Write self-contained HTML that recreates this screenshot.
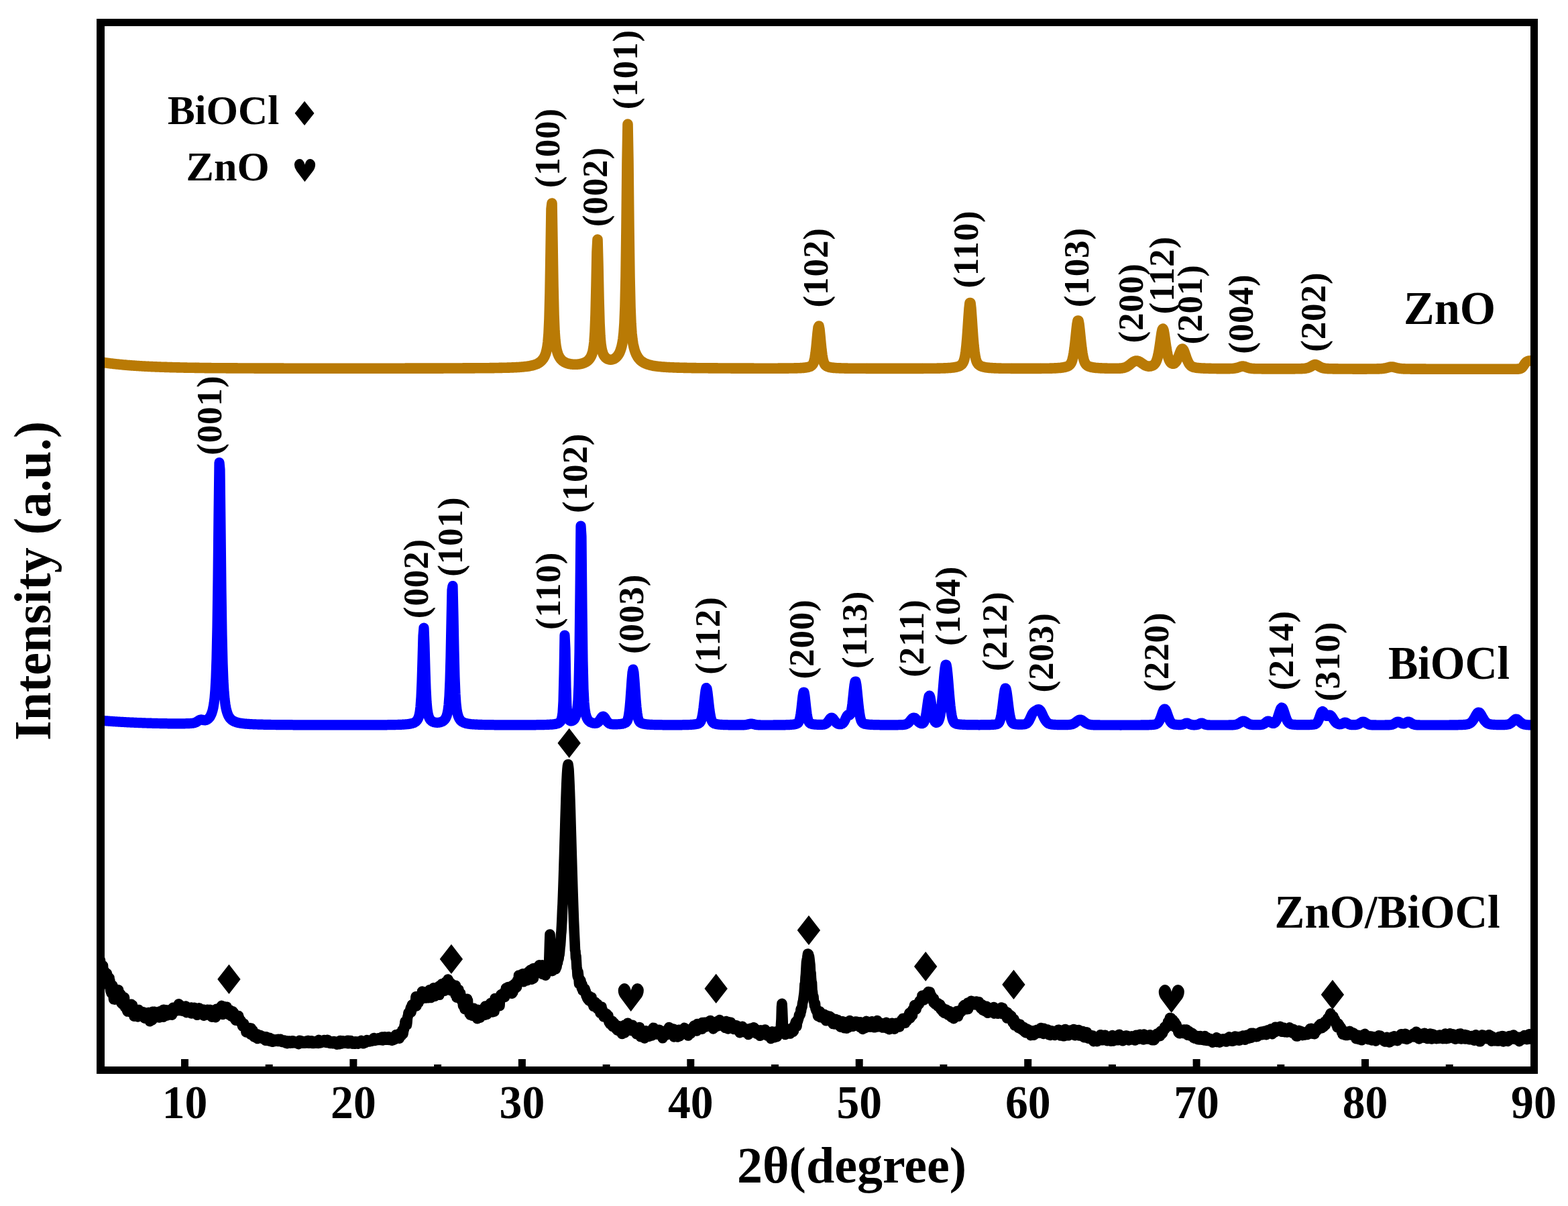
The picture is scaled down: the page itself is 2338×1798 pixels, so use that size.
<!DOCTYPE html>
<html lang="en"><head><meta charset="utf-8"><title>XRD patterns of ZnO, BiOCl and ZnO/BiOCl</title>
<style>
html,body{margin:0;padding:0;background:#fff;}
body{width:2338px;height:1798px;overflow:hidden;}
svg{display:block;}
</style></head><body>
<svg width="2338" height="1798" viewBox="0 0 2338 1798">
<rect x="0" y="0" width="2338" height="1798" fill="#fff"/>
<defs><clipPath id="plotclip"><rect x="150" y="33" width="2138" height="1562"/></clipPath></defs>
<g fill="none" stroke-linejoin="round" stroke-linecap="butt" clip-path="url(#plotclip)">
<path d="M146.0,539.1 L147.0,539.3 L148.0,539.5 L149.0,539.6 L150.0,539.8 L151.0,539.9 L152.0,540.1 L153.0,540.2 L154.0,540.4 L155.0,540.5 L156.0,540.7 L157.0,540.8 L158.0,541.0 L159.0,541.1 L160.0,541.2 L161.0,541.4 L162.0,541.5 L163.0,541.6 L164.0,541.8 L165.0,541.9 L166.0,542.0 L167.0,542.1 L168.0,542.2 L169.0,542.4 L170.0,542.5 L171.0,542.6 L172.0,542.7 L173.0,542.8 L174.0,542.9 L175.0,543.0 L176.0,543.1 L177.0,543.2 L178.0,543.3 L179.0,543.4 L180.0,543.5 L181.0,543.6 L182.0,543.7 L183.0,543.8 L184.0,543.9 L185.0,544.0 L186.0,544.1 L187.0,544.1 L188.0,544.2 L189.0,544.3 L190.0,544.4 L191.0,544.5 L192.0,544.6 L193.0,544.6 L194.0,544.7 L195.0,544.8 L196.0,544.9 L197.0,544.9 L198.0,545.0 L199.0,545.1 L200.0,545.1 L201.0,545.2 L202.0,545.3 L203.0,545.3 L204.0,545.4 L205.0,545.5 L206.0,545.5 L207.0,545.6 L208.0,545.7 L209.0,545.7 L210.0,545.8 L211.0,545.8 L212.0,545.9 L213.0,546.0 L214.0,546.0 L215.0,546.1 L216.0,546.1 L217.0,546.2 L218.0,546.2 L219.0,546.3 L220.0,546.3 L221.0,546.4 L222.0,546.4 L223.0,546.5 L224.0,546.5 L225.0,546.6 L226.0,546.6 L227.0,546.6 L228.0,546.7 L229.0,546.7 L230.0,546.8 L231.0,546.8 L232.0,546.9 L233.0,546.9 L234.0,546.9 L235.0,547.0 L236.0,547.0 L237.0,547.0 L238.0,547.1 L239.0,547.1 L240.0,547.2 L241.0,547.2 L242.0,547.2 L243.0,547.3 L244.0,547.3 L245.0,547.3 L246.0,547.4 L247.0,547.4 L248.0,547.4 L249.0,547.4 L250.0,547.5 L251.0,547.5 L252.0,547.5 L253.0,547.6 L254.0,547.6 L255.0,547.6 L256.0,547.6 L257.0,547.7 L258.0,547.7 L259.0,547.7 L260.0,547.8 L261.0,547.8 L262.0,547.8 L263.0,547.8 L264.0,547.9 L265.0,547.9 L266.0,547.9 L267.0,547.9 L268.0,547.9 L269.0,548.0 L270.0,548.0 L271.0,548.0 L272.0,548.0 L273.0,548.0 L274.0,548.1 L275.0,548.1 L276.0,548.1 L277.0,548.1 L278.0,548.1 L279.0,548.2 L280.0,548.2 L281.0,548.2 L282.0,548.2 L283.0,548.2 L284.0,548.3 L285.0,548.3 L286.0,548.3 L287.0,548.3 L288.0,548.3 L289.0,548.3 L290.0,548.3 L291.0,548.4 L292.0,548.4 L293.0,548.4 L294.0,548.4 L295.0,548.4 L296.0,548.4 L297.0,548.4 L298.0,548.5 L299.0,548.5 L300.0,548.5 L301.0,548.5 L302.0,548.5 L303.0,548.5 L304.0,548.5 L305.0,548.6 L306.0,548.6 L307.0,548.6 L308.0,548.6 L309.0,548.6 L310.0,548.6 L311.0,548.6 L312.0,548.6 L313.0,548.6 L314.0,548.6 L315.0,548.7 L316.0,548.7 L317.0,548.7 L318.0,548.7 L319.0,548.7 L320.0,548.7 L321.0,548.7 L322.0,548.7 L323.0,548.7 L324.0,548.7 L325.0,548.8 L326.0,548.8 L327.0,548.8 L328.0,548.8 L329.0,548.8 L330.0,548.8 L331.0,548.8 L332.0,548.8 L333.0,548.8 L334.0,548.8 L335.0,548.8 L336.0,548.8 L337.0,548.8 L338.0,548.9 L339.0,548.9 L340.0,548.9 L341.0,548.9 L342.0,548.9 L343.0,548.9 L344.0,548.9 L345.0,548.9 L346.0,548.9 L347.0,548.9 L348.0,548.9 L349.0,548.9 L350.0,548.9 L351.0,548.9 L352.0,548.9 L353.0,548.9 L354.0,548.9 L355.0,549.0 L356.0,549.0 L357.0,549.0 L358.0,549.0 L359.0,549.0 L360.0,549.0 L361.0,549.0 L362.0,549.0 L363.0,549.0 L364.0,549.0 L365.0,549.0 L366.0,549.0 L367.0,549.0 L368.0,549.0 L369.0,549.0 L370.0,549.0 L371.0,549.0 L372.0,549.0 L373.0,549.0 L374.0,549.0 L375.0,549.0 L376.0,549.0 L377.0,549.0 L378.0,549.0 L379.0,549.1 L380.0,549.1 L381.0,549.1 L382.0,549.1 L383.0,549.1 L384.0,549.1 L385.0,549.1 L386.0,549.1 L387.0,549.1 L388.0,549.1 L389.0,549.1 L390.0,549.1 L391.0,549.1 L392.0,549.1 L393.0,549.1 L394.0,549.1 L395.0,549.1 L396.0,549.1 L397.0,549.1 L398.0,549.1 L399.0,549.1 L400.0,549.1 L401.0,549.1 L402.0,549.1 L403.0,549.1 L404.0,549.1 L405.0,549.1 L406.0,549.1 L407.0,549.1 L408.0,549.1 L409.0,549.1 L410.0,549.1 L411.0,549.1 L412.0,549.1 L413.0,549.1 L414.0,549.1 L415.0,549.1 L416.0,549.1 L417.0,549.1 L418.0,549.1 L419.0,549.1 L420.0,549.1 L421.0,549.1 L422.0,549.1 L423.0,549.2 L424.0,549.2 L425.0,549.2 L426.0,549.2 L427.0,549.2 L428.0,549.2 L429.0,549.2 L430.0,549.2 L431.0,549.2 L432.0,549.2 L433.0,549.2 L434.0,549.2 L435.0,549.2 L436.0,549.2 L437.0,549.2 L438.0,549.2 L439.0,549.2 L440.0,549.2 L441.0,549.2 L442.0,549.2 L443.0,549.2 L444.0,549.2 L445.0,549.2 L446.0,549.2 L447.0,549.2 L448.0,549.2 L449.0,549.2 L450.0,549.2 L451.0,549.2 L452.0,549.2 L453.0,549.2 L454.0,549.2 L455.0,549.2 L456.0,549.2 L457.0,549.2 L458.0,549.2 L459.0,549.2 L460.0,549.2 L461.0,549.2 L462.0,549.2 L463.0,549.2 L464.0,549.2 L465.0,549.2 L466.0,549.2 L467.0,549.2 L468.0,549.2 L469.0,549.2 L470.0,549.2 L471.0,549.2 L472.0,549.2 L473.0,549.2 L474.0,549.2 L475.0,549.2 L476.0,549.2 L477.0,549.2 L478.0,549.2 L479.0,549.2 L480.0,549.2 L481.0,549.2 L482.0,549.2 L483.0,549.2 L484.0,549.2 L485.0,549.2 L486.0,549.2 L487.0,549.2 L488.0,549.2 L489.0,549.2 L490.0,549.2 L491.0,549.2 L492.0,549.2 L493.0,549.2 L494.0,549.2 L495.0,549.2 L496.0,549.2 L497.0,549.2 L498.0,549.2 L499.0,549.2 L500.0,549.2 L501.0,549.2 L502.0,549.2 L503.0,549.2 L504.0,549.2 L505.0,549.2 L506.0,549.2 L507.0,549.2 L508.0,549.2 L509.0,549.2 L510.0,549.2 L511.0,549.2 L512.0,549.2 L513.0,549.2 L514.0,549.2 L515.0,549.2 L516.0,549.2 L517.0,549.2 L518.0,549.2 L519.0,549.2 L520.0,549.2 L521.0,549.2 L522.0,549.2 L523.0,549.2 L524.0,549.2 L525.0,549.2 L526.0,549.2 L527.0,549.2 L528.0,549.2 L529.0,549.2 L530.0,549.2 L531.0,549.2 L532.0,549.2 L533.0,549.2 L534.0,549.2 L535.0,549.2 L536.0,549.2 L537.0,549.2 L538.0,549.2 L539.0,549.2 L540.0,549.2 L541.0,549.2 L542.0,549.2 L543.0,549.2 L544.0,549.2 L545.0,549.2 L546.0,549.2 L547.0,549.2 L548.0,549.2 L549.0,549.2 L550.0,549.2 L551.0,549.2 L552.0,549.2 L553.0,549.2 L554.0,549.2 L555.0,549.2 L556.0,549.2 L557.0,549.2 L558.0,549.2 L559.0,549.2 L560.0,549.2 L561.0,549.2 L562.0,549.2 L563.0,549.2 L564.0,549.2 L565.0,549.2 L566.0,549.2 L567.0,549.2 L568.0,549.2 L569.0,549.2 L570.0,549.2 L571.0,549.2 L572.0,549.2 L573.0,549.2 L574.0,549.2 L575.0,549.2 L576.0,549.2 L577.0,549.2 L578.0,549.2 L579.0,549.2 L580.0,549.2 L581.0,549.2 L582.0,549.2 L583.0,549.2 L584.0,549.2 L585.0,549.2 L586.0,549.2 L587.0,549.2 L588.0,549.2 L589.0,549.2 L590.0,549.2 L591.0,549.2 L592.0,549.2 L593.0,549.2 L594.0,549.2 L595.0,549.2 L596.0,549.2 L597.0,549.2 L598.0,549.2 L599.0,549.2 L600.0,549.2 L601.0,549.2 L602.0,549.2 L603.0,549.2 L604.0,549.2 L605.0,549.1 L606.0,549.1 L607.0,549.1 L608.0,549.1 L609.0,549.1 L610.0,549.1 L611.0,549.1 L612.0,549.1 L613.0,549.1 L614.0,549.1 L615.0,549.1 L616.0,549.1 L617.0,549.1 L618.0,549.1 L619.0,549.1 L620.0,549.1 L621.0,549.1 L622.0,549.1 L623.0,549.1 L624.0,549.1 L625.0,549.1 L626.0,549.1 L627.0,549.1 L628.0,549.1 L629.0,549.1 L630.0,549.1 L631.0,549.1 L632.0,549.1 L633.0,549.1 L634.0,549.1 L635.0,549.1 L636.0,549.1 L637.0,549.1 L638.0,549.1 L639.0,549.1 L640.0,549.1 L641.0,549.1 L642.0,549.1 L643.0,549.1 L644.0,549.1 L645.0,549.1 L646.0,549.1 L647.0,549.1 L648.0,549.1 L649.0,549.1 L650.0,549.1 L651.0,549.1 L652.0,549.1 L653.0,549.1 L654.0,549.1 L655.0,549.1 L656.0,549.1 L657.0,549.1 L658.0,549.1 L659.0,549.1 L660.0,549.1 L661.0,549.1 L662.0,549.0 L663.0,549.0 L664.0,549.0 L665.0,549.0 L666.0,549.0 L667.0,549.0 L668.0,549.0 L669.0,549.0 L670.0,549.0 L671.0,549.0 L672.0,549.0 L673.0,549.0 L674.0,549.0 L675.0,549.0 L676.0,549.0 L677.0,549.0 L678.0,549.0 L679.0,549.0 L680.0,549.0 L681.0,549.0 L682.0,549.0 L683.0,549.0 L684.0,549.0 L685.0,549.0 L686.0,549.0 L687.0,549.0 L688.0,549.0 L689.0,549.0 L690.0,548.9 L691.0,548.9 L692.0,548.9 L693.0,548.9 L694.0,548.9 L695.0,548.9 L696.0,548.9 L697.0,548.9 L698.0,548.9 L699.0,548.9 L700.0,548.9 L701.0,548.9 L702.0,548.9 L703.0,548.9 L704.0,548.9 L705.0,548.9 L706.0,548.9 L707.0,548.9 L708.0,548.8 L709.0,548.8 L710.0,548.8 L711.0,548.8 L712.0,548.8 L713.0,548.8 L714.0,548.8 L715.0,548.8 L716.0,548.8 L717.0,548.8 L718.0,548.8 L719.0,548.8 L720.0,548.8 L721.0,548.7 L722.0,548.7 L723.0,548.7 L724.0,548.7 L725.0,548.7 L726.0,548.7 L727.0,548.7 L728.0,548.7 L729.0,548.7 L730.0,548.7 L731.0,548.6 L732.0,548.6 L733.0,548.6 L734.0,548.6 L735.0,548.6 L736.0,548.6 L737.0,548.6 L738.0,548.5 L739.0,548.5 L740.0,548.5 L741.0,548.5 L742.0,548.5 L743.0,548.5 L744.0,548.4 L745.0,548.4 L746.0,548.4 L747.0,548.4 L748.0,548.4 L749.0,548.3 L750.0,548.3 L751.0,548.3 L752.0,548.3 L753.0,548.3 L754.0,548.2 L755.0,548.2 L756.0,548.2 L757.0,548.1 L758.0,548.1 L759.0,548.1 L760.0,548.1 L761.0,548.0 L762.0,548.0 L763.0,547.9 L764.0,547.9 L765.0,547.9 L766.0,547.8 L767.0,547.8 L768.0,547.7 L769.0,547.7 L770.0,547.6 L771.0,547.6 L772.0,547.5 L773.0,547.5 L774.0,547.4 L775.0,547.3 L776.0,547.3 L777.0,547.2 L778.0,547.1 L779.0,547.0 L780.0,546.9 L781.0,546.8 L782.0,546.7 L783.0,546.6 L784.0,546.5 L785.0,546.4 L786.0,546.3 L787.0,546.1 L788.0,546.0 L789.0,545.8 L790.0,545.6 L791.0,545.4 L792.0,545.2 L793.0,545.0 L794.0,544.8 L795.0,544.5 L796.0,544.2 L797.0,543.9 L798.0,543.6 L799.0,543.2 L800.0,542.8 L801.0,542.4 L802.0,541.9 L803.0,541.3 L804.0,540.7 L805.0,540.0 L806.0,539.2 L807.0,538.3 L808.0,537.3 L809.0,536.1 L810.0,534.8 L811.0,533.2 L812.0,531.3 L813.0,529.0 L814.0,526.1 L815.0,522.3 L816.0,517.3 L817.0,509.7 L818.0,497.4 L819.0,475.4 L820.0,436.7 L821.0,376.4 L822.0,311.4 L823.0,303.0 L824.0,362.4 L825.0,426.2 L826.0,469.1 L827.0,493.7 L828.0,507.5 L829.0,515.7 L830.0,521.1 L831.0,525.0 L832.0,528.0 L833.0,530.3 L834.0,532.2 L835.0,533.8 L836.0,535.2 L837.0,536.3 L838.0,537.3 L839.0,538.1 L840.0,538.9 L841.0,539.5 L842.0,540.1 L843.0,540.6 L844.0,541.0 L845.0,541.4 L846.0,541.7 L847.0,542.0 L848.0,542.3 L849.0,542.5 L850.0,542.7 L851.0,542.9 L852.0,543.0 L853.0,543.1 L854.0,543.2 L855.0,543.3 L856.0,543.3 L857.0,543.3 L858.0,543.3 L859.0,543.3 L860.0,543.2 L861.0,543.2 L862.0,543.1 L863.0,543.0 L864.0,542.8 L865.0,542.7 L866.0,542.5 L867.0,542.2 L868.0,542.0 L869.0,541.7 L870.0,541.3 L871.0,541.0 L872.0,540.5 L873.0,540.0 L874.0,539.5 L875.0,538.8 L876.0,538.1 L877.0,537.2 L878.0,536.2 L879.0,535.0 L880.0,533.6 L881.0,531.9 L882.0,529.8 L883.0,527.1 L884.0,523.5 L885.0,518.3 L886.0,509.9 L887.0,495.1 L888.0,468.9 L889.0,426.6 L890.0,375.6 L891.0,357.0 L892.0,395.1 L893.0,445.1 L894.0,480.6 L895.0,501.3 L896.0,512.9 L897.0,519.5 L898.0,523.8 L899.0,526.8 L900.0,529.1 L901.0,530.8 L902.0,532.1 L903.0,533.2 L904.0,534.0 L905.0,534.7 L906.0,535.2 L907.0,535.6 L908.0,535.9 L909.0,536.1 L910.0,536.2 L911.0,536.2 L912.0,536.1 L913.0,535.9 L914.0,535.6 L915.0,535.2 L916.0,534.7 L917.0,534.1 L918.0,533.4 L919.0,532.5 L920.0,531.5 L921.0,530.3 L922.0,528.9 L923.0,527.2 L924.0,525.2 L925.0,522.8 L926.0,519.8 L927.0,516.2 L928.0,511.4 L929.0,505.1 L930.0,496.1 L931.0,481.9 L932.0,457.0 L933.0,412.5 L934.0,338.4 L935.0,240.8 L936.0,185.0 L937.0,241.0 L938.0,338.7 L939.0,412.9 L940.0,457.5 L941.0,482.5 L942.0,496.9 L943.0,506.0 L944.0,512.5 L945.0,517.3 L946.0,521.1 L947.0,524.2 L948.0,526.8 L949.0,529.0 L950.0,530.8 L951.0,532.5 L952.0,533.9 L953.0,535.1 L954.0,536.2 L955.0,537.2 L956.0,538.1 L957.0,538.8 L958.0,539.5 L959.0,540.2 L960.0,540.8 L961.0,541.3 L962.0,541.8 L963.0,542.2 L964.0,542.6 L965.0,543.0 L966.0,543.3 L967.0,543.6 L968.0,543.9 L969.0,544.2 L970.0,544.4 L971.0,544.7 L972.0,544.9 L973.0,545.1 L974.0,545.3 L975.0,545.5 L976.0,545.6 L977.0,545.8 L978.0,545.9 L979.0,546.1 L980.0,546.2 L981.0,546.3 L982.0,546.4 L983.0,546.5 L984.0,546.6 L985.0,546.7 L986.0,546.8 L987.0,546.9 L988.0,547.0 L989.0,547.1 L990.0,547.1 L991.0,547.2 L992.0,547.3 L993.0,547.3 L994.0,547.4 L995.0,547.5 L996.0,547.5 L997.0,547.6 L998.0,547.6 L999.0,547.7 L1000.0,547.7 L1001.0,547.8 L1002.0,547.8 L1003.0,547.8 L1004.0,547.9 L1005.0,547.9 L1006.0,548.0 L1007.0,548.0 L1008.0,548.0 L1009.0,548.1 L1010.0,548.1 L1011.0,548.1 L1012.0,548.1 L1013.0,548.2 L1014.0,548.2 L1015.0,548.2 L1016.0,548.3 L1017.0,548.3 L1018.0,548.3 L1019.0,548.3 L1020.0,548.4 L1021.0,548.4 L1022.0,548.4 L1023.0,548.4 L1024.0,548.4 L1025.0,548.5 L1026.0,548.5 L1027.0,548.5 L1028.0,548.5 L1029.0,548.5 L1030.0,548.5 L1031.0,548.6 L1032.0,548.6 L1033.0,548.6 L1034.0,548.6 L1035.0,548.6 L1036.0,548.6 L1037.0,548.6 L1038.0,548.7 L1039.0,548.7 L1040.0,548.7 L1041.0,548.7 L1042.0,548.7 L1043.0,548.7 L1044.0,548.7 L1045.0,548.7 L1046.0,548.8 L1047.0,548.8 L1048.0,548.8 L1049.0,548.8 L1050.0,548.8 L1051.0,548.8 L1052.0,548.8 L1053.0,548.8 L1054.0,548.8 L1055.0,548.8 L1056.0,548.8 L1057.0,548.9 L1058.0,548.9 L1059.0,548.9 L1060.0,548.9 L1061.0,548.9 L1062.0,548.9 L1063.0,548.9 L1064.0,548.9 L1065.0,548.9 L1066.0,548.9 L1067.0,548.9 L1068.0,548.9 L1069.0,548.9 L1070.0,548.9 L1071.0,549.0 L1072.0,549.0 L1073.0,549.0 L1074.0,549.0 L1075.0,549.0 L1076.0,549.0 L1077.0,549.0 L1078.0,549.0 L1079.0,549.0 L1080.0,549.0 L1081.0,549.0 L1082.0,549.0 L1083.0,549.0 L1084.0,549.0 L1085.0,549.0 L1086.0,549.0 L1087.0,549.0 L1088.0,549.0 L1089.0,549.0 L1090.0,549.1 L1091.0,549.1 L1092.0,549.1 L1093.0,549.1 L1094.0,549.1 L1095.0,549.1 L1096.0,549.1 L1097.0,549.1 L1098.0,549.1 L1099.0,549.1 L1100.0,549.1 L1101.0,549.1 L1102.0,549.1 L1103.0,549.1 L1104.0,549.1 L1105.0,549.1 L1106.0,549.1 L1107.0,549.1 L1108.0,549.1 L1109.0,549.1 L1110.0,549.1 L1111.0,549.1 L1112.0,549.1 L1113.0,549.1 L1114.0,549.1 L1115.0,549.1 L1116.0,549.1 L1117.0,549.1 L1118.0,549.1 L1119.0,549.1 L1120.0,549.1 L1121.0,549.1 L1122.0,549.1 L1123.0,549.1 L1124.0,549.2 L1125.0,549.2 L1126.0,549.2 L1127.0,549.2 L1128.0,549.2 L1129.0,549.2 L1130.0,549.2 L1131.0,549.2 L1132.0,549.2 L1133.0,549.2 L1134.0,549.2 L1135.0,549.2 L1136.0,549.2 L1137.0,549.2 L1138.0,549.2 L1139.0,549.2 L1140.0,549.2 L1141.0,549.2 L1142.0,549.2 L1143.0,549.2 L1144.0,549.2 L1145.0,549.2 L1146.0,549.2 L1147.0,549.2 L1148.0,549.2 L1149.0,549.2 L1150.0,549.2 L1151.0,549.2 L1152.0,549.2 L1153.0,549.2 L1154.0,549.2 L1155.0,549.2 L1156.0,549.2 L1157.0,549.2 L1158.0,549.2 L1159.0,549.2 L1160.0,549.2 L1161.0,549.1 L1162.0,549.1 L1163.0,549.1 L1164.0,549.1 L1165.0,549.1 L1166.0,549.1 L1167.0,549.1 L1168.0,549.1 L1169.0,549.1 L1170.0,549.1 L1171.0,549.1 L1172.0,549.1 L1173.0,549.1 L1174.0,549.1 L1175.0,549.1 L1176.0,549.1 L1177.0,549.0 L1178.0,549.0 L1179.0,549.0 L1180.0,549.0 L1181.0,549.0 L1182.0,549.0 L1183.0,549.0 L1184.0,548.9 L1185.0,548.9 L1186.0,548.9 L1187.0,548.9 L1188.0,548.9 L1189.0,548.8 L1190.0,548.8 L1191.0,548.8 L1192.0,548.7 L1193.0,548.7 L1194.0,548.6 L1195.0,548.6 L1196.0,548.5 L1197.0,548.4 L1198.0,548.4 L1199.0,548.3 L1200.0,548.2 L1201.0,548.0 L1202.0,547.9 L1203.0,547.7 L1204.0,547.6 L1205.0,547.3 L1206.0,547.1 L1207.0,546.7 L1208.0,546.4 L1209.0,545.9 L1210.0,545.2 L1211.0,544.3 L1212.0,543.0 L1213.0,541.0 L1214.0,537.9 L1215.0,533.3 L1216.0,526.8 L1217.0,518.1 L1218.0,507.6 L1219.0,496.7 L1220.0,488.3 L1221.0,486.0 L1222.0,491.1 L1223.0,501.0 L1224.0,512.0 L1225.0,521.8 L1226.0,529.6 L1227.0,535.4 L1228.0,539.3 L1229.0,541.9 L1230.0,543.6 L1231.0,544.7 L1232.0,545.5 L1233.0,546.1 L1234.0,546.6 L1235.0,546.9 L1236.0,547.2 L1237.0,547.5 L1238.0,547.7 L1239.0,547.9 L1240.0,548.0 L1241.0,548.1 L1242.0,548.3 L1243.0,548.4 L1244.0,548.4 L1245.0,548.5 L1246.0,548.6 L1247.0,548.7 L1248.0,548.7 L1249.0,548.8 L1250.0,548.8 L1251.0,548.8 L1252.0,548.9 L1253.0,548.9 L1254.0,548.9 L1255.0,549.0 L1256.0,549.0 L1257.0,549.0 L1258.0,549.0 L1259.0,549.1 L1260.0,549.1 L1261.0,549.1 L1262.0,549.1 L1263.0,549.1 L1264.0,549.2 L1265.0,549.2 L1266.0,549.2 L1267.0,549.2 L1268.0,549.2 L1269.0,549.2 L1270.0,549.2 L1271.0,549.2 L1272.0,549.2 L1273.0,549.3 L1274.0,549.3 L1275.0,549.3 L1276.0,549.3 L1277.0,549.3 L1278.0,549.3 L1279.0,549.3 L1280.0,549.3 L1281.0,549.3 L1282.0,549.3 L1283.0,549.3 L1284.0,549.3 L1285.0,549.3 L1286.0,549.3 L1287.0,549.3 L1288.0,549.3 L1289.0,549.3 L1290.0,549.3 L1291.0,549.3 L1292.0,549.4 L1293.0,549.4 L1294.0,549.4 L1295.0,549.4 L1296.0,549.4 L1297.0,549.4 L1298.0,549.4 L1299.0,549.4 L1300.0,549.4 L1301.0,549.4 L1302.0,549.4 L1303.0,549.4 L1304.0,549.4 L1305.0,549.4 L1306.0,549.4 L1307.0,549.4 L1308.0,549.4 L1309.0,549.4 L1310.0,549.4 L1311.0,549.4 L1312.0,549.4 L1313.0,549.4 L1314.0,549.4 L1315.0,549.4 L1316.0,549.4 L1317.0,549.4 L1318.0,549.4 L1319.0,549.4 L1320.0,549.4 L1321.0,549.4 L1322.0,549.4 L1323.0,549.4 L1324.0,549.4 L1325.0,549.4 L1326.0,549.4 L1327.0,549.4 L1328.0,549.4 L1329.0,549.4 L1330.0,549.4 L1331.0,549.4 L1332.0,549.4 L1333.0,549.4 L1334.0,549.4 L1335.0,549.4 L1336.0,549.4 L1337.0,549.4 L1338.0,549.4 L1339.0,549.4 L1340.0,549.4 L1341.0,549.4 L1342.0,549.4 L1343.0,549.4 L1344.0,549.4 L1345.0,549.4 L1346.0,549.4 L1347.0,549.4 L1348.0,549.4 L1349.0,549.4 L1350.0,549.4 L1351.0,549.4 L1352.0,549.4 L1353.0,549.4 L1354.0,549.4 L1355.0,549.4 L1356.0,549.4 L1357.0,549.4 L1358.0,549.4 L1359.0,549.4 L1360.0,549.4 L1361.0,549.4 L1362.0,549.4 L1363.0,549.4 L1364.0,549.4 L1365.0,549.4 L1366.0,549.4 L1367.0,549.4 L1368.0,549.4 L1369.0,549.4 L1370.0,549.4 L1371.0,549.4 L1372.0,549.4 L1373.0,549.4 L1374.0,549.4 L1375.0,549.4 L1376.0,549.4 L1377.0,549.3 L1378.0,549.3 L1379.0,549.3 L1380.0,549.3 L1381.0,549.3 L1382.0,549.3 L1383.0,549.3 L1384.0,549.3 L1385.0,549.3 L1386.0,549.3 L1387.0,549.3 L1388.0,549.3 L1389.0,549.3 L1390.0,549.3 L1391.0,549.2 L1392.0,549.2 L1393.0,549.2 L1394.0,549.2 L1395.0,549.2 L1396.0,549.2 L1397.0,549.2 L1398.0,549.1 L1399.0,549.1 L1400.0,549.1 L1401.0,549.1 L1402.0,549.1 L1403.0,549.0 L1404.0,549.0 L1405.0,549.0 L1406.0,549.0 L1407.0,548.9 L1408.0,548.9 L1409.0,548.9 L1410.0,548.8 L1411.0,548.8 L1412.0,548.7 L1413.0,548.7 L1414.0,548.6 L1415.0,548.5 L1416.0,548.5 L1417.0,548.4 L1418.0,548.3 L1419.0,548.2 L1420.0,548.1 L1421.0,548.0 L1422.0,547.9 L1423.0,547.7 L1424.0,547.6 L1425.0,547.4 L1426.0,547.2 L1427.0,546.9 L1428.0,546.6 L1429.0,546.3 L1430.0,545.9 L1431.0,545.5 L1432.0,544.9 L1433.0,544.2 L1434.0,543.4 L1435.0,542.2 L1436.0,540.7 L1437.0,538.4 L1438.0,535.2 L1439.0,530.6 L1440.0,523.9 L1441.0,514.9 L1442.0,503.3 L1443.0,489.3 L1444.0,474.1 L1445.0,460.2 L1446.0,451.5 L1447.0,451.5 L1448.0,460.2 L1449.0,474.1 L1450.0,489.3 L1451.0,503.3 L1452.0,514.9 L1453.0,523.9 L1454.0,530.6 L1455.0,535.2 L1456.0,538.5 L1457.0,540.7 L1458.0,542.2 L1459.0,543.4 L1460.0,544.2 L1461.0,544.9 L1462.0,545.5 L1463.0,545.9 L1464.0,546.3 L1465.0,546.7 L1466.0,546.9 L1467.0,547.2 L1468.0,547.4 L1469.0,547.6 L1470.0,547.8 L1471.0,547.9 L1472.0,548.0 L1473.0,548.2 L1474.0,548.3 L1475.0,548.4 L1476.0,548.4 L1477.0,548.5 L1478.0,548.6 L1479.0,548.6 L1480.0,548.7 L1481.0,548.8 L1482.0,548.8 L1483.0,548.9 L1484.0,548.9 L1485.0,548.9 L1486.0,549.0 L1487.0,549.0 L1488.0,549.0 L1489.0,549.1 L1490.0,549.1 L1491.0,549.1 L1492.0,549.1 L1493.0,549.2 L1494.0,549.2 L1495.0,549.2 L1496.0,549.2 L1497.0,549.2 L1498.0,549.2 L1499.0,549.3 L1500.0,549.3 L1501.0,549.3 L1502.0,549.3 L1503.0,549.3 L1504.0,549.3 L1505.0,549.3 L1506.0,549.3 L1507.0,549.3 L1508.0,549.4 L1509.0,549.4 L1510.0,549.4 L1511.0,549.4 L1512.0,549.4 L1513.0,549.4 L1514.0,549.4 L1515.0,549.4 L1516.0,549.4 L1517.0,549.4 L1518.0,549.4 L1519.0,549.4 L1520.0,549.4 L1521.0,549.4 L1522.0,549.4 L1523.0,549.4 L1524.0,549.4 L1525.0,549.4 L1526.0,549.4 L1527.0,549.4 L1528.0,549.4 L1529.0,549.4 L1530.0,549.4 L1531.0,549.4 L1532.0,549.4 L1533.0,549.4 L1534.0,549.4 L1535.0,549.4 L1536.0,549.4 L1537.0,549.4 L1538.0,549.4 L1539.0,549.4 L1540.0,549.4 L1541.0,549.4 L1542.0,549.4 L1543.0,549.4 L1544.0,549.4 L1545.0,549.4 L1546.0,549.4 L1547.0,549.4 L1548.0,549.4 L1549.0,549.4 L1550.0,549.4 L1551.0,549.4 L1552.0,549.4 L1553.0,549.3 L1554.0,549.3 L1555.0,549.3 L1556.0,549.3 L1557.0,549.3 L1558.0,549.3 L1559.0,549.3 L1560.0,549.3 L1561.0,549.2 L1562.0,549.2 L1563.0,549.2 L1564.0,549.2 L1565.0,549.2 L1566.0,549.1 L1567.0,549.1 L1568.0,549.1 L1569.0,549.1 L1570.0,549.0 L1571.0,549.0 L1572.0,548.9 L1573.0,548.9 L1574.0,548.9 L1575.0,548.8 L1576.0,548.7 L1577.0,548.7 L1578.0,548.6 L1579.0,548.5 L1580.0,548.5 L1581.0,548.4 L1582.0,548.3 L1583.0,548.1 L1584.0,548.0 L1585.0,547.9 L1586.0,547.7 L1587.0,547.5 L1588.0,547.3 L1589.0,547.0 L1590.0,546.7 L1591.0,546.4 L1592.0,546.0 L1593.0,545.5 L1594.0,544.8 L1595.0,544.0 L1596.0,542.9 L1597.0,541.4 L1598.0,539.2 L1599.0,536.2 L1600.0,532.1 L1601.0,526.7 L1602.0,519.7 L1603.0,511.3 L1604.0,501.7 L1605.0,491.8 L1606.0,483.2 L1607.0,478.0 L1608.0,478.0 L1609.0,483.2 L1610.0,491.8 L1611.0,501.7 L1612.0,511.3 L1613.0,519.7 L1614.0,526.7 L1615.0,532.1 L1616.0,536.2 L1617.0,539.2 L1618.0,541.4 L1619.0,542.9 L1620.0,544.0 L1621.0,544.8 L1622.0,545.5 L1623.0,546.0 L1624.0,546.4 L1625.0,546.7 L1626.0,547.0 L1627.0,547.3 L1628.0,547.5 L1629.0,547.7 L1630.0,547.9 L1631.0,548.0 L1632.0,548.1 L1633.0,548.3 L1634.0,548.4 L1635.0,548.5 L1636.0,548.5 L1637.0,548.6 L1638.0,548.7 L1639.0,548.7 L1640.0,548.8 L1641.0,548.9 L1642.0,548.9 L1643.0,548.9 L1644.0,549.0 L1645.0,549.0 L1646.0,549.0 L1647.0,549.1 L1648.0,549.1 L1649.0,549.1 L1650.0,549.1 L1651.0,549.2 L1652.0,549.2 L1653.0,549.2 L1654.0,549.2 L1655.0,549.2 L1656.0,549.2 L1657.0,549.3 L1658.0,549.3 L1659.0,549.3 L1660.0,549.3 L1661.0,549.3 L1662.0,549.3 L1663.0,549.3 L1664.0,549.3 L1665.0,549.3 L1666.0,549.3 L1667.0,549.3 L1668.0,549.2 L1669.0,549.2 L1670.0,549.1 L1671.0,549.1 L1672.0,549.0 L1673.0,548.9 L1674.0,548.7 L1675.0,548.5 L1676.0,548.3 L1677.0,548.0 L1678.0,547.6 L1679.0,547.2 L1680.0,546.7 L1681.0,546.1 L1682.0,545.5 L1683.0,544.8 L1684.0,544.1 L1685.0,543.3 L1686.0,542.5 L1687.0,541.7 L1688.0,540.9 L1689.0,540.2 L1690.0,539.5 L1691.0,539.0 L1692.0,538.5 L1693.0,538.2 L1694.0,538.0 L1695.0,538.0 L1696.0,538.1 L1697.0,538.3 L1698.0,538.7 L1699.0,539.2 L1700.0,539.8 L1701.0,540.4 L1702.0,541.1 L1703.0,541.8 L1704.0,542.5 L1705.0,543.2 L1706.0,543.9 L1707.0,544.4 L1708.0,544.9 L1709.0,545.3 L1710.0,545.7 L1711.0,545.9 L1712.0,546.1 L1713.0,546.1 L1714.0,546.1 L1715.0,546.0 L1716.0,545.9 L1717.0,545.6 L1718.0,545.2 L1719.0,544.8 L1720.0,544.1 L1721.0,543.3 L1722.0,542.2 L1723.0,540.8 L1724.0,538.9 L1725.0,536.3 L1726.0,533.1 L1727.0,528.9 L1728.0,523.7 L1729.0,517.5 L1730.0,510.5 L1731.0,503.2 L1732.0,496.4 L1733.0,491.6 L1734.0,490.0 L1735.0,492.2 L1736.0,497.5 L1737.0,504.4 L1738.0,511.6 L1739.0,518.4 L1740.0,524.2 L1741.0,529.1 L1742.0,533.0 L1743.0,536.0 L1744.0,538.2 L1745.0,539.8 L1746.0,541.0 L1747.0,541.7 L1748.0,542.1 L1749.0,542.3 L1750.0,542.2 L1751.0,541.8 L1752.0,541.0 L1753.0,540.0 L1754.0,538.6 L1755.0,536.8 L1756.0,534.7 L1757.0,532.2 L1758.0,529.6 L1759.0,526.8 L1760.0,524.2 L1761.0,522.0 L1762.0,520.5 L1763.0,520.0 L1764.0,520.6 L1765.0,522.3 L1766.0,524.7 L1767.0,527.5 L1768.0,530.5 L1769.0,533.4 L1770.0,536.1 L1771.0,538.4 L1772.0,540.5 L1773.0,542.2 L1774.0,543.6 L1775.0,544.7 L1776.0,545.6 L1777.0,546.2 L1778.0,546.8 L1779.0,547.2 L1780.0,547.5 L1781.0,547.7 L1782.0,547.9 L1783.0,548.1 L1784.0,548.3 L1785.0,548.4 L1786.0,548.5 L1787.0,548.6 L1788.0,548.7 L1789.0,548.8 L1790.0,548.8 L1791.0,548.9 L1792.0,549.0 L1793.0,549.0 L1794.0,549.1 L1795.0,549.1 L1796.0,549.1 L1797.0,549.2 L1798.0,549.2 L1799.0,549.3 L1800.0,549.3 L1801.0,549.3 L1802.0,549.3 L1803.0,549.4 L1804.0,549.4 L1805.0,549.4 L1806.0,549.4 L1807.0,549.5 L1808.0,549.5 L1809.0,549.5 L1810.0,549.5 L1811.0,549.5 L1812.0,549.5 L1813.0,549.5 L1814.0,549.6 L1815.0,549.6 L1816.0,549.6 L1817.0,549.6 L1818.0,549.6 L1819.0,549.6 L1820.0,549.6 L1821.0,549.6 L1822.0,549.6 L1823.0,549.6 L1824.0,549.6 L1825.0,549.6 L1826.0,549.6 L1827.0,549.6 L1828.0,549.6 L1829.0,549.6 L1830.0,549.6 L1831.0,549.6 L1832.0,549.6 L1833.0,549.6 L1834.0,549.6 L1835.0,549.5 L1836.0,549.5 L1837.0,549.5 L1838.0,549.4 L1839.0,549.3 L1840.0,549.2 L1841.0,549.1 L1842.0,548.9 L1843.0,548.7 L1844.0,548.5 L1845.0,548.2 L1846.0,547.9 L1847.0,547.6 L1848.0,547.2 L1849.0,546.9 L1850.0,546.5 L1851.0,546.2 L1852.0,546.1 L1853.0,546.0 L1854.0,546.1 L1855.0,546.3 L1856.0,546.5 L1857.0,546.9 L1858.0,547.3 L1859.0,547.6 L1860.0,548.0 L1861.0,548.3 L1862.0,548.6 L1863.0,548.8 L1864.0,549.0 L1865.0,549.2 L1866.0,549.3 L1867.0,549.4 L1868.0,549.5 L1869.0,549.6 L1870.0,549.6 L1871.0,549.7 L1872.0,549.7 L1873.0,549.7 L1874.0,549.7 L1875.0,549.8 L1876.0,549.8 L1877.0,549.8 L1878.0,549.8 L1879.0,549.8 L1880.0,549.8 L1881.0,549.8 L1882.0,549.9 L1883.0,549.9 L1884.0,549.9 L1885.0,549.9 L1886.0,549.9 L1887.0,549.9 L1888.0,549.9 L1889.0,549.9 L1890.0,549.9 L1891.0,549.9 L1892.0,549.9 L1893.0,549.9 L1894.0,549.9 L1895.0,549.9 L1896.0,549.9 L1897.0,549.9 L1898.0,549.9 L1899.0,549.9 L1900.0,549.9 L1901.0,549.9 L1902.0,549.9 L1903.0,549.9 L1904.0,549.9 L1905.0,549.9 L1906.0,549.9 L1907.0,549.9 L1908.0,549.9 L1909.0,549.9 L1910.0,549.9 L1911.0,549.9 L1912.0,549.9 L1913.0,549.9 L1914.0,549.9 L1915.0,549.9 L1916.0,549.9 L1917.0,549.9 L1918.0,549.9 L1919.0,549.9 L1920.0,549.9 L1921.0,549.9 L1922.0,549.9 L1923.0,549.9 L1924.0,549.9 L1925.0,549.9 L1926.0,549.9 L1927.0,549.9 L1928.0,549.9 L1929.0,549.9 L1930.0,549.9 L1931.0,549.8 L1932.0,549.8 L1933.0,549.8 L1934.0,549.8 L1935.0,549.8 L1936.0,549.8 L1937.0,549.7 L1938.0,549.7 L1939.0,549.7 L1940.0,549.7 L1941.0,549.6 L1942.0,549.6 L1943.0,549.5 L1944.0,549.5 L1945.0,549.4 L1946.0,549.3 L1947.0,549.1 L1948.0,548.9 L1949.0,548.7 L1950.0,548.5 L1951.0,548.1 L1952.0,547.8 L1953.0,547.3 L1954.0,546.8 L1955.0,546.2 L1956.0,545.6 L1957.0,545.0 L1958.0,544.4 L1959.0,543.9 L1960.0,543.6 L1961.0,543.5 L1962.0,543.6 L1963.0,543.9 L1964.0,544.4 L1965.0,545.0 L1966.0,545.6 L1967.0,546.2 L1968.0,546.8 L1969.0,547.3 L1970.0,547.8 L1971.0,548.2 L1972.0,548.5 L1973.0,548.7 L1974.0,549.0 L1975.0,549.1 L1976.0,549.3 L1977.0,549.4 L1978.0,549.5 L1979.0,549.6 L1980.0,549.6 L1981.0,549.7 L1982.0,549.7 L1983.0,549.7 L1984.0,549.8 L1985.0,549.8 L1986.0,549.8 L1987.0,549.8 L1988.0,549.9 L1989.0,549.9 L1990.0,549.9 L1991.0,549.9 L1992.0,549.9 L1993.0,549.9 L1994.0,549.9 L1995.0,549.9 L1996.0,550.0 L1997.0,550.0 L1998.0,550.0 L1999.0,550.0 L2000.0,550.0 L2001.0,550.0 L2002.0,550.0 L2003.0,550.0 L2004.0,550.0 L2005.0,550.0 L2006.0,550.0 L2007.0,550.0 L2008.0,550.0 L2009.0,550.0 L2010.0,550.0 L2011.0,550.0 L2012.0,550.0 L2013.0,550.0 L2014.0,550.0 L2015.0,550.0 L2016.0,550.0 L2017.0,550.1 L2018.0,550.1 L2019.0,550.1 L2020.0,550.1 L2021.0,550.1 L2022.0,550.1 L2023.0,550.1 L2024.0,550.1 L2025.0,550.1 L2026.0,550.1 L2027.0,550.1 L2028.0,550.1 L2029.0,550.1 L2030.0,550.1 L2031.0,550.1 L2032.0,550.1 L2033.0,550.1 L2034.0,550.1 L2035.0,550.1 L2036.0,550.1 L2037.0,550.1 L2038.0,550.1 L2039.0,550.0 L2040.0,550.0 L2041.0,550.0 L2042.0,550.0 L2043.0,550.0 L2044.0,550.0 L2045.0,550.0 L2046.0,550.0 L2047.0,550.0 L2048.0,550.0 L2049.0,550.0 L2050.0,550.0 L2051.0,550.0 L2052.0,550.0 L2053.0,549.9 L2054.0,549.9 L2055.0,549.9 L2056.0,549.9 L2057.0,549.8 L2058.0,549.8 L2059.0,549.7 L2060.0,549.7 L2061.0,549.6 L2062.0,549.5 L2063.0,549.3 L2064.0,549.2 L2065.0,549.0 L2066.0,548.8 L2067.0,548.6 L2068.0,548.3 L2069.0,548.1 L2070.0,547.8 L2071.0,547.6 L2072.0,547.3 L2073.0,547.2 L2074.0,547.0 L2075.0,547.0 L2076.0,547.0 L2077.0,547.2 L2078.0,547.3 L2079.0,547.6 L2080.0,547.8 L2081.0,548.1 L2082.0,548.3 L2083.0,548.6 L2084.0,548.8 L2085.0,549.0 L2086.0,549.2 L2087.0,549.3 L2088.0,549.5 L2089.0,549.6 L2090.0,549.7 L2091.0,549.8 L2092.0,549.8 L2093.0,549.9 L2094.0,549.9 L2095.0,549.9 L2096.0,550.0 L2097.0,550.0 L2098.0,550.0 L2099.0,550.0 L2100.0,550.0 L2101.0,550.0 L2102.0,550.0 L2103.0,550.1 L2104.0,550.1 L2105.0,550.1 L2106.0,550.1 L2107.0,550.1 L2108.0,550.1 L2109.0,550.1 L2110.0,550.1 L2111.0,550.1 L2112.0,550.1 L2113.0,550.1 L2114.0,550.1 L2115.0,550.1 L2116.0,550.1 L2117.0,550.1 L2118.0,550.1 L2119.0,550.1 L2120.0,550.1 L2121.0,550.1 L2122.0,550.1 L2123.0,550.1 L2124.0,550.1 L2125.0,550.1 L2126.0,550.2 L2127.0,550.2 L2128.0,550.2 L2129.0,550.2 L2130.0,550.2 L2131.0,550.2 L2132.0,550.2 L2133.0,550.2 L2134.0,550.2 L2135.0,550.2 L2136.0,550.2 L2137.0,550.2 L2138.0,550.2 L2139.0,550.2 L2140.0,550.2 L2141.0,550.2 L2142.0,550.2 L2143.0,550.2 L2144.0,550.2 L2145.0,550.2 L2146.0,550.2 L2147.0,550.2 L2148.0,550.2 L2149.0,550.2 L2150.0,550.2 L2151.0,550.2 L2152.0,550.2 L2153.0,550.2 L2154.0,550.2 L2155.0,550.2 L2156.0,550.2 L2157.0,550.2 L2158.0,550.2 L2159.0,550.2 L2160.0,550.2 L2161.0,550.2 L2162.0,550.2 L2163.0,550.2 L2164.0,550.2 L2165.0,550.2 L2166.0,550.2 L2167.0,550.2 L2168.0,550.2 L2169.0,550.2 L2170.0,550.2 L2171.0,550.2 L2172.0,550.2 L2173.0,550.2 L2174.0,550.2 L2175.0,550.2 L2176.0,550.2 L2177.0,550.2 L2178.0,550.2 L2179.0,550.2 L2180.0,550.2 L2181.0,550.2 L2182.0,550.2 L2183.0,550.2 L2184.0,550.2 L2185.0,550.2 L2186.0,550.2 L2187.0,550.2 L2188.0,550.2 L2189.0,550.2 L2190.0,550.2 L2191.0,550.2 L2192.0,550.2 L2193.0,550.2 L2194.0,550.2 L2195.0,550.2 L2196.0,550.2 L2197.0,550.2 L2198.0,550.2 L2199.0,550.2 L2200.0,550.2 L2201.0,550.2 L2202.0,550.2 L2203.0,550.2 L2204.0,550.2 L2205.0,550.2 L2206.0,550.2 L2207.0,550.2 L2208.0,550.2 L2209.0,550.2 L2210.0,550.2 L2211.0,550.2 L2212.0,550.2 L2213.0,550.2 L2214.0,550.2 L2215.0,550.2 L2216.0,550.2 L2217.0,550.2 L2218.0,550.2 L2219.0,550.2 L2220.0,550.2 L2221.0,550.2 L2222.0,550.2 L2223.0,550.2 L2224.0,550.2 L2225.0,550.2 L2226.0,550.2 L2227.0,550.2 L2228.0,550.2 L2229.0,550.2 L2230.0,550.2 L2231.0,550.2 L2232.0,550.2 L2233.0,550.2 L2234.0,550.2 L2235.0,550.2 L2236.0,550.2 L2237.0,550.2 L2238.0,550.2 L2239.0,550.2 L2240.0,550.2 L2241.0,550.2 L2242.0,550.2 L2243.0,550.2 L2244.0,550.2 L2245.0,550.2 L2246.0,550.2 L2247.0,550.2 L2248.0,550.2 L2249.0,550.2 L2250.0,550.2 L2251.0,550.2 L2252.0,550.2 L2253.0,550.2 L2254.0,550.2 L2255.0,550.2 L2256.0,550.2 L2257.0,550.2 L2258.0,550.2 L2259.0,550.2 L2260.0,550.2 L2261.0,550.2 L2262.0,550.2 L2263.0,550.1 L2264.0,550.1 L2265.0,549.9 L2266.0,549.8 L2267.0,549.5 L2268.0,549.0 L2269.0,548.4 L2270.0,547.4 L2271.0,546.2 L2272.0,544.8 L2273.0,543.2 L2274.0,541.7 L2275.0,540.5 L2276.0,539.6 L2277.0,538.9 L2278.0,538.5 L2279.0,538.2 L2280.0,538.0 L2281.0,537.9 L2282.0,537.8 L2283.0,537.8 L2284.0,537.8 L2285.0,537.8 L2286.0,537.8 L2287.0,537.7 L2288.0,537.7" stroke="#B97A05" stroke-width="15.6"/>
<path d="M146.0,1073.8 L147.0,1073.8 L148.0,1073.9 L149.0,1074.0 L150.0,1074.1 L151.0,1074.2 L152.0,1074.3 L153.0,1074.4 L154.0,1074.4 L155.0,1074.5 L156.0,1074.6 L157.0,1074.7 L158.0,1074.8 L159.0,1074.8 L160.0,1074.9 L161.0,1075.0 L162.0,1075.1 L163.0,1075.1 L164.0,1075.2 L165.0,1075.3 L166.0,1075.4 L167.0,1075.4 L168.0,1075.5 L169.0,1075.6 L170.0,1075.6 L171.0,1075.7 L172.0,1075.8 L173.0,1075.8 L174.0,1075.9 L175.0,1076.0 L176.0,1076.0 L177.0,1076.1 L178.0,1076.1 L179.0,1076.2 L180.0,1076.3 L181.0,1076.3 L182.0,1076.4 L183.0,1076.4 L184.0,1076.5 L185.0,1076.5 L186.0,1076.6 L187.0,1076.7 L188.0,1076.7 L189.0,1076.8 L190.0,1076.8 L191.0,1076.9 L192.0,1076.9 L193.0,1077.0 L194.0,1077.0 L195.0,1077.1 L196.0,1077.1 L197.0,1077.1 L198.0,1077.2 L199.0,1077.2 L200.0,1077.3 L201.0,1077.3 L202.0,1077.4 L203.0,1077.4 L204.0,1077.5 L205.0,1077.5 L206.0,1077.5 L207.0,1077.6 L208.0,1077.6 L209.0,1077.7 L210.0,1077.7 L211.0,1077.7 L212.0,1077.8 L213.0,1077.8 L214.0,1077.8 L215.0,1077.9 L216.0,1077.9 L217.0,1078.0 L218.0,1078.0 L219.0,1078.0 L220.0,1078.1 L221.0,1078.1 L222.0,1078.1 L223.0,1078.1 L224.0,1078.2 L225.0,1078.2 L226.0,1078.2 L227.0,1078.3 L228.0,1078.3 L229.0,1078.3 L230.0,1078.3 L231.0,1078.4 L232.0,1078.4 L233.0,1078.4 L234.0,1078.4 L235.0,1078.5 L236.0,1078.5 L237.0,1078.5 L238.0,1078.5 L239.0,1078.6 L240.0,1078.6 L241.0,1078.6 L242.0,1078.6 L243.0,1078.6 L244.0,1078.7 L245.0,1078.7 L246.0,1078.7 L247.0,1078.7 L248.0,1078.7 L249.0,1078.7 L250.0,1078.8 L251.0,1078.8 L252.0,1078.8 L253.0,1078.8 L254.0,1078.8 L255.0,1078.8 L256.0,1078.8 L257.0,1078.8 L258.0,1078.8 L259.0,1078.9 L260.0,1078.9 L261.0,1078.9 L262.0,1078.9 L263.0,1078.9 L264.0,1078.9 L265.0,1078.9 L266.0,1078.9 L267.0,1078.9 L268.0,1078.9 L269.0,1078.9 L270.0,1078.8 L271.0,1078.8 L272.0,1078.8 L273.0,1078.8 L274.0,1078.8 L275.0,1078.8 L276.0,1078.8 L277.0,1078.7 L278.0,1078.7 L279.0,1078.7 L280.0,1078.6 L281.0,1078.6 L282.0,1078.6 L283.0,1078.5 L284.0,1078.5 L285.0,1078.4 L286.0,1078.3 L287.0,1078.2 L288.0,1078.1 L289.0,1077.9 L290.0,1077.6 L291.0,1077.3 L292.0,1076.9 L293.0,1076.4 L294.0,1075.8 L295.0,1075.1 L296.0,1074.5 L297.0,1073.8 L298.0,1073.3 L299.0,1073.0 L300.0,1072.9 L301.0,1073.0 L302.0,1073.3 L303.0,1073.5 L304.0,1073.7 L305.0,1073.8 L306.0,1073.8 L307.0,1073.6 L308.0,1073.3 L309.0,1072.7 L310.0,1072.1 L311.0,1071.2 L312.0,1070.1 L313.0,1068.8 L314.0,1067.1 L315.0,1065.0 L316.0,1062.4 L317.0,1059.1 L318.0,1054.7 L319.0,1048.8 L320.0,1040.6 L321.0,1028.7 L322.0,1010.6 L323.0,981.7 L324.0,935.3 L325.0,863.9 L326.0,768.7 L327.0,689.5 L328.0,700.2 L329.0,788.6 L330.0,880.5 L331.0,946.5 L332.0,988.7 L333.0,1015.0 L334.0,1031.6 L335.0,1042.6 L336.0,1050.3 L337.0,1055.9 L338.0,1060.1 L339.0,1063.3 L340.0,1065.8 L341.0,1067.8 L342.0,1069.5 L343.0,1070.8 L344.0,1071.9 L345.0,1072.9 L346.0,1073.7 L347.0,1074.3 L348.0,1074.9 L349.0,1075.4 L350.0,1075.9 L351.0,1076.3 L352.0,1076.6 L353.0,1076.9 L354.0,1077.2 L355.0,1077.5 L356.0,1077.7 L357.0,1077.9 L358.0,1078.1 L359.0,1078.2 L360.0,1078.4 L361.0,1078.5 L362.0,1078.6 L363.0,1078.8 L364.0,1078.9 L365.0,1079.0 L366.0,1079.1 L367.0,1079.2 L368.0,1079.2 L369.0,1079.3 L370.0,1079.4 L371.0,1079.4 L372.0,1079.5 L373.0,1079.6 L374.0,1079.6 L375.0,1079.7 L376.0,1079.7 L377.0,1079.8 L378.0,1079.8 L379.0,1079.9 L380.0,1079.9 L381.0,1079.9 L382.0,1080.0 L383.0,1080.0 L384.0,1080.0 L385.0,1080.1 L386.0,1080.1 L387.0,1080.1 L388.0,1080.1 L389.0,1080.2 L390.0,1080.2 L391.0,1080.2 L392.0,1080.2 L393.0,1080.3 L394.0,1080.3 L395.0,1080.3 L396.0,1080.3 L397.0,1080.3 L398.0,1080.4 L399.0,1080.4 L400.0,1080.4 L401.0,1080.4 L402.0,1080.4 L403.0,1080.4 L404.0,1080.5 L405.0,1080.5 L406.0,1080.5 L407.0,1080.5 L408.0,1080.5 L409.0,1080.5 L410.0,1080.5 L411.0,1080.5 L412.0,1080.6 L413.0,1080.6 L414.0,1080.6 L415.0,1080.6 L416.0,1080.6 L417.0,1080.6 L418.0,1080.6 L419.0,1080.6 L420.0,1080.6 L421.0,1080.6 L422.0,1080.6 L423.0,1080.7 L424.0,1080.7 L425.0,1080.7 L426.0,1080.7 L427.0,1080.7 L428.0,1080.7 L429.0,1080.7 L430.0,1080.7 L431.0,1080.7 L432.0,1080.7 L433.0,1080.7 L434.0,1080.7 L435.0,1080.7 L436.0,1080.7 L437.0,1080.8 L438.0,1080.8 L439.0,1080.8 L440.0,1080.8 L441.0,1080.8 L442.0,1080.8 L443.0,1080.8 L444.0,1080.8 L445.0,1080.8 L446.0,1080.8 L447.0,1080.8 L448.0,1080.8 L449.0,1080.8 L450.0,1080.8 L451.0,1080.8 L452.0,1080.8 L453.0,1080.8 L454.0,1080.8 L455.0,1080.8 L456.0,1080.8 L457.0,1080.8 L458.0,1080.8 L459.0,1080.9 L460.0,1080.9 L461.0,1080.9 L462.0,1080.9 L463.0,1080.9 L464.0,1080.9 L465.0,1080.9 L466.0,1080.9 L467.0,1080.9 L468.0,1080.9 L469.0,1080.9 L470.0,1080.9 L471.0,1080.9 L472.0,1080.9 L473.0,1080.9 L474.0,1080.9 L475.0,1080.9 L476.0,1080.9 L477.0,1080.9 L478.0,1080.9 L479.0,1080.9 L480.0,1080.9 L481.0,1080.9 L482.0,1080.9 L483.0,1080.9 L484.0,1080.9 L485.0,1080.9 L486.0,1080.9 L487.0,1080.9 L488.0,1080.9 L489.0,1080.9 L490.0,1080.9 L491.0,1080.9 L492.0,1080.9 L493.0,1080.9 L494.0,1080.9 L495.0,1080.9 L496.0,1080.9 L497.0,1080.9 L498.0,1080.9 L499.0,1080.9 L500.0,1080.9 L501.0,1080.9 L502.0,1080.9 L503.0,1080.9 L504.0,1080.9 L505.0,1080.9 L506.0,1080.9 L507.0,1080.9 L508.0,1080.9 L509.0,1080.9 L510.0,1080.9 L511.0,1080.9 L512.0,1080.9 L513.0,1080.9 L514.0,1080.9 L515.0,1080.9 L516.0,1080.9 L517.0,1080.9 L518.0,1080.9 L519.0,1080.9 L520.0,1080.9 L521.0,1080.9 L522.0,1080.9 L523.0,1080.9 L524.0,1080.9 L525.0,1080.9 L526.0,1080.9 L527.0,1080.9 L528.0,1080.9 L529.0,1080.9 L530.0,1080.9 L531.0,1080.9 L532.0,1080.9 L533.0,1080.9 L534.0,1080.9 L535.0,1080.9 L536.0,1080.9 L537.0,1080.9 L538.0,1080.9 L539.0,1080.9 L540.0,1080.9 L541.0,1080.9 L542.0,1080.9 L543.0,1080.9 L544.0,1080.9 L545.0,1080.9 L546.0,1080.9 L547.0,1080.9 L548.0,1080.9 L549.0,1080.9 L550.0,1080.9 L551.0,1080.9 L552.0,1080.9 L553.0,1080.9 L554.0,1080.9 L555.0,1080.9 L556.0,1080.9 L557.0,1080.9 L558.0,1080.9 L559.0,1080.9 L560.0,1080.9 L561.0,1080.9 L562.0,1080.9 L563.0,1080.9 L564.0,1080.9 L565.0,1080.8 L566.0,1080.8 L567.0,1080.8 L568.0,1080.8 L569.0,1080.8 L570.0,1080.8 L571.0,1080.8 L572.0,1080.8 L573.0,1080.8 L574.0,1080.8 L575.0,1080.8 L576.0,1080.8 L577.0,1080.8 L578.0,1080.7 L579.0,1080.7 L580.0,1080.7 L581.0,1080.7 L582.0,1080.7 L583.0,1080.7 L584.0,1080.7 L585.0,1080.6 L586.0,1080.6 L587.0,1080.6 L588.0,1080.6 L589.0,1080.6 L590.0,1080.5 L591.0,1080.5 L592.0,1080.5 L593.0,1080.5 L594.0,1080.4 L595.0,1080.4 L596.0,1080.4 L597.0,1080.3 L598.0,1080.3 L599.0,1080.3 L600.0,1080.2 L601.0,1080.2 L602.0,1080.1 L603.0,1080.0 L604.0,1080.0 L605.0,1079.9 L606.0,1079.8 L607.0,1079.7 L608.0,1079.6 L609.0,1079.5 L610.0,1079.4 L611.0,1079.2 L612.0,1079.0 L613.0,1078.8 L614.0,1078.6 L615.0,1078.3 L616.0,1078.0 L617.0,1077.6 L618.0,1077.1 L619.0,1076.5 L620.0,1075.8 L621.0,1074.8 L622.0,1073.6 L623.0,1072.0 L624.0,1069.8 L625.0,1066.7 L626.0,1061.8 L627.0,1053.6 L628.0,1039.6 L629.0,1016.8 L630.0,983.7 L631.0,948.0 L632.0,936.0 L633.0,961.2 L634.0,997.9 L635.0,1027.0 L636.0,1045.9 L637.0,1057.1 L638.0,1063.7 L639.0,1067.7 L640.0,1070.3 L641.0,1072.2 L642.0,1073.5 L643.0,1074.5 L644.0,1075.3 L645.0,1075.9 L646.0,1076.3 L647.0,1076.7 L648.0,1076.9 L649.0,1077.1 L650.0,1077.2 L651.0,1077.3 L652.0,1077.3 L653.0,1077.3 L654.0,1077.2 L655.0,1077.1 L656.0,1076.9 L657.0,1076.6 L658.0,1076.3 L659.0,1075.9 L660.0,1075.4 L661.0,1074.7 L662.0,1073.9 L663.0,1072.8 L664.0,1071.5 L665.0,1069.7 L666.0,1067.3 L667.0,1063.9 L668.0,1058.9 L669.0,1051.1 L670.0,1037.9 L671.0,1015.3 L672.0,979.1 L673.0,928.3 L674.0,879.4 L675.0,873.5 L676.0,917.4 L677.0,970.0 L678.0,1009.4 L679.0,1034.4 L680.0,1049.2 L681.0,1057.9 L682.0,1063.3 L683.0,1067.0 L684.0,1069.6 L685.0,1071.6 L686.0,1073.1 L687.0,1074.3 L688.0,1075.2 L689.0,1075.9 L690.0,1076.5 L691.0,1077.1 L692.0,1077.5 L693.0,1077.8 L694.0,1078.2 L695.0,1078.4 L696.0,1078.7 L697.0,1078.9 L698.0,1079.0 L699.0,1079.2 L700.0,1079.3 L701.0,1079.5 L702.0,1079.6 L703.0,1079.7 L704.0,1079.8 L705.0,1079.8 L706.0,1079.9 L707.0,1080.0 L708.0,1080.0 L709.0,1080.1 L710.0,1080.2 L711.0,1080.2 L712.0,1080.2 L713.0,1080.3 L714.0,1080.3 L715.0,1080.4 L716.0,1080.4 L717.0,1080.4 L718.0,1080.4 L719.0,1080.5 L720.0,1080.5 L721.0,1080.5 L722.0,1080.5 L723.0,1080.6 L724.0,1080.6 L725.0,1080.6 L726.0,1080.6 L727.0,1080.6 L728.0,1080.6 L729.0,1080.7 L730.0,1080.7 L731.0,1080.7 L732.0,1080.7 L733.0,1080.7 L734.0,1080.7 L735.0,1080.7 L736.0,1080.7 L737.0,1080.8 L738.0,1080.8 L739.0,1080.8 L740.0,1080.8 L741.0,1080.8 L742.0,1080.8 L743.0,1080.8 L744.0,1080.8 L745.0,1080.8 L746.0,1080.8 L747.0,1080.8 L748.0,1080.8 L749.0,1080.8 L750.0,1080.8 L751.0,1080.8 L752.0,1080.8 L753.0,1080.8 L754.0,1080.8 L755.0,1080.8 L756.0,1080.9 L757.0,1080.9 L758.0,1080.9 L759.0,1080.9 L760.0,1080.9 L761.0,1080.9 L762.0,1080.9 L763.0,1080.9 L764.0,1080.9 L765.0,1080.9 L766.0,1080.9 L767.0,1080.9 L768.0,1080.9 L769.0,1080.9 L770.0,1080.9 L771.0,1080.9 L772.0,1080.9 L773.0,1080.9 L774.0,1080.9 L775.0,1080.9 L776.0,1080.9 L777.0,1080.9 L778.0,1080.9 L779.0,1080.9 L780.0,1080.9 L781.0,1080.9 L782.0,1080.9 L783.0,1080.8 L784.0,1080.8 L785.0,1080.8 L786.0,1080.8 L787.0,1080.8 L788.0,1080.8 L789.0,1080.8 L790.0,1080.8 L791.0,1080.8 L792.0,1080.8 L793.0,1080.8 L794.0,1080.8 L795.0,1080.8 L796.0,1080.8 L797.0,1080.8 L798.0,1080.8 L799.0,1080.8 L800.0,1080.7 L801.0,1080.7 L802.0,1080.7 L803.0,1080.7 L804.0,1080.7 L805.0,1080.7 L806.0,1080.7 L807.0,1080.7 L808.0,1080.6 L809.0,1080.6 L810.0,1080.6 L811.0,1080.6 L812.0,1080.5 L813.0,1080.5 L814.0,1080.5 L815.0,1080.5 L816.0,1080.4 L817.0,1080.4 L818.0,1080.3 L819.0,1080.3 L820.0,1080.2 L821.0,1080.2 L822.0,1080.1 L823.0,1080.1 L824.0,1080.0 L825.0,1079.9 L826.0,1079.8 L827.0,1079.6 L828.0,1079.5 L829.0,1079.3 L830.0,1079.0 L831.0,1078.7 L832.0,1078.4 L833.0,1077.9 L834.0,1077.2 L835.0,1076.3 L836.0,1075.0 L837.0,1072.9 L838.0,1069.4 L839.0,1062.5 L840.0,1045.7 L841.0,1005.1 L842.0,947.0 L843.0,967.7 L844.0,1024.7 L845.0,1053.7 L846.0,1065.0 L847.0,1069.9 L848.0,1072.4 L849.0,1073.8 L850.0,1074.5 L851.0,1074.9 L852.0,1074.9 L853.0,1074.8 L854.0,1074.3 L855.0,1073.7 L856.0,1072.7 L857.0,1071.2 L858.0,1069.2 L859.0,1066.4 L860.0,1062.1 L861.0,1055.4 L862.0,1043.9 L863.0,1020.9 L864.0,973.0 L865.0,885.0 L866.0,784.0 L867.0,799.7 L868.0,906.0 L869.0,985.6 L870.0,1027.1 L871.0,1047.0 L872.0,1057.4 L873.0,1063.5 L874.0,1067.5 L875.0,1070.3 L876.0,1072.2 L877.0,1073.7 L878.0,1074.8 L879.0,1075.7 L880.0,1076.4 L881.0,1076.9 L882.0,1077.3 L883.0,1077.7 L884.0,1077.9 L885.0,1078.2 L886.0,1078.3 L887.0,1078.4 L888.0,1078.3 L889.0,1078.2 L890.0,1077.9 L891.0,1077.3 L892.0,1076.6 L893.0,1075.5 L894.0,1074.2 L895.0,1072.7 L896.0,1071.1 L897.0,1069.7 L898.0,1068.5 L899.0,1068.0 L900.0,1068.2 L901.0,1069.1 L902.0,1070.4 L903.0,1072.0 L904.0,1073.7 L905.0,1075.2 L906.0,1076.5 L907.0,1077.5 L908.0,1078.3 L909.0,1078.9 L910.0,1079.3 L911.0,1079.5 L912.0,1079.7 L913.0,1079.8 L914.0,1079.8 L915.0,1079.9 L916.0,1079.9 L917.0,1079.9 L918.0,1079.9 L919.0,1079.9 L920.0,1079.8 L921.0,1079.8 L922.0,1079.7 L923.0,1079.7 L924.0,1079.6 L925.0,1079.5 L926.0,1079.4 L927.0,1079.2 L928.0,1079.1 L929.0,1078.8 L930.0,1078.6 L931.0,1078.3 L932.0,1077.8 L933.0,1077.3 L934.0,1076.4 L935.0,1075.0 L936.0,1072.8 L937.0,1069.0 L938.0,1063.1 L939.0,1054.4 L940.0,1042.8 L941.0,1028.8 L942.0,1014.2 L943.0,1002.6 L944.0,998.0 L945.0,1002.6 L946.0,1014.3 L947.0,1028.8 L948.0,1042.8 L949.0,1054.5 L950.0,1063.2 L951.0,1069.1 L952.0,1072.9 L953.0,1075.1 L954.0,1076.5 L955.0,1077.4 L956.0,1078.0 L957.0,1078.4 L958.0,1078.8 L959.0,1079.0 L960.0,1079.3 L961.0,1079.4 L962.0,1079.6 L963.0,1079.7 L964.0,1079.9 L965.0,1080.0 L966.0,1080.1 L967.0,1080.1 L968.0,1080.2 L969.0,1080.3 L970.0,1080.3 L971.0,1080.4 L972.0,1080.4 L973.0,1080.5 L974.0,1080.5 L975.0,1080.5 L976.0,1080.6 L977.0,1080.6 L978.0,1080.6 L979.0,1080.6 L980.0,1080.6 L981.0,1080.7 L982.0,1080.7 L983.0,1080.7 L984.0,1080.7 L985.0,1080.7 L986.0,1080.7 L987.0,1080.7 L988.0,1080.8 L989.0,1080.8 L990.0,1080.8 L991.0,1080.8 L992.0,1080.8 L993.0,1080.8 L994.0,1080.8 L995.0,1080.8 L996.0,1080.8 L997.0,1080.8 L998.0,1080.8 L999.0,1080.8 L1000.0,1080.8 L1001.0,1080.8 L1002.0,1080.8 L1003.0,1080.8 L1004.0,1080.8 L1005.0,1080.8 L1006.0,1080.8 L1007.0,1080.8 L1008.0,1080.8 L1009.0,1080.8 L1010.0,1080.8 L1011.0,1080.8 L1012.0,1080.8 L1013.0,1080.8 L1014.0,1080.8 L1015.0,1080.8 L1016.0,1080.8 L1017.0,1080.8 L1018.0,1080.7 L1019.0,1080.7 L1020.0,1080.7 L1021.0,1080.7 L1022.0,1080.7 L1023.0,1080.7 L1024.0,1080.6 L1025.0,1080.6 L1026.0,1080.6 L1027.0,1080.5 L1028.0,1080.5 L1029.0,1080.5 L1030.0,1080.4 L1031.0,1080.4 L1032.0,1080.3 L1033.0,1080.2 L1034.0,1080.1 L1035.0,1080.0 L1036.0,1079.9 L1037.0,1079.8 L1038.0,1079.6 L1039.0,1079.4 L1040.0,1079.2 L1041.0,1078.9 L1042.0,1078.4 L1043.0,1077.8 L1044.0,1076.8 L1045.0,1075.2 L1046.0,1072.6 L1047.0,1068.7 L1048.0,1063.0 L1049.0,1055.7 L1050.0,1046.9 L1051.0,1037.7 L1052.0,1029.7 L1053.0,1025.5 L1054.0,1026.6 L1055.0,1032.6 L1056.0,1041.3 L1057.0,1050.5 L1058.0,1058.8 L1059.0,1065.5 L1060.0,1070.4 L1061.0,1073.8 L1062.0,1075.9 L1063.0,1077.3 L1064.0,1078.1 L1065.0,1078.7 L1066.0,1079.0 L1067.0,1079.3 L1068.0,1079.5 L1069.0,1079.7 L1070.0,1079.9 L1071.0,1080.0 L1072.0,1080.1 L1073.0,1080.2 L1074.0,1080.3 L1075.0,1080.4 L1076.0,1080.4 L1077.0,1080.5 L1078.0,1080.5 L1079.0,1080.6 L1080.0,1080.6 L1081.0,1080.6 L1082.0,1080.7 L1083.0,1080.7 L1084.0,1080.7 L1085.0,1080.7 L1086.0,1080.8 L1087.0,1080.8 L1088.0,1080.8 L1089.0,1080.8 L1090.0,1080.8 L1091.0,1080.8 L1092.0,1080.8 L1093.0,1080.9 L1094.0,1080.9 L1095.0,1080.9 L1096.0,1080.9 L1097.0,1080.9 L1098.0,1080.9 L1099.0,1080.9 L1100.0,1080.9 L1101.0,1080.9 L1102.0,1080.9 L1103.0,1080.9 L1104.0,1080.9 L1105.0,1080.9 L1106.0,1080.9 L1107.0,1080.9 L1108.0,1080.9 L1109.0,1080.9 L1110.0,1080.8 L1111.0,1080.7 L1112.0,1080.6 L1113.0,1080.4 L1114.0,1080.2 L1115.0,1080.0 L1116.0,1079.7 L1117.0,1079.5 L1118.0,1079.2 L1119.0,1079.1 L1120.0,1079.0 L1121.0,1079.1 L1122.0,1079.2 L1123.0,1079.5 L1124.0,1079.7 L1125.0,1080.0 L1126.0,1080.3 L1127.0,1080.5 L1128.0,1080.6 L1129.0,1080.7 L1130.0,1080.8 L1131.0,1080.9 L1132.0,1080.9 L1133.0,1080.9 L1134.0,1081.0 L1135.0,1081.0 L1136.0,1081.0 L1137.0,1081.0 L1138.0,1081.0 L1139.0,1081.0 L1140.0,1081.0 L1141.0,1081.0 L1142.0,1081.0 L1143.0,1081.0 L1144.0,1081.0 L1145.0,1081.0 L1146.0,1081.0 L1147.0,1081.0 L1148.0,1081.0 L1149.0,1081.0 L1150.0,1081.0 L1151.0,1081.0 L1152.0,1081.0 L1153.0,1081.0 L1154.0,1080.9 L1155.0,1080.9 L1156.0,1080.9 L1157.0,1080.9 L1158.0,1080.9 L1159.0,1080.9 L1160.0,1080.9 L1161.0,1080.9 L1162.0,1080.9 L1163.0,1080.9 L1164.0,1080.9 L1165.0,1080.9 L1166.0,1080.8 L1167.0,1080.8 L1168.0,1080.8 L1169.0,1080.8 L1170.0,1080.8 L1171.0,1080.8 L1172.0,1080.7 L1173.0,1080.7 L1174.0,1080.7 L1175.0,1080.6 L1176.0,1080.6 L1177.0,1080.6 L1178.0,1080.5 L1179.0,1080.4 L1180.0,1080.4 L1181.0,1080.3 L1182.0,1080.2 L1183.0,1080.1 L1184.0,1080.0 L1185.0,1079.8 L1186.0,1079.6 L1187.0,1079.3 L1188.0,1079.0 L1189.0,1078.5 L1190.0,1077.7 L1191.0,1076.2 L1192.0,1073.8 L1193.0,1069.9 L1194.0,1064.0 L1195.0,1056.1 L1196.0,1046.8 L1197.0,1037.9 L1198.0,1032.0 L1199.0,1032.0 L1200.0,1037.8 L1201.0,1046.8 L1202.0,1056.1 L1203.0,1064.0 L1204.0,1069.9 L1205.0,1073.8 L1206.0,1076.2 L1207.0,1077.6 L1208.0,1078.4 L1209.0,1078.9 L1210.0,1079.3 L1211.0,1079.5 L1212.0,1079.7 L1213.0,1079.9 L1214.0,1080.0 L1215.0,1080.1 L1216.0,1080.2 L1217.0,1080.2 L1218.0,1080.3 L1219.0,1080.3 L1220.0,1080.4 L1221.0,1080.4 L1222.0,1080.4 L1223.0,1080.4 L1224.0,1080.4 L1225.0,1080.4 L1226.0,1080.4 L1227.0,1080.3 L1228.0,1080.2 L1229.0,1080.0 L1230.0,1079.7 L1231.0,1079.3 L1232.0,1078.6 L1233.0,1077.8 L1234.0,1076.7 L1235.0,1075.4 L1236.0,1073.9 L1237.0,1072.5 L1238.0,1071.2 L1239.0,1070.3 L1240.0,1070.0 L1241.0,1070.3 L1242.0,1071.2 L1243.0,1072.4 L1244.0,1073.8 L1245.0,1075.2 L1246.0,1076.5 L1247.0,1077.6 L1248.0,1078.4 L1249.0,1079.0 L1250.0,1079.4 L1251.0,1079.6 L1252.0,1079.7 L1253.0,1079.7 L1254.0,1079.6 L1255.0,1079.3 L1256.0,1078.9 L1257.0,1078.1 L1258.0,1077.0 L1259.0,1075.4 L1260.0,1073.4 L1261.0,1071.1 L1262.0,1068.9 L1263.0,1067.1 L1264.0,1066.0 L1265.0,1065.8 L1266.0,1066.0 L1267.0,1066.0 L1268.0,1064.8 L1269.0,1061.8 L1270.0,1056.5 L1271.0,1048.9 L1272.0,1039.6 L1273.0,1029.7 L1274.0,1021.1 L1275.0,1016.0 L1276.0,1016.1 L1277.0,1021.4 L1278.0,1030.3 L1279.0,1040.6 L1280.0,1050.6 L1281.0,1059.2 L1282.0,1066.0 L1283.0,1070.9 L1284.0,1074.2 L1285.0,1076.3 L1286.0,1077.5 L1287.0,1078.3 L1288.0,1078.8 L1289.0,1079.2 L1290.0,1079.4 L1291.0,1079.6 L1292.0,1079.8 L1293.0,1079.9 L1294.0,1080.0 L1295.0,1080.1 L1296.0,1080.2 L1297.0,1080.3 L1298.0,1080.3 L1299.0,1080.4 L1300.0,1080.4 L1301.0,1080.5 L1302.0,1080.5 L1303.0,1080.6 L1304.0,1080.6 L1305.0,1080.6 L1306.0,1080.6 L1307.0,1080.7 L1308.0,1080.7 L1309.0,1080.7 L1310.0,1080.7 L1311.0,1080.7 L1312.0,1080.8 L1313.0,1080.8 L1314.0,1080.8 L1315.0,1080.8 L1316.0,1080.8 L1317.0,1080.8 L1318.0,1080.8 L1319.0,1080.8 L1320.0,1080.8 L1321.0,1080.8 L1322.0,1080.8 L1323.0,1080.8 L1324.0,1080.8 L1325.0,1080.8 L1326.0,1080.8 L1327.0,1080.8 L1328.0,1080.8 L1329.0,1080.8 L1330.0,1080.8 L1331.0,1080.8 L1332.0,1080.8 L1333.0,1080.8 L1334.0,1080.8 L1335.0,1080.8 L1336.0,1080.8 L1337.0,1080.8 L1338.0,1080.8 L1339.0,1080.8 L1340.0,1080.7 L1341.0,1080.7 L1342.0,1080.7 L1343.0,1080.7 L1344.0,1080.7 L1345.0,1080.6 L1346.0,1080.6 L1347.0,1080.5 L1348.0,1080.4 L1349.0,1080.2 L1350.0,1080.0 L1351.0,1079.7 L1352.0,1079.3 L1353.0,1078.7 L1354.0,1078.0 L1355.0,1077.1 L1356.0,1076.0 L1357.0,1074.8 L1358.0,1073.6 L1359.0,1072.4 L1360.0,1071.3 L1361.0,1070.5 L1362.0,1070.0 L1363.0,1070.0 L1364.0,1070.4 L1365.0,1071.1 L1366.0,1072.2 L1367.0,1073.3 L1368.0,1074.5 L1369.0,1075.6 L1370.0,1076.6 L1371.0,1077.4 L1372.0,1078.0 L1373.0,1078.4 L1374.0,1078.7 L1375.0,1078.7 L1376.0,1078.3 L1377.0,1077.5 L1378.0,1076.0 L1379.0,1073.5 L1380.0,1069.5 L1381.0,1064.1 L1382.0,1057.3 L1383.0,1049.9 L1384.0,1043.0 L1385.0,1038.2 L1386.0,1037.0 L1387.0,1039.7 L1388.0,1045.4 L1389.0,1052.5 L1390.0,1059.7 L1391.0,1065.9 L1392.0,1070.7 L1393.0,1073.9 L1394.0,1075.9 L1395.0,1077.0 L1396.0,1077.4 L1397.0,1077.3 L1398.0,1076.7 L1399.0,1075.6 L1400.0,1073.7 L1401.0,1070.6 L1402.0,1066.1 L1403.0,1059.8 L1404.0,1051.5 L1405.0,1041.2 L1406.0,1029.4 L1407.0,1017.1 L1408.0,1005.4 L1409.0,996.2 L1410.0,991.0 L1411.0,991.0 L1412.0,996.2 L1413.0,1005.5 L1414.0,1017.2 L1415.0,1029.6 L1416.0,1041.4 L1417.0,1051.8 L1418.0,1060.1 L1419.0,1066.5 L1420.0,1071.1 L1421.0,1074.2 L1422.0,1076.2 L1423.0,1077.5 L1424.0,1078.3 L1425.0,1078.8 L1426.0,1079.2 L1427.0,1079.4 L1428.0,1079.6 L1429.0,1079.8 L1430.0,1079.9 L1431.0,1080.0 L1432.0,1080.1 L1433.0,1080.1 L1434.0,1080.2 L1435.0,1080.3 L1436.0,1080.3 L1437.0,1080.4 L1438.0,1080.4 L1439.0,1080.5 L1440.0,1080.5 L1441.0,1080.5 L1442.0,1080.6 L1443.0,1080.6 L1444.0,1080.6 L1445.0,1080.6 L1446.0,1080.6 L1447.0,1080.7 L1448.0,1080.7 L1449.0,1080.7 L1450.0,1080.7 L1451.0,1080.7 L1452.0,1080.7 L1453.0,1080.7 L1454.0,1080.7 L1455.0,1080.7 L1456.0,1080.7 L1457.0,1080.7 L1458.0,1080.7 L1459.0,1080.8 L1460.0,1080.8 L1461.0,1080.8 L1462.0,1080.7 L1463.0,1080.7 L1464.0,1080.7 L1465.0,1080.7 L1466.0,1080.7 L1467.0,1080.7 L1468.0,1080.7 L1469.0,1080.7 L1470.0,1080.7 L1471.0,1080.7 L1472.0,1080.7 L1473.0,1080.6 L1474.0,1080.6 L1475.0,1080.6 L1476.0,1080.6 L1477.0,1080.5 L1478.0,1080.5 L1479.0,1080.4 L1480.0,1080.4 L1481.0,1080.3 L1482.0,1080.3 L1483.0,1080.2 L1484.0,1080.1 L1485.0,1079.9 L1486.0,1079.7 L1487.0,1079.4 L1488.0,1078.9 L1489.0,1078.0 L1490.0,1076.6 L1491.0,1074.3 L1492.0,1070.8 L1493.0,1065.9 L1494.0,1059.5 L1495.0,1051.8 L1496.0,1043.4 L1497.0,1035.4 L1498.0,1029.1 L1499.0,1026.0 L1500.0,1026.8 L1501.0,1031.3 L1502.0,1038.5 L1503.0,1046.7 L1504.0,1054.9 L1505.0,1062.2 L1506.0,1068.0 L1507.0,1072.3 L1508.0,1075.2 L1509.0,1077.1 L1510.0,1078.3 L1511.0,1079.0 L1512.0,1079.4 L1513.0,1079.6 L1514.0,1079.8 L1515.0,1079.9 L1516.0,1080.0 L1517.0,1080.0 L1518.0,1080.1 L1519.0,1080.1 L1520.0,1080.1 L1521.0,1080.1 L1522.0,1080.1 L1523.0,1080.1 L1524.0,1080.1 L1525.0,1080.0 L1526.0,1080.0 L1527.0,1079.9 L1528.0,1079.7 L1529.0,1079.4 L1530.0,1079.0 L1531.0,1078.5 L1532.0,1077.6 L1533.0,1076.5 L1534.0,1075.0 L1535.0,1073.2 L1536.0,1071.2 L1537.0,1069.0 L1538.0,1066.7 L1539.0,1064.7 L1540.0,1063.0 L1541.0,1061.8 L1542.0,1060.9 L1543.0,1060.2 L1544.0,1059.6 L1545.0,1059.1 L1546.0,1058.5 L1547.0,1057.9 L1548.0,1057.5 L1549.0,1057.5 L1550.0,1058.0 L1551.0,1059.0 L1552.0,1060.5 L1553.0,1062.4 L1554.0,1064.4 L1555.0,1066.6 L1556.0,1068.8 L1557.0,1070.8 L1558.0,1072.6 L1559.0,1074.2 L1560.0,1075.6 L1561.0,1076.7 L1562.0,1077.7 L1563.0,1078.4 L1564.0,1078.9 L1565.0,1079.3 L1566.0,1079.6 L1567.0,1079.8 L1568.0,1080.0 L1569.0,1080.1 L1570.0,1080.2 L1571.0,1080.3 L1572.0,1080.4 L1573.0,1080.4 L1574.0,1080.5 L1575.0,1080.5 L1576.0,1080.5 L1577.0,1080.6 L1578.0,1080.6 L1579.0,1080.6 L1580.0,1080.6 L1581.0,1080.6 L1582.0,1080.7 L1583.0,1080.7 L1584.0,1080.7 L1585.0,1080.7 L1586.0,1080.7 L1587.0,1080.7 L1588.0,1080.7 L1589.0,1080.7 L1590.0,1080.6 L1591.0,1080.6 L1592.0,1080.6 L1593.0,1080.5 L1594.0,1080.5 L1595.0,1080.4 L1596.0,1080.3 L1597.0,1080.1 L1598.0,1079.9 L1599.0,1079.6 L1600.0,1079.2 L1601.0,1078.7 L1602.0,1078.2 L1603.0,1077.5 L1604.0,1076.8 L1605.0,1076.1 L1606.0,1075.3 L1607.0,1074.6 L1608.0,1073.9 L1609.0,1073.4 L1610.0,1073.1 L1611.0,1073.0 L1612.0,1073.2 L1613.0,1073.6 L1614.0,1074.2 L1615.0,1074.9 L1616.0,1075.7 L1617.0,1076.4 L1618.0,1077.2 L1619.0,1077.9 L1620.0,1078.5 L1621.0,1079.0 L1622.0,1079.4 L1623.0,1079.8 L1624.0,1080.1 L1625.0,1080.3 L1626.0,1080.4 L1627.0,1080.6 L1628.0,1080.6 L1629.0,1080.7 L1630.0,1080.8 L1631.0,1080.8 L1632.0,1080.8 L1633.0,1080.9 L1634.0,1080.9 L1635.0,1080.9 L1636.0,1080.9 L1637.0,1080.9 L1638.0,1080.9 L1639.0,1080.9 L1640.0,1081.0 L1641.0,1081.0 L1642.0,1081.0 L1643.0,1081.0 L1644.0,1081.0 L1645.0,1081.0 L1646.0,1081.0 L1647.0,1081.0 L1648.0,1081.0 L1649.0,1081.0 L1650.0,1081.0 L1651.0,1081.0 L1652.0,1081.0 L1653.0,1081.0 L1654.0,1081.0 L1655.0,1081.0 L1656.0,1081.0 L1657.0,1081.0 L1658.0,1081.0 L1659.0,1081.0 L1660.0,1081.0 L1661.0,1081.0 L1662.0,1081.0 L1663.0,1081.0 L1664.0,1081.0 L1665.0,1081.0 L1666.0,1081.0 L1667.0,1081.0 L1668.0,1081.0 L1669.0,1081.0 L1670.0,1081.0 L1671.0,1081.1 L1672.0,1081.0 L1673.0,1081.0 L1674.0,1081.0 L1675.0,1081.0 L1676.0,1081.0 L1677.0,1081.0 L1678.0,1081.0 L1679.0,1081.0 L1680.0,1081.0 L1681.0,1081.0 L1682.0,1081.0 L1683.0,1081.0 L1684.0,1081.0 L1685.0,1081.0 L1686.0,1081.0 L1687.0,1081.0 L1688.0,1081.0 L1689.0,1081.0 L1690.0,1081.0 L1691.0,1081.0 L1692.0,1081.0 L1693.0,1081.0 L1694.0,1081.0 L1695.0,1081.0 L1696.0,1081.0 L1697.0,1081.0 L1698.0,1081.0 L1699.0,1081.0 L1700.0,1081.0 L1701.0,1081.0 L1702.0,1080.9 L1703.0,1080.9 L1704.0,1080.9 L1705.0,1080.9 L1706.0,1080.9 L1707.0,1080.9 L1708.0,1080.9 L1709.0,1080.9 L1710.0,1080.8 L1711.0,1080.8 L1712.0,1080.8 L1713.0,1080.8 L1714.0,1080.7 L1715.0,1080.7 L1716.0,1080.6 L1717.0,1080.6 L1718.0,1080.5 L1719.0,1080.5 L1720.0,1080.4 L1721.0,1080.3 L1722.0,1080.1 L1723.0,1079.9 L1724.0,1079.5 L1725.0,1079.0 L1726.0,1078.3 L1727.0,1077.3 L1728.0,1075.9 L1729.0,1074.1 L1730.0,1071.9 L1731.0,1069.3 L1732.0,1066.4 L1733.0,1063.4 L1734.0,1060.7 L1735.0,1058.4 L1736.0,1057.1 L1737.0,1057.0 L1738.0,1058.1 L1739.0,1060.2 L1740.0,1062.9 L1741.0,1065.8 L1742.0,1068.7 L1743.0,1071.4 L1744.0,1073.7 L1745.0,1075.6 L1746.0,1077.0 L1747.0,1078.1 L1748.0,1078.9 L1749.0,1079.4 L1750.0,1079.8 L1751.0,1080.0 L1752.0,1080.2 L1753.0,1080.3 L1754.0,1080.4 L1755.0,1080.5 L1756.0,1080.5 L1757.0,1080.6 L1758.0,1080.6 L1759.0,1080.6 L1760.0,1080.6 L1761.0,1080.5 L1762.0,1080.4 L1763.0,1080.3 L1764.0,1080.0 L1765.0,1079.7 L1766.0,1079.2 L1767.0,1078.7 L1768.0,1078.3 L1769.0,1078.0 L1770.0,1078.0 L1771.0,1078.2 L1772.0,1078.7 L1773.0,1079.2 L1774.0,1079.7 L1775.0,1080.0 L1776.0,1080.3 L1777.0,1080.5 L1778.0,1080.7 L1779.0,1080.8 L1780.0,1080.8 L1781.0,1080.8 L1782.0,1080.8 L1783.0,1080.7 L1784.0,1080.6 L1785.0,1080.4 L1786.0,1080.2 L1787.0,1079.8 L1788.0,1079.3 L1789.0,1078.8 L1790.0,1078.4 L1791.0,1078.1 L1792.0,1078.0 L1793.0,1078.2 L1794.0,1078.7 L1795.0,1079.2 L1796.0,1079.7 L1797.0,1080.1 L1798.0,1080.4 L1799.0,1080.6 L1800.0,1080.8 L1801.0,1080.9 L1802.0,1080.9 L1803.0,1080.9 L1804.0,1081.0 L1805.0,1081.0 L1806.0,1081.0 L1807.0,1081.0 L1808.0,1081.0 L1809.0,1081.0 L1810.0,1081.0 L1811.0,1081.0 L1812.0,1081.0 L1813.0,1081.0 L1814.0,1081.0 L1815.0,1081.0 L1816.0,1081.0 L1817.0,1081.0 L1818.0,1081.0 L1819.0,1081.0 L1820.0,1081.0 L1821.0,1081.0 L1822.0,1081.0 L1823.0,1081.0 L1824.0,1081.0 L1825.0,1081.0 L1826.0,1081.0 L1827.0,1081.0 L1828.0,1081.0 L1829.0,1081.0 L1830.0,1081.0 L1831.0,1081.0 L1832.0,1081.0 L1833.0,1080.9 L1834.0,1080.9 L1835.0,1080.9 L1836.0,1080.9 L1837.0,1080.9 L1838.0,1080.8 L1839.0,1080.8 L1840.0,1080.7 L1841.0,1080.6 L1842.0,1080.4 L1843.0,1080.2 L1844.0,1080.0 L1845.0,1079.6 L1846.0,1079.2 L1847.0,1078.6 L1848.0,1078.0 L1849.0,1077.4 L1850.0,1076.7 L1851.0,1076.0 L1852.0,1075.5 L1853.0,1075.1 L1854.0,1075.0 L1855.0,1075.1 L1856.0,1075.5 L1857.0,1076.0 L1858.0,1076.7 L1859.0,1077.3 L1860.0,1078.0 L1861.0,1078.6 L1862.0,1079.1 L1863.0,1079.5 L1864.0,1079.9 L1865.0,1080.2 L1866.0,1080.3 L1867.0,1080.5 L1868.0,1080.6 L1869.0,1080.6 L1870.0,1080.7 L1871.0,1080.7 L1872.0,1080.7 L1873.0,1080.7 L1874.0,1080.7 L1875.0,1080.7 L1876.0,1080.7 L1877.0,1080.7 L1878.0,1080.6 L1879.0,1080.6 L1880.0,1080.5 L1881.0,1080.4 L1882.0,1080.2 L1883.0,1079.9 L1884.0,1079.5 L1885.0,1078.9 L1886.0,1078.2 L1887.0,1077.4 L1888.0,1076.6 L1889.0,1075.8 L1890.0,1075.2 L1891.0,1075.0 L1892.0,1075.2 L1893.0,1075.7 L1894.0,1076.4 L1895.0,1077.2 L1896.0,1077.8 L1897.0,1078.2 L1898.0,1078.5 L1899.0,1078.4 L1900.0,1078.1 L1901.0,1077.4 L1902.0,1076.3 L1903.0,1074.7 L1904.0,1072.7 L1905.0,1070.2 L1906.0,1067.3 L1907.0,1064.2 L1908.0,1061.0 L1909.0,1058.2 L1910.0,1056.0 L1911.0,1055.0 L1912.0,1055.3 L1913.0,1056.8 L1914.0,1059.3 L1915.0,1062.3 L1916.0,1065.5 L1917.0,1068.6 L1918.0,1071.4 L1919.0,1073.7 L1920.0,1075.6 L1921.0,1077.0 L1922.0,1078.1 L1923.0,1078.8 L1924.0,1079.3 L1925.0,1079.7 L1926.0,1079.9 L1927.0,1080.1 L1928.0,1080.2 L1929.0,1080.3 L1930.0,1080.4 L1931.0,1080.4 L1932.0,1080.5 L1933.0,1080.5 L1934.0,1080.6 L1935.0,1080.6 L1936.0,1080.6 L1937.0,1080.6 L1938.0,1080.6 L1939.0,1080.7 L1940.0,1080.7 L1941.0,1080.7 L1942.0,1080.7 L1943.0,1080.7 L1944.0,1080.7 L1945.0,1080.7 L1946.0,1080.7 L1947.0,1080.7 L1948.0,1080.7 L1949.0,1080.6 L1950.0,1080.6 L1951.0,1080.6 L1952.0,1080.6 L1953.0,1080.5 L1954.0,1080.5 L1955.0,1080.4 L1956.0,1080.4 L1957.0,1080.3 L1958.0,1080.2 L1959.0,1080.1 L1960.0,1079.9 L1961.0,1079.6 L1962.0,1079.1 L1963.0,1078.4 L1964.0,1077.3 L1965.0,1075.7 L1966.0,1073.6 L1967.0,1071.1 L1968.0,1068.2 L1969.0,1065.3 L1970.0,1062.7 L1971.0,1061.0 L1972.0,1060.5 L1973.0,1061.3 L1974.0,1062.8 L1975.0,1064.5 L1976.0,1066.0 L1977.0,1067.1 L1978.0,1067.5 L1979.0,1067.4 L1980.0,1067.0 L1981.0,1066.4 L1982.0,1066.0 L1983.0,1066.0 L1984.0,1066.5 L1985.0,1067.5 L1986.0,1068.8 L1987.0,1070.4 L1988.0,1072.0 L1989.0,1073.6 L1990.0,1075.1 L1991.0,1076.3 L1992.0,1077.4 L1993.0,1078.2 L1994.0,1078.8 L1995.0,1079.3 L1996.0,1079.6 L1997.0,1079.8 L1998.0,1079.8 L1999.0,1079.7 L2000.0,1079.5 L2001.0,1079.1 L2002.0,1078.6 L2003.0,1078.0 L2004.0,1077.5 L2005.0,1077.1 L2006.0,1077.0 L2007.0,1077.3 L2008.0,1077.8 L2009.0,1078.4 L2010.0,1079.0 L2011.0,1079.6 L2012.0,1080.0 L2013.0,1080.3 L2014.0,1080.5 L2015.0,1080.6 L2016.0,1080.6 L2017.0,1080.7 L2018.0,1080.7 L2019.0,1080.7 L2020.0,1080.6 L2021.0,1080.6 L2022.0,1080.5 L2023.0,1080.3 L2024.0,1080.1 L2025.0,1079.8 L2026.0,1079.4 L2027.0,1078.8 L2028.0,1078.2 L2029.0,1077.5 L2030.0,1076.9 L2031.0,1076.3 L2032.0,1076.0 L2033.0,1076.0 L2034.0,1076.3 L2035.0,1076.8 L2036.0,1077.4 L2037.0,1078.1 L2038.0,1078.8 L2039.0,1079.3 L2040.0,1079.8 L2041.0,1080.1 L2042.0,1080.4 L2043.0,1080.6 L2044.0,1080.7 L2045.0,1080.8 L2046.0,1080.8 L2047.0,1080.9 L2048.0,1080.9 L2049.0,1080.9 L2050.0,1080.9 L2051.0,1080.9 L2052.0,1081.0 L2053.0,1081.0 L2054.0,1081.0 L2055.0,1081.0 L2056.0,1081.0 L2057.0,1081.0 L2058.0,1081.0 L2059.0,1081.0 L2060.0,1081.0 L2061.0,1081.0 L2062.0,1081.0 L2063.0,1081.0 L2064.0,1081.0 L2065.0,1081.0 L2066.0,1080.9 L2067.0,1080.9 L2068.0,1080.9 L2069.0,1080.9 L2070.0,1080.9 L2071.0,1080.8 L2072.0,1080.8 L2073.0,1080.7 L2074.0,1080.6 L2075.0,1080.4 L2076.0,1080.2 L2077.0,1079.8 L2078.0,1079.4 L2079.0,1078.8 L2080.0,1078.2 L2081.0,1077.5 L2082.0,1076.8 L2083.0,1076.3 L2084.0,1076.0 L2085.0,1076.0 L2086.0,1076.3 L2087.0,1076.7 L2088.0,1077.3 L2089.0,1077.9 L2090.0,1078.4 L2091.0,1078.7 L2092.0,1078.9 L2093.0,1078.9 L2094.0,1078.6 L2095.0,1078.2 L2096.0,1077.6 L2097.0,1077.1 L2098.0,1076.5 L2099.0,1076.1 L2100.0,1076.0 L2101.0,1076.2 L2102.0,1076.6 L2103.0,1077.2 L2104.0,1077.9 L2105.0,1078.5 L2106.0,1079.1 L2107.0,1079.6 L2108.0,1080.0 L2109.0,1080.3 L2110.0,1080.5 L2111.0,1080.7 L2112.0,1080.8 L2113.0,1080.8 L2114.0,1080.9 L2115.0,1080.9 L2116.0,1080.9 L2117.0,1081.0 L2118.0,1081.0 L2119.0,1081.0 L2120.0,1081.0 L2121.0,1081.0 L2122.0,1081.0 L2123.0,1081.0 L2124.0,1081.0 L2125.0,1081.0 L2126.0,1081.0 L2127.0,1081.0 L2128.0,1081.0 L2129.0,1081.0 L2130.0,1081.0 L2131.0,1081.0 L2132.0,1081.0 L2133.0,1081.0 L2134.0,1081.0 L2135.0,1081.0 L2136.0,1081.0 L2137.0,1081.0 L2138.0,1081.0 L2139.0,1081.0 L2140.0,1081.0 L2141.0,1081.0 L2142.0,1081.0 L2143.0,1081.0 L2144.0,1081.0 L2145.0,1081.0 L2146.0,1081.0 L2147.0,1081.0 L2148.0,1081.0 L2149.0,1081.0 L2150.0,1081.0 L2151.0,1081.0 L2152.0,1081.0 L2153.0,1081.0 L2154.0,1081.0 L2155.0,1081.0 L2156.0,1081.0 L2157.0,1081.0 L2158.0,1081.0 L2159.0,1081.0 L2160.0,1081.0 L2161.0,1081.0 L2162.0,1080.9 L2163.0,1080.9 L2164.0,1080.9 L2165.0,1080.9 L2166.0,1080.9 L2167.0,1080.9 L2168.0,1080.9 L2169.0,1080.9 L2170.0,1080.9 L2171.0,1080.8 L2172.0,1080.8 L2173.0,1080.8 L2174.0,1080.8 L2175.0,1080.7 L2176.0,1080.7 L2177.0,1080.7 L2178.0,1080.7 L2179.0,1080.6 L2180.0,1080.6 L2181.0,1080.5 L2182.0,1080.5 L2183.0,1080.4 L2184.0,1080.3 L2185.0,1080.3 L2186.0,1080.1 L2187.0,1080.0 L2188.0,1079.8 L2189.0,1079.6 L2190.0,1079.2 L2191.0,1078.8 L2192.0,1078.3 L2193.0,1077.5 L2194.0,1076.7 L2195.0,1075.6 L2196.0,1074.3 L2197.0,1072.9 L2198.0,1071.2 L2199.0,1069.5 L2200.0,1067.6 L2201.0,1065.9 L2202.0,1064.3 L2203.0,1063.0 L2204.0,1062.2 L2205.0,1062.0 L2206.0,1062.4 L2207.0,1063.4 L2208.0,1064.9 L2209.0,1066.5 L2210.0,1068.4 L2211.0,1070.2 L2212.0,1071.9 L2213.0,1073.5 L2214.0,1074.8 L2215.0,1076.0 L2216.0,1077.0 L2217.0,1077.8 L2218.0,1078.5 L2219.0,1078.9 L2220.0,1079.3 L2221.0,1079.6 L2222.0,1079.8 L2223.0,1080.0 L2224.0,1080.1 L2225.0,1080.2 L2226.0,1080.3 L2227.0,1080.4 L2228.0,1080.4 L2229.0,1080.5 L2230.0,1080.5 L2231.0,1080.5 L2232.0,1080.6 L2233.0,1080.6 L2234.0,1080.6 L2235.0,1080.6 L2236.0,1080.6 L2237.0,1080.6 L2238.0,1080.6 L2239.0,1080.6 L2240.0,1080.6 L2241.0,1080.6 L2242.0,1080.6 L2243.0,1080.6 L2244.0,1080.5 L2245.0,1080.5 L2246.0,1080.4 L2247.0,1080.3 L2248.0,1080.1 L2249.0,1079.9 L2250.0,1079.6 L2251.0,1079.2 L2252.0,1078.6 L2253.0,1078.0 L2254.0,1077.2 L2255.0,1076.3 L2256.0,1075.3 L2257.0,1074.3 L2258.0,1073.4 L2259.0,1072.6 L2260.0,1072.1 L2261.0,1072.0 L2262.0,1072.3 L2263.0,1072.9 L2264.0,1073.8 L2265.0,1074.8 L2266.0,1075.8 L2267.0,1076.7 L2268.0,1077.6 L2269.0,1078.3 L2270.0,1078.9 L2271.0,1079.4 L2272.0,1079.8 L2273.0,1080.1 L2274.0,1080.3 L2275.0,1080.4 L2276.0,1080.6 L2277.0,1080.6 L2278.0,1080.7 L2279.0,1080.8 L2280.0,1080.8 L2281.0,1080.8 L2282.0,1080.9 L2283.0,1080.9 L2284.0,1080.9 L2285.0,1080.9 L2286.0,1080.9 L2287.0,1081.0 L2288.0,1081.0" stroke="#0000FF" stroke-width="15.2"/>
<path d="M146.0,1440.4 L146.5,1431.8 L147.0,1435.5 L147.5,1437.5 L148.0,1433.9 L148.5,1438.6 L149.0,1438.4 L149.5,1431.5 L150.0,1447.0 L150.5,1443.2 L151.0,1438.2 L151.5,1441.3 L152.0,1446.0 L152.5,1442.9 L153.0,1444.2 L153.5,1439.6 L154.0,1450.9 L154.5,1449.8 L155.0,1453.4 L155.5,1447.3 L156.0,1462.2 L156.5,1456.4 L157.0,1454.3 L157.5,1466.9 L158.0,1459.0 L158.5,1452.7 L159.0,1459.2 L159.5,1451.3 L160.0,1467.8 L160.5,1462.2 L161.0,1459.5 L161.5,1468.1 L162.0,1458.4 L162.5,1469.0 L163.0,1457.8 L163.5,1464.3 L164.0,1462.3 L164.5,1474.9 L165.0,1478.1 L165.5,1472.5 L166.0,1480.6 L166.5,1474.3 L167.0,1479.3 L167.5,1474.4 L168.0,1469.6 L168.5,1471.1 L169.0,1481.2 L169.5,1489.8 L170.0,1480.9 L170.5,1477.7 L171.0,1490.3 L171.5,1483.2 L172.0,1482.3 L172.5,1484.2 L173.0,1482.6 L173.5,1482.5 L174.0,1477.2 L174.5,1486.1 L175.0,1483.0 L175.5,1488.5 L176.0,1481.5 L176.5,1475.8 L177.0,1483.8 L177.5,1490.3 L178.0,1482.9 L178.5,1482.3 L179.0,1481.2 L179.5,1483.2 L180.0,1486.8 L180.5,1483.1 L181.0,1495.5 L181.5,1487.7 L182.0,1491.1 L182.5,1497.0 L183.0,1496.2 L183.5,1491.3 L184.0,1493.0 L184.5,1495.8 L185.0,1493.2 L185.5,1487.1 L186.0,1498.6 L186.5,1501.7 L187.0,1500.0 L187.5,1496.3 L188.0,1499.4 L188.5,1498.5 L189.0,1499.5 L189.5,1506.4 L190.0,1507.9 L190.5,1505.0 L191.0,1504.5 L191.5,1505.0 L192.0,1502.7 L192.5,1501.7 L193.0,1499.8 L193.5,1501.4 L194.0,1508.6 L194.5,1504.1 L195.0,1498.7 L195.5,1498.0 L196.0,1497.3 L196.5,1501.9 L197.0,1503.7 L197.5,1498.4 L198.0,1507.1 L198.5,1504.8 L199.0,1512.3 L199.5,1509.7 L200.0,1515.3 L200.5,1507.6 L201.0,1508.8 L201.5,1510.9 L202.0,1513.1 L202.5,1511.2 L203.0,1505.6 L203.5,1510.3 L204.0,1508.7 L204.5,1509.1 L205.0,1508.5 L205.5,1516.0 L206.0,1508.1 L206.5,1505.5 L207.0,1510.8 L207.5,1509.9 L208.0,1508.4 L208.5,1511.6 L209.0,1510.6 L209.5,1510.8 L210.0,1512.8 L210.5,1511.8 L211.0,1510.2 L211.5,1511.6 L212.0,1511.0 L212.5,1514.7 L213.0,1510.3 L213.5,1508.9 L214.0,1514.5 L214.5,1510.8 L215.0,1510.3 L215.5,1518.0 L216.0,1514.7 L216.5,1518.2 L217.0,1515.6 L217.5,1514.4 L218.0,1514.0 L218.5,1515.3 L219.0,1515.0 L219.5,1512.7 L220.0,1514.3 L220.5,1510.4 L221.0,1514.8 L221.5,1509.5 L222.0,1515.2 L222.5,1517.4 L223.0,1520.8 L223.5,1522.7 L224.0,1513.4 L224.5,1519.9 L225.0,1520.6 L225.5,1519.5 L226.0,1513.8 L226.5,1516.8 L227.0,1520.8 L227.5,1508.4 L228.0,1513.0 L228.5,1514.6 L229.0,1509.5 L229.5,1512.9 L230.0,1508.2 L230.5,1508.8 L231.0,1508.7 L231.5,1511.5 L232.0,1511.9 L232.5,1516.2 L233.0,1510.6 L233.5,1513.6 L234.0,1516.5 L234.5,1515.8 L235.0,1510.5 L235.5,1515.6 L236.0,1511.5 L236.5,1514.0 L237.0,1513.4 L237.5,1517.0 L238.0,1514.0 L238.5,1507.8 L239.0,1508.7 L239.5,1514.1 L240.0,1511.4 L240.5,1515.2 L241.0,1511.9 L241.5,1509.5 L242.0,1514.0 L242.5,1508.5 L243.0,1505.8 L243.5,1516.2 L244.0,1505.2 L244.5,1512.5 L245.0,1513.7 L245.5,1512.2 L246.0,1506.8 L246.5,1514.8 L247.0,1506.7 L247.5,1505.9 L248.0,1510.3 L248.5,1514.1 L249.0,1512.3 L249.5,1513.8 L250.0,1510.3 L250.5,1509.9 L251.0,1506.0 L251.5,1509.2 L252.0,1512.0 L252.5,1509.5 L253.0,1511.0 L253.5,1508.7 L254.0,1507.5 L254.5,1507.9 L255.0,1507.3 L255.5,1510.2 L256.0,1509.5 L256.5,1513.2 L257.0,1506.4 L257.5,1504.6 L258.0,1502.2 L258.5,1504.6 L259.0,1507.2 L259.5,1503.8 L260.0,1504.1 L260.5,1504.7 L261.0,1502.8 L261.5,1502.2 L262.0,1507.1 L262.5,1503.3 L263.0,1504.7 L263.5,1506.9 L264.0,1505.5 L264.5,1501.4 L265.0,1501.8 L265.5,1503.8 L266.0,1501.5 L266.5,1496.7 L267.0,1506.4 L267.5,1503.2 L268.0,1504.8 L268.5,1500.0 L269.0,1506.6 L269.5,1501.1 L270.0,1502.7 L270.5,1499.7 L271.0,1503.3 L271.5,1503.1 L272.0,1503.3 L272.5,1504.9 L273.0,1503.5 L273.5,1507.5 L274.0,1503.2 L274.5,1501.5 L275.0,1504.6 L275.5,1506.4 L276.0,1508.3 L276.5,1506.2 L277.0,1500.0 L277.5,1506.2 L278.0,1509.6 L278.5,1505.5 L279.0,1503.8 L279.5,1505.9 L280.0,1504.3 L280.5,1507.8 L281.0,1506.4 L281.5,1509.3 L282.0,1508.0 L282.5,1504.1 L283.0,1508.7 L283.5,1510.0 L284.0,1505.9 L284.5,1506.3 L285.0,1502.0 L285.5,1511.0 L286.0,1507.7 L286.5,1502.6 L287.0,1503.7 L287.5,1508.0 L288.0,1510.8 L288.5,1507.2 L289.0,1508.1 L289.5,1503.8 L290.0,1502.3 L290.5,1508.7 L291.0,1508.6 L291.5,1506.9 L292.0,1510.1 L292.5,1504.3 L293.0,1507.6 L293.5,1512.0 L294.0,1513.3 L294.5,1508.0 L295.0,1513.0 L295.5,1506.2 L296.0,1508.0 L296.5,1507.0 L297.0,1502.9 L297.5,1508.3 L298.0,1510.6 L298.5,1508.8 L299.0,1509.3 L299.5,1512.2 L300.0,1504.6 L300.5,1505.6 L301.0,1507.3 L301.5,1506.3 L302.0,1512.4 L302.5,1508.6 L303.0,1505.3 L303.5,1506.0 L304.0,1514.1 L304.5,1506.5 L305.0,1505.6 L305.5,1509.7 L306.0,1509.6 L306.5,1509.4 L307.0,1507.1 L307.5,1506.7 L308.0,1511.0 L308.5,1509.7 L309.0,1505.3 L309.5,1513.0 L310.0,1511.3 L310.5,1508.7 L311.0,1507.9 L311.5,1508.8 L312.0,1506.2 L312.5,1505.5 L313.0,1509.6 L313.5,1505.6 L314.0,1510.9 L314.5,1506.6 L315.0,1510.2 L315.5,1510.5 L316.0,1516.2 L316.5,1508.2 L317.0,1507.0 L317.5,1509.6 L318.0,1507.9 L318.5,1509.5 L319.0,1511.5 L319.5,1512.9 L320.0,1514.9 L320.5,1508.6 L321.0,1516.4 L321.5,1516.7 L322.0,1509.8 L322.5,1504.4 L323.0,1510.6 L323.5,1511.5 L324.0,1504.9 L324.5,1511.2 L325.0,1509.9 L325.5,1507.5 L326.0,1510.5 L326.5,1511.2 L327.0,1506.7 L327.5,1507.0 L328.0,1503.2 L328.5,1503.2 L329.0,1504.7 L329.5,1506.0 L330.0,1503.5 L330.5,1499.4 L331.0,1506.8 L331.5,1501.2 L332.0,1506.3 L332.5,1512.5 L333.0,1506.3 L333.5,1502.2 L334.0,1500.6 L334.5,1507.7 L335.0,1504.9 L335.5,1506.4 L336.0,1507.3 L336.5,1504.6 L337.0,1503.3 L337.5,1503.9 L338.0,1501.2 L338.5,1504.3 L339.0,1508.9 L339.5,1508.3 L340.0,1510.6 L340.5,1509.3 L341.0,1510.7 L341.5,1512.8 L342.0,1507.7 L342.5,1510.3 L343.0,1506.1 L343.5,1512.8 L344.0,1510.5 L344.5,1512.2 L345.0,1515.3 L345.5,1514.3 L346.0,1511.3 L346.5,1513.7 L347.0,1507.8 L347.5,1513.3 L348.0,1513.3 L348.5,1510.0 L349.0,1517.8 L349.5,1513.2 L350.0,1517.2 L350.5,1514.2 L351.0,1519.4 L351.5,1521.3 L352.0,1515.9 L352.5,1514.3 L353.0,1517.2 L353.5,1520.8 L354.0,1517.1 L354.5,1517.0 L355.0,1521.7 L355.5,1514.6 L356.0,1518.1 L356.5,1517.2 L357.0,1522.5 L357.5,1521.1 L358.0,1521.5 L358.5,1523.9 L359.0,1521.7 L359.5,1525.3 L360.0,1523.6 L360.5,1525.7 L361.0,1524.4 L361.5,1529.9 L362.0,1527.5 L362.5,1529.2 L363.0,1530.6 L363.5,1526.3 L364.0,1530.7 L364.5,1531.0 L365.0,1531.8 L365.5,1531.0 L366.0,1531.0 L366.5,1535.2 L367.0,1538.9 L367.5,1531.5 L368.0,1536.9 L368.5,1534.9 L369.0,1538.7 L369.5,1538.4 L370.0,1539.5 L370.5,1532.2 L371.0,1535.7 L371.5,1535.3 L372.0,1536.6 L372.5,1535.4 L373.0,1535.4 L373.5,1539.5 L374.0,1542.4 L374.5,1533.0 L375.0,1537.3 L375.5,1539.2 L376.0,1538.8 L376.5,1538.5 L377.0,1536.3 L377.5,1538.9 L378.0,1543.4 L378.5,1545.5 L379.0,1543.5 L379.5,1541.2 L380.0,1544.4 L380.5,1544.5 L381.0,1546.6 L381.5,1546.5 L382.0,1544.6 L382.5,1545.0 L383.0,1541.7 L383.5,1547.0 L384.0,1548.5 L384.5,1543.9 L385.0,1546.9 L385.5,1543.9 L386.0,1546.9 L386.5,1546.4 L387.0,1545.1 L387.5,1547.2 L388.0,1543.8 L388.5,1543.6 L389.0,1544.0 L389.5,1544.7 L390.0,1544.5 L390.5,1546.0 L391.0,1545.1 L391.5,1547.0 L392.0,1548.8 L392.5,1546.9 L393.0,1545.4 L393.5,1548.0 L394.0,1549.4 L394.5,1547.5 L395.0,1546.1 L395.5,1548.7 L396.0,1551.3 L396.5,1545.8 L397.0,1549.0 L397.5,1547.9 L398.0,1547.2 L398.5,1549.3 L399.0,1547.1 L399.5,1550.0 L400.0,1551.5 L400.5,1549.4 L401.0,1548.3 L401.5,1547.2 L402.0,1547.6 L402.5,1547.6 L403.0,1552.4 L403.5,1550.5 L404.0,1548.9 L404.5,1548.7 L405.0,1549.7 L405.5,1550.2 L406.0,1549.1 L406.5,1553.3 L407.0,1550.2 L407.5,1550.2 L408.0,1550.8 L408.5,1552.6 L409.0,1552.5 L409.5,1550.5 L410.0,1551.6 L410.5,1551.6 L411.0,1552.2 L411.5,1551.8 L412.0,1549.9 L412.5,1549.9 L413.0,1551.5 L413.5,1549.5 L414.0,1552.4 L414.5,1550.7 L415.0,1549.4 L415.5,1550.4 L416.0,1550.2 L416.5,1550.9 L417.0,1552.5 L417.5,1549.4 L418.0,1549.3 L418.5,1552.2 L419.0,1551.8 L419.5,1552.5 L420.0,1553.2 L420.5,1552.4 L421.0,1553.5 L421.5,1551.2 L422.0,1552.7 L422.5,1551.4 L423.0,1551.3 L423.5,1553.8 L424.0,1554.0 L424.5,1551.1 L425.0,1551.9 L425.5,1553.9 L426.0,1555.0 L426.5,1553.0 L427.0,1553.6 L427.5,1551.8 L428.0,1555.7 L428.5,1553.7 L429.0,1553.8 L429.5,1553.0 L430.0,1553.6 L430.5,1553.3 L431.0,1552.0 L431.5,1553.7 L432.0,1553.2 L432.5,1555.1 L433.0,1552.3 L433.5,1552.6 L434.0,1554.3 L434.5,1554.5 L435.0,1553.0 L435.5,1552.0 L436.0,1552.5 L436.5,1551.7 L437.0,1554.9 L437.5,1553.6 L438.0,1554.2 L438.5,1553.4 L439.0,1552.5 L439.5,1554.4 L440.0,1554.9 L440.5,1553.9 L441.0,1553.7 L441.5,1554.9 L442.0,1553.2 L442.5,1554.6 L443.0,1552.8 L443.5,1552.8 L444.0,1555.2 L444.5,1554.6 L445.0,1556.6 L445.5,1553.4 L446.0,1553.6 L446.5,1552.5 L447.0,1551.4 L447.5,1551.5 L448.0,1554.1 L448.5,1552.1 L449.0,1554.7 L449.5,1554.7 L450.0,1552.2 L450.5,1555.2 L451.0,1553.4 L451.5,1554.9 L452.0,1553.0 L452.5,1554.9 L453.0,1552.7 L453.5,1555.2 L454.0,1553.8 L454.5,1554.3 L455.0,1555.2 L455.5,1554.2 L456.0,1553.7 L456.5,1554.9 L457.0,1555.0 L457.5,1551.7 L458.0,1553.8 L458.5,1553.7 L459.0,1551.6 L459.5,1553.4 L460.0,1551.5 L460.5,1555.2 L461.0,1552.8 L461.5,1552.9 L462.0,1554.4 L462.5,1553.2 L463.0,1554.4 L463.5,1552.3 L464.0,1552.7 L464.5,1551.7 L465.0,1553.0 L465.5,1555.5 L466.0,1554.6 L466.5,1555.4 L467.0,1552.7 L467.5,1553.2 L468.0,1553.9 L468.5,1555.4 L469.0,1555.1 L469.5,1554.3 L470.0,1554.2 L470.5,1553.1 L471.0,1553.4 L471.5,1555.1 L472.0,1552.6 L472.5,1553.0 L473.0,1554.3 L473.5,1552.4 L474.0,1553.4 L474.5,1552.0 L475.0,1555.4 L475.5,1550.4 L476.0,1551.5 L476.5,1551.5 L477.0,1555.0 L477.5,1554.2 L478.0,1553.4 L478.5,1552.1 L479.0,1554.5 L479.5,1553.8 L480.0,1552.6 L480.5,1551.4 L481.0,1551.7 L481.5,1553.7 L482.0,1553.4 L482.5,1552.9 L483.0,1552.8 L483.5,1550.6 L484.0,1553.2 L484.5,1552.1 L485.0,1553.7 L485.5,1554.2 L486.0,1552.4 L486.5,1552.0 L487.0,1554.4 L487.5,1553.6 L488.0,1552.2 L488.5,1550.4 L489.0,1552.8 L489.5,1553.8 L490.0,1554.4 L490.5,1552.6 L491.0,1552.8 L491.5,1553.6 L492.0,1555.4 L492.5,1552.8 L493.0,1554.1 L493.5,1553.5 L494.0,1555.0 L494.5,1552.9 L495.0,1555.4 L495.5,1554.0 L496.0,1554.2 L496.5,1555.0 L497.0,1555.8 L497.5,1552.5 L498.0,1555.7 L498.5,1555.2 L499.0,1553.9 L499.5,1555.8 L500.0,1554.4 L500.5,1556.0 L501.0,1553.6 L501.5,1553.3 L502.0,1555.7 L502.5,1557.1 L503.0,1555.1 L503.5,1555.5 L504.0,1554.0 L504.5,1553.2 L505.0,1554.6 L505.5,1556.8 L506.0,1552.2 L506.5,1553.9 L507.0,1551.5 L507.5,1554.6 L508.0,1555.8 L508.5,1553.2 L509.0,1553.9 L509.5,1556.0 L510.0,1553.9 L510.5,1552.6 L511.0,1552.3 L511.5,1551.7 L512.0,1554.4 L512.5,1552.5 L513.0,1554.6 L513.5,1554.5 L514.0,1552.7 L514.5,1553.1 L515.0,1555.2 L515.5,1554.1 L516.0,1554.3 L516.5,1552.3 L517.0,1555.4 L517.5,1552.9 L518.0,1551.3 L518.5,1553.2 L519.0,1554.2 L519.5,1555.8 L520.0,1552.9 L520.5,1551.6 L521.0,1555.5 L521.5,1553.4 L522.0,1552.6 L522.5,1551.6 L523.0,1551.5 L523.5,1554.7 L524.0,1553.1 L524.5,1553.0 L525.0,1552.7 L525.5,1556.1 L526.0,1553.1 L526.5,1554.6 L527.0,1553.8 L527.5,1554.3 L528.0,1553.1 L528.5,1554.8 L529.0,1556.3 L529.5,1554.4 L530.0,1552.9 L530.5,1553.0 L531.0,1555.3 L531.5,1554.8 L532.0,1555.0 L532.5,1555.2 L533.0,1553.3 L533.5,1556.2 L534.0,1555.5 L534.5,1554.7 L535.0,1554.5 L535.5,1555.2 L536.0,1553.9 L536.5,1552.7 L537.0,1555.3 L537.5,1552.9 L538.0,1552.4 L538.5,1551.4 L539.0,1554.0 L539.5,1552.4 L540.0,1553.4 L540.5,1555.1 L541.0,1554.7 L541.5,1555.8 L542.0,1554.7 L542.5,1553.6 L543.0,1553.9 L543.5,1553.5 L544.0,1554.9 L544.5,1553.1 L545.0,1552.1 L545.5,1553.9 L546.0,1552.6 L546.5,1551.9 L547.0,1550.6 L547.5,1552.7 L548.0,1552.6 L548.5,1552.3 L549.0,1552.4 L549.5,1551.6 L550.0,1552.0 L550.5,1552.9 L551.0,1552.8 L551.5,1552.4 L552.0,1551.6 L552.5,1552.1 L553.0,1552.2 L553.5,1550.6 L554.0,1552.3 L554.5,1551.9 L555.0,1551.7 L555.5,1550.3 L556.0,1550.1 L556.5,1548.8 L557.0,1551.1 L557.5,1547.5 L558.0,1549.4 L558.5,1549.6 L559.0,1551.5 L559.5,1550.8 L560.0,1549.0 L560.5,1548.6 L561.0,1549.7 L561.5,1550.7 L562.0,1550.2 L562.5,1549.6 L563.0,1548.8 L563.5,1549.2 L564.0,1550.3 L564.5,1547.7 L565.0,1548.8 L565.5,1550.4 L566.0,1548.8 L566.5,1548.1 L567.0,1549.5 L567.5,1547.6 L568.0,1548.2 L568.5,1550.5 L569.0,1550.8 L569.5,1546.1 L570.0,1549.2 L570.5,1550.9 L571.0,1547.5 L571.5,1549.0 L572.0,1550.4 L572.5,1548.2 L573.0,1549.3 L573.5,1548.9 L574.0,1545.9 L574.5,1549.3 L575.0,1548.1 L575.5,1549.3 L576.0,1550.3 L576.5,1548.9 L577.0,1547.0 L577.5,1548.2 L578.0,1547.9 L578.5,1549.3 L579.0,1545.8 L579.5,1547.2 L580.0,1546.8 L580.5,1550.5 L581.0,1549.6 L581.5,1548.7 L582.0,1548.9 L582.5,1549.4 L583.0,1548.8 L583.5,1549.7 L584.0,1548.9 L584.5,1551.1 L585.0,1549.6 L585.5,1547.6 L586.0,1548.0 L586.5,1550.5 L587.0,1549.2 L587.5,1548.2 L588.0,1548.6 L588.5,1549.7 L589.0,1544.4 L589.5,1544.9 L590.0,1542.9 L590.5,1547.3 L591.0,1545.1 L591.5,1544.3 L592.0,1543.6 L592.5,1546.9 L593.0,1544.8 L593.5,1544.3 L594.0,1548.0 L594.5,1542.4 L595.0,1541.2 L595.5,1548.2 L596.0,1542.2 L596.5,1541.7 L597.0,1540.8 L597.5,1542.6 L598.0,1544.4 L598.5,1544.1 L599.0,1542.2 L599.5,1539.8 L600.0,1535.7 L600.5,1539.0 L601.0,1541.2 L601.5,1538.2 L602.0,1533.2 L602.5,1534.4 L603.0,1529.2 L603.5,1528.8 L604.0,1523.0 L604.5,1526.1 L605.0,1526.1 L605.5,1523.7 L606.0,1525.4 L606.5,1528.1 L607.0,1524.2 L607.5,1517.7 L608.0,1515.3 L608.5,1514.5 L609.0,1509.9 L609.5,1511.0 L610.0,1511.1 L610.5,1508.8 L611.0,1507.8 L611.5,1506.5 L612.0,1504.6 L612.5,1502.2 L613.0,1509.0 L613.5,1506.9 L614.0,1499.5 L614.5,1497.7 L615.0,1498.2 L615.5,1498.5 L616.0,1501.6 L616.5,1500.1 L617.0,1499.5 L617.5,1500.3 L618.0,1499.1 L618.5,1497.1 L619.0,1495.9 L619.5,1493.1 L620.0,1485.9 L620.5,1492.6 L621.0,1499.9 L621.5,1488.3 L622.0,1487.0 L622.5,1493.3 L623.0,1489.5 L623.5,1486.6 L624.0,1495.1 L624.5,1491.3 L625.0,1491.3 L625.5,1484.8 L626.0,1489.7 L626.5,1488.8 L627.0,1489.8 L627.5,1490.3 L628.0,1489.4 L628.5,1483.9 L629.0,1485.7 L629.5,1478.1 L630.0,1485.5 L630.5,1485.6 L631.0,1481.7 L631.5,1480.2 L632.0,1482.3 L632.5,1478.9 L633.0,1486.4 L633.5,1486.3 L634.0,1481.4 L634.5,1483.9 L635.0,1488.0 L635.5,1486.5 L636.0,1484.7 L636.5,1481.5 L637.0,1480.8 L637.5,1479.1 L638.0,1482.6 L638.5,1487.7 L639.0,1487.0 L639.5,1487.6 L640.0,1486.9 L640.5,1475.7 L641.0,1481.1 L641.5,1480.1 L642.0,1486.5 L642.5,1487.5 L643.0,1478.4 L643.5,1479.8 L644.0,1480.3 L644.5,1476.0 L645.0,1475.2 L645.5,1474.3 L646.0,1479.7 L646.5,1472.8 L647.0,1482.6 L647.5,1478.3 L648.0,1481.5 L648.5,1485.2 L649.0,1476.0 L649.5,1474.9 L650.0,1479.5 L650.5,1473.8 L651.0,1476.1 L651.5,1477.7 L652.0,1478.4 L652.5,1472.2 L653.0,1476.3 L653.5,1479.9 L654.0,1483.2 L654.5,1470.3 L655.0,1483.3 L655.5,1480.5 L656.0,1470.5 L656.5,1468.9 L657.0,1476.0 L657.5,1471.2 L658.0,1472.6 L658.5,1473.1 L659.0,1466.8 L659.5,1468.3 L660.0,1469.3 L660.5,1471.4 L661.0,1474.1 L661.5,1473.7 L662.0,1467.6 L662.5,1465.9 L663.0,1477.3 L663.5,1472.8 L664.0,1470.5 L664.5,1464.0 L665.0,1471.7 L665.5,1465.4 L666.0,1467.0 L666.5,1463.1 L667.0,1465.1 L667.5,1466.4 L668.0,1460.0 L668.5,1464.3 L669.0,1468.4 L669.5,1464.2 L670.0,1465.5 L670.5,1466.6 L671.0,1464.8 L671.5,1474.0 L672.0,1470.2 L672.5,1476.8 L673.0,1476.5 L673.5,1466.8 L674.0,1472.5 L674.5,1470.1 L675.0,1469.2 L675.5,1472.7 L676.0,1474.5 L676.5,1476.4 L677.0,1478.5 L677.5,1471.7 L678.0,1475.6 L678.5,1478.6 L679.0,1483.2 L679.5,1469.3 L680.0,1482.9 L680.5,1477.6 L681.0,1487.3 L681.5,1480.2 L682.0,1477.8 L682.5,1481.2 L683.0,1486.3 L683.5,1481.2 L684.0,1475.5 L684.5,1488.2 L685.0,1479.4 L685.5,1481.0 L686.0,1481.4 L686.5,1480.7 L687.0,1485.3 L687.5,1487.6 L688.0,1489.5 L688.5,1492.2 L689.0,1492.2 L689.5,1487.3 L690.0,1493.9 L690.5,1499.4 L691.0,1500.2 L691.5,1497.5 L692.0,1500.1 L692.5,1501.9 L693.0,1504.4 L693.5,1504.3 L694.0,1496.6 L694.5,1497.5 L695.0,1503.5 L695.5,1503.4 L696.0,1502.9 L696.5,1489.2 L697.0,1496.4 L697.5,1491.6 L698.0,1504.8 L698.5,1502.7 L699.0,1503.5 L699.5,1505.2 L700.0,1511.5 L700.5,1506.5 L701.0,1513.0 L701.5,1511.2 L702.0,1510.1 L702.5,1510.7 L703.0,1510.5 L703.5,1505.7 L704.0,1514.1 L704.5,1512.8 L705.0,1507.8 L705.5,1510.7 L706.0,1512.2 L706.5,1503.3 L707.0,1508.1 L707.5,1506.8 L708.0,1504.6 L708.5,1508.4 L709.0,1506.2 L709.5,1509.4 L710.0,1511.5 L710.5,1511.0 L711.0,1511.5 L711.5,1518.7 L712.0,1507.6 L712.5,1511.4 L713.0,1505.4 L713.5,1511.9 L714.0,1514.6 L714.5,1515.6 L715.0,1509.3 L715.5,1510.6 L716.0,1517.1 L716.5,1512.8 L717.0,1515.4 L717.5,1506.3 L718.0,1514.6 L718.5,1513.0 L719.0,1511.0 L719.5,1504.6 L720.0,1506.2 L720.5,1506.0 L721.0,1506.3 L721.5,1505.2 L722.0,1506.0 L722.5,1508.9 L723.0,1513.2 L723.5,1500.1 L724.0,1502.5 L724.5,1503.4 L725.0,1508.1 L725.5,1503.0 L726.0,1512.2 L726.5,1511.1 L727.0,1508.2 L727.5,1505.5 L728.0,1507.4 L728.5,1507.6 L729.0,1506.9 L729.5,1503.2 L730.0,1508.8 L730.5,1500.1 L731.0,1508.9 L731.5,1495.5 L732.0,1501.1 L732.5,1498.4 L733.0,1506.4 L733.5,1497.6 L734.0,1509.0 L734.5,1495.8 L735.0,1508.6 L735.5,1503.4 L736.0,1501.0 L736.5,1502.0 L737.0,1508.2 L737.5,1502.5 L738.0,1488.5 L738.5,1501.9 L739.0,1496.0 L739.5,1489.3 L740.0,1496.3 L740.5,1489.5 L741.0,1495.6 L741.5,1495.5 L742.0,1492.3 L742.5,1497.7 L743.0,1489.9 L743.5,1495.8 L744.0,1490.8 L744.5,1492.6 L745.0,1499.7 L745.5,1491.0 L746.0,1484.9 L746.5,1485.8 L747.0,1482.7 L747.5,1485.5 L748.0,1485.5 L748.5,1485.8 L749.0,1484.9 L749.5,1481.7 L750.0,1484.6 L750.5,1486.4 L751.0,1480.2 L751.5,1482.7 L752.0,1482.6 L752.5,1486.4 L753.0,1484.3 L753.5,1476.7 L754.0,1480.0 L754.5,1473.1 L755.0,1475.4 L755.5,1479.9 L756.0,1480.8 L756.5,1481.4 L757.0,1474.8 L757.5,1471.5 L758.0,1478.6 L758.5,1476.3 L759.0,1478.7 L759.5,1476.3 L760.0,1477.5 L760.5,1478.2 L761.0,1479.7 L761.5,1475.2 L762.0,1479.6 L762.5,1473.1 L763.0,1475.1 L763.5,1481.3 L764.0,1476.1 L764.5,1469.0 L765.0,1478.6 L765.5,1475.6 L766.0,1475.4 L766.5,1471.2 L767.0,1472.0 L767.5,1468.1 L768.0,1466.2 L768.5,1473.6 L769.0,1466.0 L769.5,1465.4 L770.0,1464.5 L770.5,1471.8 L771.0,1467.5 L771.5,1461.5 L772.0,1461.9 L772.5,1463.8 L773.0,1465.4 L773.5,1454.1 L774.0,1463.5 L774.5,1458.6 L775.0,1456.7 L775.5,1455.2 L776.0,1458.9 L776.5,1463.6 L777.0,1457.6 L777.5,1458.6 L778.0,1452.5 L778.5,1458.3 L779.0,1459.8 L779.5,1451.8 L780.0,1458.7 L780.5,1463.8 L781.0,1453.3 L781.5,1457.4 L782.0,1461.6 L782.5,1452.2 L783.0,1457.1 L783.5,1458.2 L784.0,1461.7 L784.5,1451.3 L785.0,1461.0 L785.5,1457.0 L786.0,1461.7 L786.5,1460.8 L787.0,1459.0 L787.5,1459.1 L788.0,1448.8 L788.5,1448.2 L789.0,1449.8 L789.5,1452.0 L790.0,1458.9 L790.5,1446.4 L791.0,1452.5 L791.5,1447.3 L792.0,1445.7 L792.5,1460.2 L793.0,1455.1 L793.5,1459.7 L794.0,1458.5 L794.5,1448.4 L795.0,1443.8 L795.5,1458.6 L796.0,1448.2 L796.5,1444.7 L797.0,1451.0 L797.5,1448.2 L798.0,1445.3 L798.5,1444.4 L799.0,1445.7 L799.5,1446.1 L800.0,1449.3 L800.5,1443.2 L801.0,1442.3 L801.5,1445.7 L802.0,1445.7 L802.5,1449.8 L803.0,1443.4 L803.5,1442.7 L804.0,1438.8 L804.5,1449.3 L805.0,1439.3 L805.5,1447.8 L806.0,1442.4 L806.5,1447.2 L807.0,1448.4 L807.5,1440.2 L808.0,1446.0 L808.5,1438.7 L809.0,1452.5 L809.5,1445.3 L810.0,1440.1 L810.5,1444.8 L811.0,1451.8 L811.5,1453.0 L812.0,1452.7 L812.5,1445.9 L813.0,1448.9 L813.5,1454.2 L814.0,1445.0 L814.5,1445.7 L815.0,1443.5 L815.5,1442.3 L816.0,1449.7 L816.5,1445.6 L817.0,1444.7 L817.5,1445.6 L818.0,1444.8 L818.5,1439.1 L819.0,1423.5 L819.5,1406.6 L820.0,1393.0 L820.5,1400.5 L821.0,1411.2 L821.5,1421.7 L822.0,1433.6 L822.5,1440.1 L823.0,1446.0 L823.5,1447.6 L824.0,1442.3 L824.5,1441.9 L825.0,1442.9 L825.5,1440.2 L826.0,1443.2 L826.5,1444.5 L827.0,1442.8 L827.5,1437.7 L828.0,1437.9 L828.5,1444.9 L829.0,1437.2 L829.5,1442.4 L830.0,1441.1 L830.5,1437.3 L831.0,1434.8 L831.5,1435.6 L832.0,1430.5 L832.5,1430.3 L833.0,1429.6 L833.5,1424.4 L834.0,1423.5 L834.5,1419.2 L835.0,1412.8 L835.5,1409.1 L836.0,1402.4 L836.5,1393.5 L837.0,1388.9 L837.5,1380.3 L838.0,1370.0 L838.5,1357.1 L839.0,1348.1 L839.5,1334.8 L840.0,1320.9 L840.5,1305.8 L841.0,1289.2 L841.5,1273.3 L842.0,1255.9 L842.5,1240.2 L843.0,1222.3 L843.5,1206.4 L844.0,1190.0 L844.5,1175.9 L845.0,1163.6 L845.5,1154.0 L846.0,1146.6 L846.5,1141.9 L847.0,1139.7 L847.5,1142.9 L848.0,1147.2 L848.5,1156.5 L849.0,1167.4 L849.5,1180.0 L850.0,1194.8 L850.5,1209.8 L851.0,1228.2 L851.5,1245.0 L852.0,1262.8 L852.5,1279.6 L853.0,1297.0 L853.5,1313.0 L854.0,1329.2 L854.5,1344.1 L855.0,1358.2 L855.5,1372.5 L856.0,1383.2 L856.5,1394.7 L857.0,1404.1 L857.5,1416.4 L858.0,1418.1 L858.5,1428.4 L859.0,1426.0 L859.5,1434.5 L860.0,1443.5 L860.5,1444.9 L861.0,1453.9 L861.5,1456.3 L862.0,1449.1 L862.5,1453.4 L863.0,1458.8 L863.5,1466.5 L864.0,1466.6 L864.5,1464.5 L865.0,1460.8 L865.5,1463.9 L866.0,1462.3 L866.5,1465.6 L867.0,1471.3 L867.5,1473.6 L868.0,1467.5 L868.5,1471.9 L869.0,1477.1 L869.5,1474.7 L870.0,1474.1 L870.5,1477.4 L871.0,1477.6 L871.5,1475.9 L872.0,1474.2 L872.5,1476.0 L873.0,1478.4 L873.5,1478.5 L874.0,1484.7 L874.5,1483.8 L875.0,1485.2 L875.5,1487.9 L876.0,1489.1 L876.5,1488.8 L877.0,1486.8 L877.5,1484.9 L878.0,1491.6 L878.5,1485.1 L879.0,1486.1 L879.5,1486.1 L880.0,1491.2 L880.5,1490.8 L881.0,1493.2 L881.5,1490.1 L882.0,1487.0 L882.5,1492.9 L883.0,1495.8 L883.5,1494.6 L884.0,1494.5 L884.5,1496.0 L885.0,1500.4 L885.5,1497.7 L886.0,1494.1 L886.5,1497.5 L887.0,1498.8 L887.5,1493.9 L888.0,1500.2 L888.5,1496.5 L889.0,1500.6 L889.5,1499.5 L890.0,1497.9 L890.5,1503.8 L891.0,1497.4 L891.5,1499.9 L892.0,1503.1 L892.5,1505.2 L893.0,1502.1 L893.5,1500.0 L894.0,1505.9 L894.5,1505.8 L895.0,1510.3 L895.5,1505.2 L896.0,1505.5 L896.5,1502.4 L897.0,1501.1 L897.5,1507.7 L898.0,1510.5 L898.5,1505.9 L899.0,1509.2 L899.5,1508.9 L900.0,1515.8 L900.5,1511.1 L901.0,1516.1 L901.5,1512.5 L902.0,1515.6 L902.5,1514.0 L903.0,1510.9 L903.5,1516.8 L904.0,1517.3 L904.5,1511.6 L905.0,1517.5 L905.5,1516.8 L906.0,1514.6 L906.5,1517.3 L907.0,1514.5 L907.5,1521.0 L908.0,1524.1 L908.5,1519.1 L909.0,1522.3 L909.5,1526.6 L910.0,1524.5 L910.5,1523.5 L911.0,1522.9 L911.5,1525.7 L912.0,1525.9 L912.5,1527.6 L913.0,1522.3 L913.5,1530.3 L914.0,1527.1 L914.5,1529.6 L915.0,1526.2 L915.5,1525.0 L916.0,1527.5 L916.5,1526.4 L917.0,1529.7 L917.5,1532.6 L918.0,1533.4 L918.5,1530.8 L919.0,1529.3 L919.5,1531.4 L920.0,1534.8 L920.5,1535.9 L921.0,1531.1 L921.5,1532.0 L922.0,1530.5 L922.5,1535.0 L923.0,1536.9 L923.5,1529.9 L924.0,1535.6 L924.5,1533.5 L925.0,1530.3 L925.5,1537.6 L926.0,1535.9 L926.5,1537.8 L927.0,1530.8 L927.5,1541.5 L928.0,1535.9 L928.5,1534.2 L929.0,1539.3 L929.5,1536.7 L930.0,1536.7 L930.5,1537.8 L931.0,1528.3 L931.5,1540.0 L932.0,1533.0 L932.5,1534.3 L933.0,1536.2 L933.5,1531.1 L934.0,1533.3 L934.5,1535.2 L935.0,1531.9 L935.5,1532.2 L936.0,1525.2 L936.5,1526.7 L937.0,1526.9 L937.5,1531.4 L938.0,1535.5 L938.5,1531.9 L939.0,1530.0 L939.5,1530.9 L940.0,1534.2 L940.5,1534.4 L941.0,1530.1 L941.5,1536.5 L942.0,1534.0 L942.5,1536.7 L943.0,1528.2 L943.5,1529.7 L944.0,1536.5 L944.5,1531.2 L945.0,1537.0 L945.5,1536.0 L946.0,1535.0 L946.5,1535.7 L947.0,1536.3 L947.5,1537.7 L948.0,1535.5 L948.5,1536.7 L949.0,1541.8 L949.5,1538.9 L950.0,1538.2 L950.5,1537.9 L951.0,1534.0 L951.5,1536.2 L952.0,1535.5 L952.5,1539.0 L953.0,1533.9 L953.5,1531.6 L954.0,1537.6 L954.5,1541.0 L955.0,1545.7 L955.5,1544.2 L956.0,1538.8 L956.5,1540.7 L957.0,1538.2 L957.5,1540.6 L958.0,1539.4 L958.5,1536.9 L959.0,1543.3 L959.5,1542.7 L960.0,1541.7 L960.5,1543.2 L961.0,1547.9 L961.5,1542.7 L962.0,1541.4 L962.5,1544.6 L963.0,1536.7 L963.5,1542.4 L964.0,1537.7 L964.5,1537.4 L965.0,1541.2 L965.5,1545.4 L966.0,1539.4 L966.5,1543.9 L967.0,1542.9 L967.5,1537.8 L968.0,1545.1 L968.5,1540.8 L969.0,1539.0 L969.5,1540.8 L970.0,1541.1 L970.5,1542.9 L971.0,1538.5 L971.5,1544.0 L972.0,1540.6 L972.5,1536.8 L973.0,1535.6 L973.5,1538.6 L974.0,1532.4 L974.5,1532.5 L975.0,1537.0 L975.5,1541.4 L976.0,1540.7 L976.5,1541.1 L977.0,1540.6 L977.5,1535.9 L978.0,1540.1 L978.5,1534.9 L979.0,1542.0 L979.5,1539.9 L980.0,1540.0 L980.5,1541.2 L981.0,1540.9 L981.5,1540.5 L982.0,1540.5 L982.5,1537.9 L983.0,1535.3 L983.5,1540.2 L984.0,1542.7 L984.5,1541.5 L985.0,1538.2 L985.5,1540.9 L986.0,1537.9 L986.5,1540.9 L987.0,1538.8 L987.5,1541.8 L988.0,1547.8 L988.5,1543.8 L989.0,1545.7 L989.5,1539.3 L990.0,1538.6 L990.5,1540.7 L991.0,1542.0 L991.5,1539.5 L992.0,1543.1 L992.5,1537.6 L993.0,1543.3 L993.5,1542.0 L994.0,1535.9 L994.5,1541.0 L995.0,1537.9 L995.5,1540.6 L996.0,1535.8 L996.5,1537.9 L997.0,1539.0 L997.5,1531.6 L998.0,1532.9 L998.5,1538.1 L999.0,1538.3 L999.5,1542.2 L1000.0,1540.0 L1000.5,1535.7 L1001.0,1540.1 L1001.5,1536.6 L1002.0,1538.2 L1002.5,1536.8 L1003.0,1540.4 L1003.5,1534.0 L1004.0,1536.0 L1004.5,1534.3 L1005.0,1545.9 L1005.5,1538.3 L1006.0,1538.8 L1006.5,1539.0 L1007.0,1539.6 L1007.5,1540.4 L1008.0,1543.7 L1008.5,1542.3 L1009.0,1542.4 L1009.5,1540.7 L1010.0,1542.0 L1010.5,1546.0 L1011.0,1541.3 L1011.5,1542.2 L1012.0,1535.2 L1012.5,1543.3 L1013.0,1542.3 L1013.5,1544.7 L1014.0,1535.5 L1014.5,1540.8 L1015.0,1540.4 L1015.5,1541.1 L1016.0,1539.4 L1016.5,1541.8 L1017.0,1541.1 L1017.5,1538.7 L1018.0,1538.2 L1018.5,1537.5 L1019.0,1536.9 L1019.5,1538.1 L1020.0,1535.9 L1020.5,1532.4 L1021.0,1541.6 L1021.5,1533.0 L1022.0,1538.3 L1022.5,1535.5 L1023.0,1538.8 L1023.5,1537.5 L1024.0,1539.3 L1024.5,1537.2 L1025.0,1536.2 L1025.5,1541.3 L1026.0,1544.0 L1026.5,1540.9 L1027.0,1539.6 L1027.5,1536.0 L1028.0,1538.6 L1028.5,1539.6 L1029.0,1536.9 L1029.5,1541.1 L1030.0,1537.9 L1030.5,1538.4 L1031.0,1535.3 L1031.5,1534.9 L1032.0,1536.1 L1032.5,1536.3 L1033.0,1536.2 L1033.5,1530.9 L1034.0,1531.8 L1034.5,1533.8 L1035.0,1529.0 L1035.5,1536.4 L1036.0,1533.8 L1036.5,1532.7 L1037.0,1530.6 L1037.5,1535.1 L1038.0,1532.1 L1038.5,1537.0 L1039.0,1532.8 L1039.5,1526.6 L1040.0,1533.1 L1040.5,1530.3 L1041.0,1530.1 L1041.5,1530.5 L1042.0,1530.1 L1042.5,1531.1 L1043.0,1532.4 L1043.5,1531.5 L1044.0,1528.9 L1044.5,1527.3 L1045.0,1527.3 L1045.5,1530.9 L1046.0,1532.3 L1046.5,1534.3 L1047.0,1524.6 L1047.5,1528.3 L1048.0,1527.2 L1048.5,1525.5 L1049.0,1526.7 L1049.5,1526.1 L1050.0,1525.8 L1050.5,1524.3 L1051.0,1527.3 L1051.5,1529.5 L1052.0,1531.1 L1052.5,1525.4 L1053.0,1524.7 L1053.5,1526.9 L1054.0,1524.9 L1054.5,1529.7 L1055.0,1523.7 L1055.5,1526.6 L1056.0,1523.4 L1056.5,1526.2 L1057.0,1527.2 L1057.5,1530.3 L1058.0,1523.8 L1058.5,1527.7 L1059.0,1521.5 L1059.5,1524.6 L1060.0,1526.0 L1060.5,1525.9 L1061.0,1527.8 L1061.5,1528.8 L1062.0,1523.5 L1062.5,1530.1 L1063.0,1526.0 L1063.5,1533.9 L1064.0,1530.0 L1064.5,1529.6 L1065.0,1528.8 L1065.5,1529.2 L1066.0,1529.3 L1066.5,1527.5 L1067.0,1530.2 L1067.5,1527.8 L1068.0,1528.9 L1068.5,1526.0 L1069.0,1527.0 L1069.5,1522.6 L1070.0,1530.0 L1070.5,1522.8 L1071.0,1523.5 L1071.5,1527.2 L1072.0,1527.9 L1072.5,1522.7 L1073.0,1520.5 L1073.5,1521.2 L1074.0,1523.0 L1074.5,1523.3 L1075.0,1526.0 L1075.5,1528.4 L1076.0,1527.7 L1076.5,1524.3 L1077.0,1528.2 L1077.5,1529.4 L1078.0,1530.2 L1078.5,1526.5 L1079.0,1524.5 L1079.5,1527.7 L1080.0,1530.3 L1080.5,1526.3 L1081.0,1532.4 L1081.5,1531.5 L1082.0,1525.8 L1082.5,1522.5 L1083.0,1525.0 L1083.5,1526.7 L1084.0,1529.5 L1084.5,1525.1 L1085.0,1533.6 L1085.5,1534.0 L1086.0,1526.5 L1086.5,1523.7 L1087.0,1528.3 L1087.5,1529.6 L1088.0,1531.4 L1088.5,1530.0 L1089.0,1528.1 L1089.5,1524.2 L1090.0,1529.9 L1090.5,1532.0 L1091.0,1529.6 L1091.5,1531.9 L1092.0,1531.6 L1092.5,1530.9 L1093.0,1529.2 L1093.5,1531.9 L1094.0,1527.9 L1094.5,1534.5 L1095.0,1528.5 L1095.5,1532.7 L1096.0,1528.8 L1096.5,1531.9 L1097.0,1531.3 L1097.5,1533.3 L1098.0,1530.6 L1098.5,1528.9 L1099.0,1532.7 L1099.5,1533.2 L1100.0,1530.3 L1100.5,1532.5 L1101.0,1530.6 L1101.5,1534.7 L1102.0,1533.8 L1102.5,1534.6 L1103.0,1539.7 L1103.5,1535.2 L1104.0,1535.2 L1104.5,1535.9 L1105.0,1534.5 L1105.5,1533.6 L1106.0,1536.9 L1106.5,1537.0 L1107.0,1530.3 L1107.5,1534.8 L1108.0,1534.8 L1108.5,1534.4 L1109.0,1538.7 L1109.5,1534.6 L1110.0,1538.2 L1110.5,1535.0 L1111.0,1535.3 L1111.5,1537.9 L1112.0,1534.8 L1112.5,1536.8 L1113.0,1534.1 L1113.5,1535.1 L1114.0,1538.5 L1114.5,1538.2 L1115.0,1534.5 L1115.5,1535.2 L1116.0,1542.5 L1116.5,1536.2 L1117.0,1534.0 L1117.5,1537.8 L1118.0,1533.5 L1118.5,1534.3 L1119.0,1536.5 L1119.5,1535.9 L1120.0,1533.1 L1120.5,1536.7 L1121.0,1533.2 L1121.5,1532.9 L1122.0,1533.5 L1122.5,1532.8 L1123.0,1534.8 L1123.5,1534.2 L1124.0,1531.8 L1124.5,1534.1 L1125.0,1532.8 L1125.5,1533.5 L1126.0,1534.7 L1126.5,1538.2 L1127.0,1536.6 L1127.5,1540.2 L1128.0,1541.2 L1128.5,1538.6 L1129.0,1537.7 L1129.5,1537.4 L1130.0,1539.8 L1130.5,1541.4 L1131.0,1542.6 L1131.5,1536.1 L1132.0,1540.7 L1132.5,1540.9 L1133.0,1544.2 L1133.5,1539.0 L1134.0,1539.2 L1134.5,1535.9 L1135.0,1538.3 L1135.5,1538.1 L1136.0,1538.5 L1136.5,1539.2 L1137.0,1538.3 L1137.5,1541.3 L1138.0,1542.4 L1138.5,1542.3 L1139.0,1539.6 L1139.5,1542.4 L1140.0,1541.6 L1140.5,1535.0 L1141.0,1538.0 L1141.5,1535.9 L1142.0,1536.6 L1142.5,1539.4 L1143.0,1538.8 L1143.5,1542.6 L1144.0,1544.1 L1144.5,1540.3 L1145.0,1539.0 L1145.5,1539.5 L1146.0,1541.4 L1146.5,1542.6 L1147.0,1541.0 L1147.5,1545.0 L1148.0,1543.7 L1148.5,1546.4 L1149.0,1547.6 L1149.5,1548.5 L1150.0,1544.0 L1150.5,1539.5 L1151.0,1538.1 L1151.5,1540.6 L1152.0,1538.1 L1152.5,1538.2 L1153.0,1541.2 L1153.5,1539.5 L1154.0,1543.6 L1154.5,1546.8 L1155.0,1541.6 L1155.5,1543.7 L1156.0,1539.6 L1156.5,1542.8 L1157.0,1540.9 L1157.5,1539.6 L1158.0,1537.8 L1158.5,1545.7 L1159.0,1537.7 L1159.5,1539.2 L1160.0,1541.1 L1160.5,1541.6 L1161.0,1542.0 L1161.5,1540.8 L1162.0,1538.3 L1162.5,1541.5 L1163.0,1538.7 L1163.5,1533.8 L1164.0,1537.3 L1164.5,1527.3 L1165.0,1519.6 L1165.5,1501.4 L1166.0,1496.3 L1166.5,1505.0 L1167.0,1517.0 L1167.5,1531.5 L1168.0,1530.7 L1168.5,1537.3 L1169.0,1535.7 L1169.5,1539.9 L1170.0,1539.4 L1170.5,1536.6 L1171.0,1542.5 L1171.5,1537.7 L1172.0,1540.5 L1172.5,1535.5 L1173.0,1539.0 L1173.5,1540.0 L1174.0,1539.8 L1174.5,1538.5 L1175.0,1537.3 L1175.5,1534.3 L1176.0,1536.8 L1176.5,1535.8 L1177.0,1536.5 L1177.5,1538.4 L1178.0,1541.0 L1178.5,1537.6 L1179.0,1538.3 L1179.5,1537.6 L1180.0,1537.2 L1180.5,1536.5 L1181.0,1534.7 L1181.5,1534.2 L1182.0,1535.3 L1182.5,1538.2 L1183.0,1535.2 L1183.5,1536.8 L1184.0,1529.4 L1184.5,1532.5 L1185.0,1532.2 L1185.5,1530.7 L1186.0,1525.2 L1186.5,1523.6 L1187.0,1523.0 L1187.5,1525.8 L1188.0,1529.9 L1188.5,1525.2 L1189.0,1520.5 L1189.5,1522.7 L1190.0,1520.3 L1190.5,1519.5 L1191.0,1517.1 L1191.5,1513.3 L1192.0,1512.6 L1192.5,1514.0 L1193.0,1511.5 L1193.5,1511.9 L1194.0,1504.7 L1194.5,1507.6 L1195.0,1504.0 L1195.5,1501.8 L1196.0,1501.3 L1196.5,1496.3 L1197.0,1493.9 L1197.5,1492.4 L1198.0,1488.4 L1198.5,1484.9 L1199.0,1481.5 L1199.5,1475.1 L1200.0,1466.8 L1200.5,1467.6 L1201.0,1457.6 L1201.5,1452.4 L1202.0,1443.3 L1202.5,1434.5 L1203.0,1431.5 L1203.5,1429.1 L1204.0,1426.1 L1204.5,1422.0 L1205.0,1422.2 L1205.5,1422.9 L1206.0,1425.1 L1206.5,1426.0 L1207.0,1429.8 L1207.5,1434.5 L1208.0,1438.6 L1208.5,1449.4 L1209.0,1450.1 L1209.5,1458.4 L1210.0,1464.1 L1210.5,1464.5 L1211.0,1476.1 L1211.5,1478.7 L1212.0,1484.3 L1212.5,1486.2 L1213.0,1486.1 L1213.5,1493.1 L1214.0,1494.6 L1214.5,1499.0 L1215.0,1499.7 L1215.5,1496.0 L1216.0,1504.0 L1216.5,1503.9 L1217.0,1506.4 L1217.5,1507.3 L1218.0,1505.3 L1218.5,1509.5 L1219.0,1508.8 L1219.5,1514.7 L1220.0,1510.4 L1220.5,1509.0 L1221.0,1511.7 L1221.5,1515.7 L1222.0,1511.3 L1222.5,1507.9 L1223.0,1516.6 L1223.5,1514.2 L1224.0,1512.3 L1224.5,1515.4 L1225.0,1512.2 L1225.5,1512.0 L1226.0,1517.0 L1226.5,1513.8 L1227.0,1517.0 L1227.5,1516.5 L1228.0,1518.1 L1228.5,1516.6 L1229.0,1512.2 L1229.5,1518.1 L1230.0,1516.0 L1230.5,1519.8 L1231.0,1519.3 L1231.5,1521.8 L1232.0,1517.8 L1232.5,1514.1 L1233.0,1518.2 L1233.5,1520.0 L1234.0,1517.9 L1234.5,1517.6 L1235.0,1521.4 L1235.5,1516.8 L1236.0,1520.2 L1236.5,1518.7 L1237.0,1515.2 L1237.5,1516.7 L1238.0,1518.3 L1238.5,1520.3 L1239.0,1517.4 L1239.5,1516.9 L1240.0,1518.6 L1240.5,1520.3 L1241.0,1519.3 L1241.5,1520.6 L1242.0,1526.5 L1242.5,1523.1 L1243.0,1520.6 L1243.5,1523.0 L1244.0,1526.9 L1244.5,1524.6 L1245.0,1522.2 L1245.5,1520.3 L1246.0,1519.6 L1246.5,1523.0 L1247.0,1523.8 L1247.5,1520.8 L1248.0,1521.5 L1248.5,1525.0 L1249.0,1520.6 L1249.5,1521.4 L1250.0,1525.6 L1250.5,1527.2 L1251.0,1526.6 L1251.5,1528.4 L1252.0,1529.9 L1252.5,1529.0 L1253.0,1525.9 L1253.5,1531.3 L1254.0,1530.7 L1254.5,1528.8 L1255.0,1524.9 L1255.5,1527.8 L1256.0,1522.8 L1256.5,1526.8 L1257.0,1522.9 L1257.5,1526.7 L1258.0,1530.8 L1258.5,1529.1 L1259.0,1532.7 L1259.5,1529.0 L1260.0,1529.2 L1260.5,1528.4 L1261.0,1531.0 L1261.5,1529.2 L1262.0,1532.7 L1262.5,1533.2 L1263.0,1530.0 L1263.5,1526.9 L1264.0,1530.5 L1264.5,1532.0 L1265.0,1529.5 L1265.5,1527.9 L1266.0,1529.6 L1266.5,1529.9 L1267.0,1521.5 L1267.5,1530.6 L1268.0,1529.1 L1268.5,1528.7 L1269.0,1527.8 L1269.5,1529.4 L1270.0,1530.2 L1270.5,1524.6 L1271.0,1529.4 L1271.5,1528.3 L1272.0,1530.2 L1272.5,1527.4 L1273.0,1525.2 L1273.5,1525.1 L1274.0,1526.7 L1274.5,1525.3 L1275.0,1527.3 L1275.5,1524.0 L1276.0,1523.0 L1276.5,1525.3 L1277.0,1523.7 L1277.5,1525.7 L1278.0,1528.5 L1278.5,1523.4 L1279.0,1525.0 L1279.5,1529.6 L1280.0,1527.9 L1280.5,1528.3 L1281.0,1525.0 L1281.5,1525.5 L1282.0,1527.0 L1282.5,1531.8 L1283.0,1528.9 L1283.5,1523.9 L1284.0,1528.2 L1284.5,1529.2 L1285.0,1529.4 L1285.5,1525.6 L1286.0,1529.3 L1286.5,1534.4 L1287.0,1527.3 L1287.5,1530.7 L1288.0,1528.2 L1288.5,1527.0 L1289.0,1529.0 L1289.5,1532.4 L1290.0,1532.7 L1290.5,1528.0 L1291.0,1528.3 L1291.5,1527.3 L1292.0,1522.4 L1292.5,1528.2 L1293.0,1529.6 L1293.5,1529.4 L1294.0,1524.5 L1294.5,1528.6 L1295.0,1528.6 L1295.5,1524.9 L1296.0,1525.5 L1296.5,1525.8 L1297.0,1527.0 L1297.5,1531.1 L1298.0,1524.3 L1298.5,1523.5 L1299.0,1528.6 L1299.5,1526.6 L1300.0,1522.7 L1300.5,1525.0 L1301.0,1524.9 L1301.5,1525.6 L1302.0,1529.1 L1302.5,1531.6 L1303.0,1528.7 L1303.5,1529.6 L1304.0,1527.3 L1304.5,1531.0 L1305.0,1531.7 L1305.5,1528.0 L1306.0,1525.9 L1306.5,1531.2 L1307.0,1527.9 L1307.5,1523.8 L1308.0,1521.5 L1308.5,1524.9 L1309.0,1528.2 L1309.5,1524.3 L1310.0,1525.2 L1310.5,1525.3 L1311.0,1528.0 L1311.5,1530.8 L1312.0,1525.1 L1312.5,1527.4 L1313.0,1527.9 L1313.5,1527.5 L1314.0,1526.2 L1314.5,1530.9 L1315.0,1528.5 L1315.5,1530.4 L1316.0,1531.9 L1316.5,1528.0 L1317.0,1529.9 L1317.5,1526.7 L1318.0,1527.4 L1318.5,1528.4 L1319.0,1527.7 L1319.5,1525.4 L1320.0,1532.3 L1320.5,1529.1 L1321.0,1525.6 L1321.5,1524.4 L1322.0,1530.1 L1322.5,1531.5 L1323.0,1533.3 L1323.5,1533.5 L1324.0,1530.6 L1324.5,1532.9 L1325.0,1528.0 L1325.5,1532.3 L1326.0,1534.6 L1326.5,1531.7 L1327.0,1532.3 L1327.5,1531.4 L1328.0,1531.1 L1328.5,1533.2 L1329.0,1525.9 L1329.5,1531.4 L1330.0,1525.3 L1330.5,1526.5 L1331.0,1526.2 L1331.5,1527.6 L1332.0,1526.5 L1332.5,1528.7 L1333.0,1528.5 L1333.5,1534.2 L1334.0,1530.8 L1334.5,1529.2 L1335.0,1529.3 L1335.5,1529.7 L1336.0,1526.7 L1336.5,1525.3 L1337.0,1526.8 L1337.5,1529.5 L1338.0,1530.5 L1338.5,1529.9 L1339.0,1528.1 L1339.5,1530.2 L1340.0,1527.4 L1340.5,1528.9 L1341.0,1531.0 L1341.5,1529.1 L1342.0,1528.3 L1342.5,1524.6 L1343.0,1525.3 L1343.5,1522.3 L1344.0,1526.1 L1344.5,1522.3 L1345.0,1519.9 L1345.5,1522.2 L1346.0,1523.7 L1346.5,1518.4 L1347.0,1518.3 L1347.5,1524.0 L1348.0,1522.0 L1348.5,1522.2 L1349.0,1518.5 L1349.5,1525.2 L1350.0,1523.3 L1350.5,1522.4 L1351.0,1517.6 L1351.5,1521.7 L1352.0,1522.4 L1352.5,1518.6 L1353.0,1517.0 L1353.5,1516.8 L1354.0,1518.6 L1354.5,1515.9 L1355.0,1514.9 L1355.5,1511.8 L1356.0,1510.2 L1356.5,1516.5 L1357.0,1518.0 L1357.5,1515.9 L1358.0,1516.5 L1358.5,1511.3 L1359.0,1511.7 L1359.5,1512.1 L1360.0,1510.2 L1360.5,1513.7 L1361.0,1504.8 L1361.5,1504.8 L1362.0,1504.6 L1362.5,1503.0 L1363.0,1505.3 L1363.5,1498.6 L1364.0,1505.0 L1364.5,1503.8 L1365.0,1502.6 L1365.5,1504.6 L1366.0,1505.0 L1366.5,1500.2 L1367.0,1500.5 L1367.5,1499.9 L1368.0,1499.7 L1368.5,1496.6 L1369.0,1495.7 L1369.5,1497.5 L1370.0,1494.2 L1370.5,1496.7 L1371.0,1494.9 L1371.5,1491.7 L1372.0,1493.3 L1372.5,1491.3 L1373.0,1490.3 L1373.5,1492.2 L1374.0,1489.4 L1374.5,1489.2 L1375.0,1484.3 L1375.5,1490.5 L1376.0,1485.3 L1376.5,1486.4 L1377.0,1490.9 L1377.5,1491.0 L1378.0,1486.1 L1378.5,1483.8 L1379.0,1487.7 L1379.5,1485.1 L1380.0,1486.2 L1380.5,1482.4 L1381.0,1487.9 L1381.5,1489.0 L1382.0,1481.3 L1382.5,1482.1 L1383.0,1481.5 L1383.5,1484.7 L1384.0,1478.6 L1384.5,1483.5 L1385.0,1482.5 L1385.5,1481.2 L1386.0,1484.1 L1386.5,1478.9 L1387.0,1480.8 L1387.5,1483.1 L1388.0,1487.0 L1388.5,1485.0 L1389.0,1484.6 L1389.5,1488.0 L1390.0,1486.7 L1390.5,1487.3 L1391.0,1489.0 L1391.5,1490.9 L1392.0,1494.9 L1392.5,1488.9 L1393.0,1492.4 L1393.5,1491.7 L1394.0,1492.4 L1394.5,1497.2 L1395.0,1496.5 L1395.5,1496.9 L1396.0,1495.5 L1396.5,1495.0 L1397.0,1497.8 L1397.5,1497.8 L1398.0,1497.7 L1398.5,1500.3 L1399.0,1495.9 L1399.5,1497.5 L1400.0,1501.4 L1400.5,1498.9 L1401.0,1501.1 L1401.5,1497.8 L1402.0,1501.6 L1402.5,1499.3 L1403.0,1505.0 L1403.5,1504.0 L1404.0,1503.7 L1404.5,1506.7 L1405.0,1504.5 L1405.5,1502.8 L1406.0,1508.8 L1406.5,1506.5 L1407.0,1509.0 L1407.5,1506.8 L1408.0,1510.4 L1408.5,1505.3 L1409.0,1504.7 L1409.5,1505.8 L1410.0,1510.9 L1410.5,1505.1 L1411.0,1506.0 L1411.5,1506.7 L1412.0,1511.1 L1412.5,1511.8 L1413.0,1509.5 L1413.5,1512.9 L1414.0,1510.4 L1414.5,1512.4 L1415.0,1511.4 L1415.5,1507.6 L1416.0,1510.4 L1416.5,1510.1 L1417.0,1512.1 L1417.5,1512.2 L1418.0,1513.3 L1418.5,1516.5 L1419.0,1515.3 L1419.5,1517.0 L1420.0,1515.6 L1420.5,1515.2 L1421.0,1517.8 L1421.5,1517.9 L1422.0,1518.6 L1422.5,1515.8 L1423.0,1513.6 L1423.5,1513.5 L1424.0,1513.9 L1424.5,1509.3 L1425.0,1510.4 L1425.5,1516.0 L1426.0,1512.4 L1426.5,1507.6 L1427.0,1512.5 L1427.5,1512.0 L1428.0,1509.3 L1428.5,1515.3 L1429.0,1513.5 L1429.5,1512.3 L1430.0,1509.5 L1430.5,1510.5 L1431.0,1510.7 L1431.5,1509.5 L1432.0,1507.2 L1432.5,1508.2 L1433.0,1508.1 L1433.5,1508.0 L1434.0,1504.3 L1434.5,1506.9 L1435.0,1505.3 L1435.5,1505.1 L1436.0,1503.9 L1436.5,1499.6 L1437.0,1504.6 L1437.5,1504.1 L1438.0,1498.2 L1438.5,1501.1 L1439.0,1498.4 L1439.5,1499.3 L1440.0,1502.3 L1440.5,1502.0 L1441.0,1504.8 L1441.5,1501.0 L1442.0,1497.9 L1442.5,1500.7 L1443.0,1495.0 L1443.5,1504.5 L1444.0,1500.4 L1444.5,1500.5 L1445.0,1498.9 L1445.5,1496.0 L1446.0,1496.5 L1446.5,1494.9 L1447.0,1495.4 L1447.5,1496.8 L1448.0,1492.4 L1448.5,1498.5 L1449.0,1492.6 L1449.5,1496.6 L1450.0,1494.6 L1450.5,1493.4 L1451.0,1496.2 L1451.5,1495.1 L1452.0,1494.2 L1452.5,1494.9 L1453.0,1494.0 L1453.5,1496.5 L1454.0,1495.1 L1454.5,1495.3 L1455.0,1498.0 L1455.5,1493.0 L1456.0,1495.2 L1456.5,1495.0 L1457.0,1494.3 L1457.5,1493.5 L1458.0,1496.3 L1458.5,1497.4 L1459.0,1496.5 L1459.5,1493.7 L1460.0,1498.9 L1460.5,1499.2 L1461.0,1498.2 L1461.5,1496.6 L1462.0,1497.4 L1462.5,1503.4 L1463.0,1503.1 L1463.5,1500.7 L1464.0,1497.8 L1464.5,1503.4 L1465.0,1501.9 L1465.5,1506.0 L1466.0,1502.0 L1466.5,1504.5 L1467.0,1503.6 L1467.5,1507.1 L1468.0,1504.1 L1468.5,1507.6 L1469.0,1504.6 L1469.5,1502.8 L1470.0,1506.5 L1470.5,1505.1 L1471.0,1500.3 L1471.5,1505.4 L1472.0,1505.6 L1472.5,1505.8 L1473.0,1510.3 L1473.5,1504.4 L1474.0,1506.9 L1474.5,1502.2 L1475.0,1502.7 L1475.5,1504.3 L1476.0,1505.0 L1476.5,1504.6 L1477.0,1506.5 L1477.5,1507.3 L1478.0,1508.1 L1478.5,1505.1 L1479.0,1507.3 L1479.5,1504.5 L1480.0,1506.9 L1480.5,1507.7 L1481.0,1505.2 L1481.5,1501.6 L1482.0,1505.0 L1482.5,1511.1 L1483.0,1506.1 L1483.5,1505.0 L1484.0,1506.6 L1484.5,1509.5 L1485.0,1507.6 L1485.5,1506.5 L1486.0,1504.1 L1486.5,1506.1 L1487.0,1503.8 L1487.5,1507.6 L1488.0,1511.3 L1488.5,1510.4 L1489.0,1506.5 L1489.5,1505.0 L1490.0,1503.6 L1490.5,1508.6 L1491.0,1508.5 L1491.5,1509.2 L1492.0,1508.2 L1492.5,1503.7 L1493.0,1502.0 L1493.5,1508.9 L1494.0,1504.7 L1494.5,1511.6 L1495.0,1502.9 L1495.5,1504.6 L1496.0,1505.0 L1496.5,1507.9 L1497.0,1509.5 L1497.5,1508.3 L1498.0,1511.6 L1498.5,1507.4 L1499.0,1509.6 L1499.5,1508.4 L1500.0,1510.4 L1500.5,1511.2 L1501.0,1514.4 L1501.5,1518.0 L1502.0,1509.6 L1502.5,1512.5 L1503.0,1515.5 L1503.5,1515.3 L1504.0,1517.8 L1504.5,1513.2 L1505.0,1517.5 L1505.5,1513.1 L1506.0,1517.7 L1506.5,1517.5 L1507.0,1518.9 L1507.5,1517.3 L1508.0,1514.9 L1508.5,1517.2 L1509.0,1522.0 L1509.5,1520.5 L1510.0,1524.6 L1510.5,1520.1 L1511.0,1524.5 L1511.5,1524.6 L1512.0,1519.4 L1512.5,1524.8 L1513.0,1528.8 L1513.5,1522.6 L1514.0,1527.5 L1514.5,1525.5 L1515.0,1528.6 L1515.5,1526.3 L1516.0,1526.5 L1516.5,1526.4 L1517.0,1526.7 L1517.5,1527.5 L1518.0,1527.9 L1518.5,1532.4 L1519.0,1528.1 L1519.5,1526.9 L1520.0,1527.9 L1520.5,1532.1 L1521.0,1527.3 L1521.5,1533.3 L1522.0,1533.4 L1522.5,1534.5 L1523.0,1530.9 L1523.5,1530.6 L1524.0,1534.3 L1524.5,1534.4 L1525.0,1536.0 L1525.5,1533.9 L1526.0,1533.3 L1526.5,1531.6 L1527.0,1534.5 L1527.5,1535.7 L1528.0,1538.6 L1528.5,1535.8 L1529.0,1538.9 L1529.5,1539.7 L1530.0,1534.5 L1530.5,1533.7 L1531.0,1535.1 L1531.5,1536.2 L1532.0,1534.3 L1532.5,1537.5 L1533.0,1537.7 L1533.5,1539.6 L1534.0,1538.2 L1534.5,1537.5 L1535.0,1540.2 L1535.5,1538.2 L1536.0,1541.1 L1536.5,1539.2 L1537.0,1543.6 L1537.5,1536.5 L1538.0,1543.0 L1538.5,1542.5 L1539.0,1539.9 L1539.5,1540.4 L1540.0,1539.1 L1540.5,1542.2 L1541.0,1543.3 L1541.5,1538.9 L1542.0,1542.8 L1542.5,1537.1 L1543.0,1539.5 L1543.5,1539.6 L1544.0,1536.1 L1544.5,1539.9 L1545.0,1536.9 L1545.5,1539.9 L1546.0,1537.7 L1546.5,1535.3 L1547.0,1536.3 L1547.5,1538.9 L1548.0,1539.5 L1548.5,1539.0 L1549.0,1536.5 L1549.5,1540.0 L1550.0,1536.6 L1550.5,1536.4 L1551.0,1538.8 L1551.5,1536.3 L1552.0,1532.5 L1552.5,1538.2 L1553.0,1536.5 L1553.5,1535.2 L1554.0,1538.7 L1554.5,1534.3 L1555.0,1537.7 L1555.5,1537.0 L1556.0,1541.4 L1556.5,1533.3 L1557.0,1537.6 L1557.5,1538.2 L1558.0,1539.7 L1558.5,1536.4 L1559.0,1536.5 L1559.5,1540.5 L1560.0,1536.4 L1560.5,1537.9 L1561.0,1537.1 L1561.5,1538.7 L1562.0,1535.0 L1562.5,1537.5 L1563.0,1539.3 L1563.5,1540.0 L1564.0,1542.7 L1564.5,1540.9 L1565.0,1541.4 L1565.5,1539.8 L1566.0,1543.4 L1566.5,1539.2 L1567.0,1540.1 L1567.5,1536.7 L1568.0,1537.9 L1568.5,1541.8 L1569.0,1540.2 L1569.5,1537.1 L1570.0,1541.4 L1570.5,1540.4 L1571.0,1539.0 L1571.5,1542.4 L1572.0,1541.1 L1572.5,1541.0 L1573.0,1543.4 L1573.5,1540.2 L1574.0,1542.8 L1574.5,1539.0 L1575.0,1539.1 L1575.5,1541.4 L1576.0,1539.2 L1576.5,1537.6 L1577.0,1539.0 L1577.5,1539.7 L1578.0,1535.2 L1578.5,1539.9 L1579.0,1539.1 L1579.5,1535.4 L1580.0,1536.1 L1580.5,1540.8 L1581.0,1536.7 L1581.5,1544.0 L1582.0,1537.5 L1582.5,1541.0 L1583.0,1536.5 L1583.5,1540.3 L1584.0,1540.2 L1584.5,1542.8 L1585.0,1541.8 L1585.5,1540.3 L1586.0,1544.8 L1586.5,1541.4 L1587.0,1537.2 L1587.5,1539.3 L1588.0,1534.6 L1588.5,1537.1 L1589.0,1541.4 L1589.5,1536.8 L1590.0,1538.4 L1590.5,1535.9 L1591.0,1540.3 L1591.5,1539.6 L1592.0,1539.6 L1592.5,1541.6 L1593.0,1543.8 L1593.5,1541.4 L1594.0,1536.2 L1594.5,1540.4 L1595.0,1539.6 L1595.5,1536.5 L1596.0,1536.1 L1596.5,1538.1 L1597.0,1538.0 L1597.5,1537.7 L1598.0,1536.0 L1598.5,1537.8 L1599.0,1538.9 L1599.5,1537.8 L1600.0,1539.5 L1600.5,1536.4 L1601.0,1534.5 L1601.5,1538.3 L1602.0,1540.8 L1602.5,1543.7 L1603.0,1535.2 L1603.5,1538.2 L1604.0,1537.4 L1604.5,1539.4 L1605.0,1536.6 L1605.5,1539.3 L1606.0,1541.7 L1606.5,1538.3 L1607.0,1539.6 L1607.5,1543.3 L1608.0,1541.7 L1608.5,1535.5 L1609.0,1543.9 L1609.5,1538.3 L1610.0,1540.4 L1610.5,1538.6 L1611.0,1538.5 L1611.5,1538.4 L1612.0,1541.4 L1612.5,1538.8 L1613.0,1538.6 L1613.5,1541.1 L1614.0,1542.1 L1614.5,1537.6 L1615.0,1544.7 L1615.5,1541.6 L1616.0,1545.4 L1616.5,1546.8 L1617.0,1544.2 L1617.5,1544.7 L1618.0,1542.1 L1618.5,1542.3 L1619.0,1540.0 L1619.5,1544.1 L1620.0,1542.4 L1620.5,1538.9 L1621.0,1543.9 L1621.5,1546.5 L1622.0,1545.2 L1622.5,1548.1 L1623.0,1545.1 L1623.5,1543.9 L1624.0,1546.3 L1624.5,1546.1 L1625.0,1543.5 L1625.5,1548.1 L1626.0,1546.9 L1626.5,1543.5 L1627.0,1545.5 L1627.5,1544.9 L1628.0,1546.7 L1628.5,1548.9 L1629.0,1544.2 L1629.5,1544.0 L1630.0,1551.4 L1630.5,1552.6 L1631.0,1547.4 L1631.5,1546.9 L1632.0,1546.1 L1632.5,1548.8 L1633.0,1549.5 L1633.5,1549.2 L1634.0,1551.8 L1634.5,1547.7 L1635.0,1547.8 L1635.5,1546.7 L1636.0,1552.6 L1636.5,1551.6 L1637.0,1551.7 L1637.5,1545.8 L1638.0,1549.4 L1638.5,1546.6 L1639.0,1547.6 L1639.5,1547.8 L1640.0,1545.3 L1640.5,1545.6 L1641.0,1542.7 L1641.5,1545.6 L1642.0,1546.7 L1642.5,1545.4 L1643.0,1548.6 L1643.5,1550.8 L1644.0,1546.2 L1644.5,1545.3 L1645.0,1545.3 L1645.5,1547.3 L1646.0,1550.0 L1646.5,1546.5 L1647.0,1546.2 L1647.5,1543.3 L1648.0,1547.4 L1648.5,1548.7 L1649.0,1546.4 L1649.5,1547.8 L1650.0,1546.5 L1650.5,1549.7 L1651.0,1551.7 L1651.5,1549.6 L1652.0,1549.7 L1652.5,1548.0 L1653.0,1546.4 L1653.5,1547.4 L1654.0,1548.4 L1654.5,1549.0 L1655.0,1548.8 L1655.5,1551.1 L1656.0,1549.9 L1656.5,1552.2 L1657.0,1550.3 L1657.5,1547.5 L1658.0,1548.0 L1658.5,1543.5 L1659.0,1550.7 L1659.5,1546.4 L1660.0,1546.9 L1660.5,1551.9 L1661.0,1545.9 L1661.5,1546.7 L1662.0,1548.4 L1662.5,1547.2 L1663.0,1548.7 L1663.5,1549.4 L1664.0,1550.4 L1664.5,1548.9 L1665.0,1550.7 L1665.5,1547.5 L1666.0,1549.7 L1666.5,1550.8 L1667.0,1543.8 L1667.5,1547.3 L1668.0,1547.9 L1668.5,1542.4 L1669.0,1542.2 L1669.5,1546.9 L1670.0,1545.8 L1670.5,1550.5 L1671.0,1549.0 L1671.5,1549.3 L1672.0,1548.4 L1672.5,1549.2 L1673.0,1547.5 L1673.5,1548.5 L1674.0,1551.8 L1674.5,1548.2 L1675.0,1549.2 L1675.5,1547.5 L1676.0,1546.9 L1676.5,1545.7 L1677.0,1549.8 L1677.5,1546.1 L1678.0,1548.6 L1678.5,1544.1 L1679.0,1549.3 L1679.5,1548.9 L1680.0,1547.4 L1680.5,1544.3 L1681.0,1547.1 L1681.5,1548.2 L1682.0,1547.6 L1682.5,1546.8 L1683.0,1550.9 L1683.5,1547.7 L1684.0,1546.9 L1684.5,1549.1 L1685.0,1548.6 L1685.5,1547.3 L1686.0,1550.0 L1686.5,1545.7 L1687.0,1548.6 L1687.5,1544.9 L1688.0,1547.3 L1688.5,1549.8 L1689.0,1547.7 L1689.5,1547.5 L1690.0,1547.6 L1690.5,1548.6 L1691.0,1547.5 L1691.5,1548.8 L1692.0,1547.0 L1692.5,1551.0 L1693.0,1544.6 L1693.5,1548.4 L1694.0,1543.3 L1694.5,1546.6 L1695.0,1548.9 L1695.5,1543.6 L1696.0,1549.3 L1696.5,1543.3 L1697.0,1544.0 L1697.5,1546.6 L1698.0,1543.9 L1698.5,1548.9 L1699.0,1547.5 L1699.5,1542.2 L1700.0,1543.6 L1700.5,1545.6 L1701.0,1548.3 L1701.5,1544.9 L1702.0,1545.2 L1702.5,1548.8 L1703.0,1545.9 L1703.5,1548.5 L1704.0,1544.4 L1704.5,1549.5 L1705.0,1550.0 L1705.5,1544.1 L1706.0,1542.0 L1706.5,1542.8 L1707.0,1548.1 L1707.5,1544.8 L1708.0,1548.6 L1708.5,1543.5 L1709.0,1544.8 L1709.5,1546.8 L1710.0,1549.0 L1710.5,1546.4 L1711.0,1545.5 L1711.5,1547.7 L1712.0,1547.9 L1712.5,1548.8 L1713.0,1546.3 L1713.5,1544.8 L1714.0,1546.8 L1714.5,1542.7 L1715.0,1547.9 L1715.5,1549.7 L1716.0,1548.2 L1716.5,1544.5 L1717.0,1543.7 L1717.5,1550.6 L1718.0,1546.0 L1718.5,1546.1 L1719.0,1547.4 L1719.5,1545.7 L1720.0,1547.4 L1720.5,1550.8 L1721.0,1546.0 L1721.5,1549.8 L1722.0,1545.6 L1722.5,1546.4 L1723.0,1547.1 L1723.5,1546.6 L1724.0,1545.7 L1724.5,1543.9 L1725.0,1541.2 L1725.5,1545.8 L1726.0,1542.0 L1726.5,1540.9 L1727.0,1543.6 L1727.5,1542.9 L1728.0,1541.6 L1728.5,1541.1 L1729.0,1541.8 L1729.5,1544.6 L1730.0,1540.1 L1730.5,1537.4 L1731.0,1538.5 L1731.5,1541.1 L1732.0,1539.5 L1732.5,1537.6 L1733.0,1541.2 L1733.5,1540.4 L1734.0,1537.8 L1734.5,1537.8 L1735.0,1535.6 L1735.5,1534.4 L1736.0,1534.3 L1736.5,1531.1 L1737.0,1534.2 L1737.5,1533.1 L1738.0,1531.9 L1738.5,1532.2 L1739.0,1531.6 L1739.5,1528.7 L1740.0,1528.6 L1740.5,1527.4 L1741.0,1530.6 L1741.5,1523.5 L1742.0,1525.3 L1742.5,1525.9 L1743.0,1521.5 L1743.5,1520.4 L1744.0,1519.4 L1744.5,1517.5 L1745.0,1522.9 L1745.5,1519.7 L1746.0,1517.8 L1746.5,1519.2 L1747.0,1521.9 L1747.5,1520.3 L1748.0,1519.8 L1748.5,1523.9 L1749.0,1520.7 L1749.5,1522.5 L1750.0,1524.9 L1750.5,1523.5 L1751.0,1525.7 L1751.5,1523.8 L1752.0,1531.4 L1752.5,1526.7 L1753.0,1529.4 L1753.5,1527.6 L1754.0,1527.4 L1754.5,1530.0 L1755.0,1530.6 L1755.5,1531.8 L1756.0,1534.2 L1756.5,1536.2 L1757.0,1539.4 L1757.5,1539.3 L1758.0,1535.9 L1758.5,1540.5 L1759.0,1540.8 L1759.5,1535.2 L1760.0,1535.1 L1760.5,1535.7 L1761.0,1540.3 L1761.5,1535.8 L1762.0,1536.4 L1762.5,1539.2 L1763.0,1536.8 L1763.5,1536.5 L1764.0,1539.0 L1764.5,1538.3 L1765.0,1535.0 L1765.5,1536.6 L1766.0,1540.8 L1766.5,1535.4 L1767.0,1541.1 L1767.5,1538.0 L1768.0,1538.8 L1768.5,1539.0 L1769.0,1535.1 L1769.5,1537.3 L1770.0,1536.8 L1770.5,1539.4 L1771.0,1543.2 L1771.5,1539.9 L1772.0,1541.1 L1772.5,1537.5 L1773.0,1540.6 L1773.5,1540.7 L1774.0,1540.9 L1774.5,1542.5 L1775.0,1544.2 L1775.5,1541.9 L1776.0,1543.0 L1776.5,1539.8 L1777.0,1544.9 L1777.5,1544.1 L1778.0,1540.8 L1778.5,1545.3 L1779.0,1543.8 L1779.5,1547.1 L1780.0,1546.2 L1780.5,1545.4 L1781.0,1548.0 L1781.5,1544.4 L1782.0,1544.4 L1782.5,1545.7 L1783.0,1546.2 L1783.5,1544.4 L1784.0,1547.2 L1784.5,1547.1 L1785.0,1545.5 L1785.5,1544.5 L1786.0,1549.7 L1786.5,1549.6 L1787.0,1548.4 L1787.5,1548.3 L1788.0,1549.9 L1788.5,1547.3 L1789.0,1549.9 L1789.5,1547.0 L1790.0,1544.6 L1790.5,1546.2 L1791.0,1545.9 L1791.5,1547.8 L1792.0,1550.2 L1792.5,1547.8 L1793.0,1548.6 L1793.5,1550.3 L1794.0,1549.9 L1794.5,1547.4 L1795.0,1546.1 L1795.5,1551.0 L1796.0,1545.9 L1796.5,1544.6 L1797.0,1544.9 L1797.5,1550.7 L1798.0,1546.5 L1798.5,1549.1 L1799.0,1549.0 L1799.5,1551.4 L1800.0,1546.9 L1800.5,1549.2 L1801.0,1549.9 L1801.5,1551.2 L1802.0,1549.2 L1802.5,1549.9 L1803.0,1548.7 L1803.5,1551.6 L1804.0,1552.1 L1804.5,1549.9 L1805.0,1551.5 L1805.5,1548.8 L1806.0,1551.9 L1806.5,1549.8 L1807.0,1550.5 L1807.5,1552.7 L1808.0,1554.1 L1808.5,1550.7 L1809.0,1550.4 L1809.5,1550.0 L1810.0,1551.4 L1810.5,1549.7 L1811.0,1551.6 L1811.5,1552.3 L1812.0,1550.7 L1812.5,1549.1 L1813.0,1551.2 L1813.5,1549.1 L1814.0,1546.9 L1814.5,1552.0 L1815.0,1553.5 L1815.5,1552.9 L1816.0,1550.7 L1816.5,1548.4 L1817.0,1550.8 L1817.5,1552.2 L1818.0,1551.0 L1818.5,1554.1 L1819.0,1550.8 L1819.5,1552.7 L1820.0,1552.3 L1820.5,1552.4 L1821.0,1549.8 L1821.5,1551.0 L1822.0,1552.3 L1822.5,1550.7 L1823.0,1549.0 L1823.5,1550.1 L1824.0,1549.1 L1824.5,1550.8 L1825.0,1552.2 L1825.5,1551.8 L1826.0,1552.4 L1826.5,1551.0 L1827.0,1552.0 L1827.5,1548.7 L1828.0,1551.8 L1828.5,1553.0 L1829.0,1550.1 L1829.5,1551.6 L1830.0,1547.6 L1830.5,1549.2 L1831.0,1549.3 L1831.5,1549.8 L1832.0,1549.0 L1832.5,1551.8 L1833.0,1545.9 L1833.5,1547.4 L1834.0,1548.2 L1834.5,1549.8 L1835.0,1549.0 L1835.5,1548.3 L1836.0,1546.7 L1836.5,1547.2 L1837.0,1548.4 L1837.5,1552.2 L1838.0,1547.6 L1838.5,1552.1 L1839.0,1550.4 L1839.5,1548.2 L1840.0,1550.0 L1840.5,1550.2 L1841.0,1546.9 L1841.5,1545.1 L1842.0,1550.3 L1842.5,1547.2 L1843.0,1550.3 L1843.5,1549.6 L1844.0,1545.6 L1844.5,1549.8 L1845.0,1549.8 L1845.5,1550.8 L1846.0,1549.0 L1846.5,1549.4 L1847.0,1549.0 L1847.5,1547.9 L1848.0,1551.1 L1848.5,1550.2 L1849.0,1550.5 L1849.5,1548.2 L1850.0,1549.0 L1850.5,1545.0 L1851.0,1545.4 L1851.5,1548.2 L1852.0,1546.3 L1852.5,1545.6 L1853.0,1546.2 L1853.5,1544.1 L1854.0,1547.1 L1854.5,1548.0 L1855.0,1546.9 L1855.5,1545.6 L1856.0,1550.3 L1856.5,1547.9 L1857.0,1545.5 L1857.5,1546.3 L1858.0,1544.3 L1858.5,1543.7 L1859.0,1543.4 L1859.5,1545.3 L1860.0,1547.6 L1860.5,1548.0 L1861.0,1546.3 L1861.5,1548.3 L1862.0,1546.9 L1862.5,1543.6 L1863.0,1544.3 L1863.5,1545.8 L1864.0,1545.8 L1864.5,1545.9 L1865.0,1541.4 L1865.5,1540.2 L1866.0,1547.1 L1866.5,1542.8 L1867.0,1545.0 L1867.5,1543.3 L1868.0,1540.2 L1868.5,1545.7 L1869.0,1543.7 L1869.5,1545.3 L1870.0,1543.7 L1870.5,1541.1 L1871.0,1543.4 L1871.5,1545.1 L1872.0,1541.2 L1872.5,1543.9 L1873.0,1545.7 L1873.5,1541.3 L1874.0,1542.9 L1874.5,1543.9 L1875.0,1545.3 L1875.5,1541.6 L1876.0,1540.6 L1876.5,1542.7 L1877.0,1540.0 L1877.5,1541.7 L1878.0,1541.2 L1878.5,1539.8 L1879.0,1540.8 L1879.5,1542.0 L1880.0,1538.3 L1880.5,1541.6 L1881.0,1539.9 L1881.5,1539.6 L1882.0,1541.2 L1882.5,1542.7 L1883.0,1540.3 L1883.5,1540.1 L1884.0,1537.7 L1884.5,1539.4 L1885.0,1539.0 L1885.5,1537.3 L1886.0,1538.5 L1886.5,1538.7 L1887.0,1540.6 L1887.5,1537.7 L1888.0,1542.7 L1888.5,1539.8 L1889.0,1539.7 L1889.5,1539.2 L1890.0,1537.6 L1890.5,1535.8 L1891.0,1536.6 L1891.5,1536.6 L1892.0,1536.7 L1892.5,1539.3 L1893.0,1540.7 L1893.5,1537.7 L1894.0,1539.0 L1894.5,1536.4 L1895.0,1534.0 L1895.5,1537.9 L1896.0,1539.1 L1896.5,1540.9 L1897.0,1541.7 L1897.5,1538.2 L1898.0,1539.8 L1898.5,1539.1 L1899.0,1537.1 L1899.5,1537.6 L1900.0,1537.1 L1900.5,1539.0 L1901.0,1533.5 L1901.5,1531.2 L1902.0,1535.7 L1902.5,1537.3 L1903.0,1537.8 L1903.5,1534.2 L1904.0,1536.5 L1904.5,1533.8 L1905.0,1536.3 L1905.5,1533.9 L1906.0,1532.7 L1906.5,1536.4 L1907.0,1531.8 L1907.5,1530.8 L1908.0,1535.2 L1908.5,1534.4 L1909.0,1530.4 L1909.5,1536.7 L1910.0,1530.9 L1910.5,1533.2 L1911.0,1534.3 L1911.5,1538.3 L1912.0,1534.7 L1912.5,1537.0 L1913.0,1534.7 L1913.5,1535.6 L1914.0,1532.2 L1914.5,1535.6 L1915.0,1534.6 L1915.5,1533.8 L1916.0,1537.2 L1916.5,1538.8 L1917.0,1537.5 L1917.5,1535.9 L1918.0,1538.6 L1918.5,1534.7 L1919.0,1537.9 L1919.5,1539.0 L1920.0,1537.6 L1920.5,1536.7 L1921.0,1537.3 L1921.5,1536.0 L1922.0,1536.7 L1922.5,1537.7 L1923.0,1531.9 L1923.5,1538.6 L1924.0,1536.7 L1924.5,1536.3 L1925.0,1534.4 L1925.5,1535.3 L1926.0,1535.0 L1926.5,1537.7 L1927.0,1538.3 L1927.5,1540.3 L1928.0,1537.9 L1928.5,1534.4 L1929.0,1537.1 L1929.5,1538.0 L1930.0,1540.1 L1930.5,1536.8 L1931.0,1539.8 L1931.5,1541.0 L1932.0,1539.7 L1932.5,1540.6 L1933.0,1545.0 L1933.5,1541.0 L1934.0,1545.0 L1934.5,1541.7 L1935.0,1539.8 L1935.5,1542.4 L1936.0,1540.1 L1936.5,1540.5 L1937.0,1536.4 L1937.5,1540.7 L1938.0,1538.6 L1938.5,1542.9 L1939.0,1540.3 L1939.5,1539.7 L1940.0,1537.6 L1940.5,1539.8 L1941.0,1539.0 L1941.5,1538.2 L1942.0,1543.6 L1942.5,1539.9 L1943.0,1541.4 L1943.5,1543.1 L1944.0,1541.0 L1944.5,1541.7 L1945.0,1541.7 L1945.5,1543.0 L1946.0,1542.4 L1946.5,1542.4 L1947.0,1541.4 L1947.5,1540.0 L1948.0,1539.8 L1948.5,1539.2 L1949.0,1540.6 L1949.5,1542.5 L1950.0,1537.5 L1950.5,1537.9 L1951.0,1536.7 L1951.5,1538.5 L1952.0,1540.4 L1952.5,1537.7 L1953.0,1538.0 L1953.5,1533.6 L1954.0,1537.3 L1954.5,1538.6 L1955.0,1536.3 L1955.5,1533.4 L1956.0,1537.9 L1956.5,1537.1 L1957.0,1541.2 L1957.5,1537.1 L1958.0,1538.1 L1958.5,1537.9 L1959.0,1539.2 L1959.5,1534.5 L1960.0,1541.6 L1960.5,1539.4 L1961.0,1537.4 L1961.5,1536.5 L1962.0,1538.3 L1962.5,1537.5 L1963.0,1535.4 L1963.5,1535.0 L1964.0,1536.0 L1964.5,1533.5 L1965.0,1533.7 L1965.5,1532.7 L1966.0,1532.3 L1966.5,1529.1 L1967.0,1529.5 L1967.5,1531.6 L1968.0,1532.1 L1968.5,1530.2 L1969.0,1526.5 L1969.5,1526.6 L1970.0,1530.3 L1970.5,1532.9 L1971.0,1531.8 L1971.5,1528.3 L1972.0,1528.1 L1972.5,1527.6 L1973.0,1531.3 L1973.5,1528.8 L1974.0,1526.9 L1974.5,1530.1 L1975.0,1529.3 L1975.5,1523.0 L1976.0,1525.2 L1976.5,1527.9 L1977.0,1526.8 L1977.5,1522.2 L1978.0,1523.1 L1978.5,1523.5 L1979.0,1521.8 L1979.5,1518.3 L1980.0,1519.6 L1980.5,1521.0 L1981.0,1519.8 L1981.5,1516.1 L1982.0,1520.3 L1982.5,1516.6 L1983.0,1513.0 L1983.5,1514.9 L1984.0,1510.9 L1984.5,1513.8 L1985.0,1515.4 L1985.5,1519.2 L1986.0,1515.2 L1986.5,1516.9 L1987.0,1517.4 L1987.5,1516.7 L1988.0,1515.3 L1988.5,1520.0 L1989.0,1519.0 L1989.5,1521.7 L1990.0,1522.5 L1990.5,1520.1 L1991.0,1522.9 L1991.5,1524.4 L1992.0,1525.2 L1992.5,1527.7 L1993.0,1527.2 L1993.5,1526.5 L1994.0,1531.7 L1994.5,1531.6 L1995.0,1529.1 L1995.5,1526.2 L1996.0,1527.7 L1996.5,1528.1 L1997.0,1528.6 L1997.5,1529.2 L1998.0,1532.4 L1998.5,1533.2 L1999.0,1534.1 L1999.5,1532.0 L2000.0,1535.0 L2000.5,1538.9 L2001.0,1536.6 L2001.5,1536.0 L2002.0,1542.0 L2002.5,1539.3 L2003.0,1537.9 L2003.5,1541.5 L2004.0,1538.4 L2004.5,1539.6 L2005.0,1542.9 L2005.5,1540.3 L2006.0,1537.8 L2006.5,1542.6 L2007.0,1543.5 L2007.5,1539.4 L2008.0,1540.4 L2008.5,1543.5 L2009.0,1542.0 L2009.5,1543.3 L2010.0,1540.6 L2010.5,1540.3 L2011.0,1540.4 L2011.5,1540.4 L2012.0,1541.3 L2012.5,1537.4 L2013.0,1537.7 L2013.5,1541.6 L2014.0,1542.9 L2014.5,1541.1 L2015.0,1542.4 L2015.5,1539.7 L2016.0,1539.2 L2016.5,1542.3 L2017.0,1542.3 L2017.5,1541.9 L2018.0,1540.0 L2018.5,1543.2 L2019.0,1542.8 L2019.5,1542.8 L2020.0,1543.8 L2020.5,1544.0 L2021.0,1545.8 L2021.5,1545.7 L2022.0,1548.8 L2022.5,1548.7 L2023.0,1545.6 L2023.5,1543.2 L2024.0,1547.0 L2024.5,1544.4 L2025.0,1548.6 L2025.5,1543.5 L2026.0,1545.1 L2026.5,1549.7 L2027.0,1547.1 L2027.5,1548.2 L2028.0,1548.2 L2028.5,1545.9 L2029.0,1548.9 L2029.5,1545.0 L2030.0,1546.2 L2030.5,1550.8 L2031.0,1545.7 L2031.5,1546.2 L2032.0,1543.3 L2032.5,1547.8 L2033.0,1543.1 L2033.5,1542.9 L2034.0,1543.4 L2034.5,1542.3 L2035.0,1541.4 L2035.5,1543.7 L2036.0,1543.3 L2036.5,1545.0 L2037.0,1544.1 L2037.5,1544.4 L2038.0,1545.8 L2038.5,1546.5 L2039.0,1544.9 L2039.5,1547.7 L2040.0,1547.8 L2040.5,1549.6 L2041.0,1548.0 L2041.5,1547.4 L2042.0,1548.0 L2042.5,1545.0 L2043.0,1549.5 L2043.5,1547.8 L2044.0,1546.8 L2044.5,1548.1 L2045.0,1545.3 L2045.5,1550.9 L2046.0,1548.1 L2046.5,1546.0 L2047.0,1546.1 L2047.5,1547.3 L2048.0,1547.3 L2048.5,1548.7 L2049.0,1550.6 L2049.5,1550.8 L2050.0,1550.2 L2050.5,1547.4 L2051.0,1551.1 L2051.5,1552.0 L2052.0,1545.5 L2052.5,1547.5 L2053.0,1547.5 L2053.5,1545.8 L2054.0,1550.1 L2054.5,1548.8 L2055.0,1548.1 L2055.5,1545.6 L2056.0,1543.7 L2056.5,1545.9 L2057.0,1546.2 L2057.5,1546.9 L2058.0,1544.2 L2058.5,1545.3 L2059.0,1547.5 L2059.5,1548.6 L2060.0,1546.4 L2060.5,1546.9 L2061.0,1547.6 L2061.5,1548.2 L2062.0,1550.9 L2062.5,1548.1 L2063.0,1549.5 L2063.5,1547.1 L2064.0,1552.6 L2064.5,1552.0 L2065.0,1552.9 L2065.5,1550.6 L2066.0,1550.2 L2066.5,1548.1 L2067.0,1550.8 L2067.5,1552.9 L2068.0,1546.2 L2068.5,1553.0 L2069.0,1548.1 L2069.5,1550.7 L2070.0,1549.2 L2070.5,1550.2 L2071.0,1552.3 L2071.5,1550.4 L2072.0,1553.9 L2072.5,1549.6 L2073.0,1551.0 L2073.5,1548.6 L2074.0,1548.9 L2074.5,1548.1 L2075.0,1550.0 L2075.5,1551.9 L2076.0,1547.4 L2076.5,1545.7 L2077.0,1548.0 L2077.5,1545.8 L2078.0,1548.7 L2078.5,1547.1 L2079.0,1544.9 L2079.5,1546.5 L2080.0,1549.3 L2080.5,1549.0 L2081.0,1546.7 L2081.5,1548.5 L2082.0,1548.4 L2082.5,1546.9 L2083.0,1548.5 L2083.5,1551.6 L2084.0,1545.9 L2084.5,1549.7 L2085.0,1547.5 L2085.5,1549.0 L2086.0,1548.5 L2086.5,1548.4 L2087.0,1546.5 L2087.5,1545.9 L2088.0,1547.2 L2088.5,1545.9 L2089.0,1541.8 L2089.5,1545.3 L2090.0,1546.9 L2090.5,1546.6 L2091.0,1544.8 L2091.5,1542.0 L2092.0,1547.4 L2092.5,1547.2 L2093.0,1548.4 L2093.5,1543.7 L2094.0,1545.7 L2094.5,1544.5 L2095.0,1543.7 L2095.5,1541.3 L2096.0,1543.8 L2096.5,1543.6 L2097.0,1544.4 L2097.5,1549.5 L2098.0,1544.7 L2098.5,1544.4 L2099.0,1547.7 L2099.5,1545.4 L2100.0,1548.2 L2100.5,1546.1 L2101.0,1544.4 L2101.5,1544.1 L2102.0,1545.4 L2102.5,1544.6 L2103.0,1545.4 L2103.5,1543.9 L2104.0,1546.1 L2104.5,1544.0 L2105.0,1544.7 L2105.5,1544.7 L2106.0,1542.2 L2106.5,1543.7 L2107.0,1544.2 L2107.5,1541.6 L2108.0,1540.7 L2108.5,1545.9 L2109.0,1542.1 L2109.5,1541.9 L2110.0,1541.3 L2110.5,1545.7 L2111.0,1541.3 L2111.5,1538.3 L2112.0,1542.7 L2112.5,1540.0 L2113.0,1543.3 L2113.5,1542.9 L2114.0,1546.3 L2114.5,1544.8 L2115.0,1543.6 L2115.5,1547.7 L2116.0,1548.9 L2116.5,1543.8 L2117.0,1547.0 L2117.5,1545.6 L2118.0,1545.5 L2118.5,1541.4 L2119.0,1542.0 L2119.5,1545.9 L2120.0,1543.5 L2120.5,1542.6 L2121.0,1546.8 L2121.5,1546.3 L2122.0,1545.3 L2122.5,1542.3 L2123.0,1544.3 L2123.5,1547.1 L2124.0,1540.2 L2124.5,1540.8 L2125.0,1542.3 L2125.5,1545.9 L2126.0,1544.3 L2126.5,1544.7 L2127.0,1544.3 L2127.5,1544.4 L2128.0,1546.9 L2128.5,1548.5 L2129.0,1545.3 L2129.5,1546.4 L2130.0,1542.2 L2130.5,1546.5 L2131.0,1543.6 L2131.5,1544.2 L2132.0,1542.4 L2132.5,1541.1 L2133.0,1541.6 L2133.5,1541.6 L2134.0,1541.8 L2134.5,1548.9 L2135.0,1545.9 L2135.5,1547.0 L2136.0,1545.2 L2136.5,1542.0 L2137.0,1544.9 L2137.5,1543.3 L2138.0,1543.1 L2138.5,1544.3 L2139.0,1544.8 L2139.5,1544.6 L2140.0,1544.9 L2140.5,1544.3 L2141.0,1544.4 L2141.5,1547.2 L2142.0,1548.6 L2142.5,1546.5 L2143.0,1543.7 L2143.5,1545.2 L2144.0,1546.3 L2144.5,1546.5 L2145.0,1547.4 L2145.5,1548.3 L2146.0,1546.7 L2146.5,1545.4 L2147.0,1543.1 L2147.5,1547.9 L2148.0,1546.7 L2148.5,1544.2 L2149.0,1545.5 L2149.5,1544.2 L2150.0,1543.5 L2150.5,1548.0 L2151.0,1543.5 L2151.5,1548.6 L2152.0,1544.9 L2152.5,1543.5 L2153.0,1544.8 L2153.5,1548.4 L2154.0,1544.5 L2154.5,1546.4 L2155.0,1541.0 L2155.5,1546.5 L2156.0,1542.2 L2156.5,1544.5 L2157.0,1548.6 L2157.5,1545.3 L2158.0,1547.8 L2158.5,1545.0 L2159.0,1544.7 L2159.5,1545.9 L2160.0,1547.9 L2160.5,1546.1 L2161.0,1546.1 L2161.5,1542.8 L2162.0,1540.9 L2162.5,1544.5 L2163.0,1544.2 L2163.5,1544.9 L2164.0,1546.8 L2164.5,1546.2 L2165.0,1542.7 L2165.5,1545.4 L2166.0,1546.2 L2166.5,1545.9 L2167.0,1541.9 L2167.5,1544.8 L2168.0,1546.6 L2168.5,1548.5 L2169.0,1546.7 L2169.5,1544.1 L2170.0,1549.2 L2170.5,1546.4 L2171.0,1545.5 L2171.5,1548.2 L2172.0,1548.8 L2172.5,1546.8 L2173.0,1544.8 L2173.5,1544.7 L2174.0,1547.1 L2174.5,1545.4 L2175.0,1546.2 L2175.5,1541.2 L2176.0,1543.6 L2176.5,1543.8 L2177.0,1543.6 L2177.5,1541.0 L2178.0,1544.2 L2178.5,1549.0 L2179.0,1546.4 L2179.5,1545.2 L2180.0,1544.7 L2180.5,1543.3 L2181.0,1546.6 L2181.5,1544.7 L2182.0,1545.3 L2182.5,1547.7 L2183.0,1547.9 L2183.5,1547.1 L2184.0,1542.5 L2184.5,1545.1 L2185.0,1549.0 L2185.5,1544.0 L2186.0,1548.6 L2186.5,1546.4 L2187.0,1547.9 L2187.5,1545.0 L2188.0,1543.4 L2188.5,1544.4 L2189.0,1548.9 L2189.5,1545.8 L2190.0,1544.6 L2190.5,1549.6 L2191.0,1545.1 L2191.5,1548.5 L2192.0,1549.3 L2192.5,1549.5 L2193.0,1549.8 L2193.5,1548.8 L2194.0,1544.5 L2194.5,1548.7 L2195.0,1547.9 L2195.5,1546.9 L2196.0,1548.2 L2196.5,1548.8 L2197.0,1546.8 L2197.5,1549.8 L2198.0,1551.1 L2198.5,1547.8 L2199.0,1545.9 L2199.5,1544.0 L2200.0,1547.7 L2200.5,1542.7 L2201.0,1549.6 L2201.5,1548.7 L2202.0,1546.2 L2202.5,1548.1 L2203.0,1546.0 L2203.5,1546.2 L2204.0,1549.8 L2204.5,1546.9 L2205.0,1550.0 L2205.5,1549.2 L2206.0,1552.7 L2206.5,1550.2 L2207.0,1552.8 L2207.5,1550.2 L2208.0,1546.7 L2208.5,1545.8 L2209.0,1543.6 L2209.5,1547.1 L2210.0,1542.9 L2210.5,1545.2 L2211.0,1543.0 L2211.5,1544.9 L2212.0,1548.7 L2212.5,1545.7 L2213.0,1546.2 L2213.5,1546.2 L2214.0,1547.3 L2214.5,1544.2 L2215.0,1547.2 L2215.5,1546.2 L2216.0,1544.5 L2216.5,1544.1 L2217.0,1548.6 L2217.5,1548.4 L2218.0,1547.7 L2218.5,1545.2 L2219.0,1546.0 L2219.5,1544.1 L2220.0,1542.7 L2220.5,1545.3 L2221.0,1545.6 L2221.5,1543.8 L2222.0,1543.9 L2222.5,1547.9 L2223.0,1547.0 L2223.5,1544.6 L2224.0,1552.1 L2224.5,1545.0 L2225.0,1549.0 L2225.5,1547.1 L2226.0,1551.3 L2226.5,1549.9 L2227.0,1551.5 L2227.5,1548.7 L2228.0,1547.3 L2228.5,1551.8 L2229.0,1548.6 L2229.5,1548.9 L2230.0,1548.2 L2230.5,1547.2 L2231.0,1549.0 L2231.5,1551.8 L2232.0,1551.9 L2232.5,1549.8 L2233.0,1550.6 L2233.5,1550.6 L2234.0,1547.7 L2234.5,1551.9 L2235.0,1549.3 L2235.5,1545.5 L2236.0,1550.1 L2236.5,1546.7 L2237.0,1548.8 L2237.5,1549.9 L2238.0,1548.4 L2238.5,1549.5 L2239.0,1551.3 L2239.5,1545.8 L2240.0,1544.5 L2240.5,1548.1 L2241.0,1548.1 L2241.5,1553.0 L2242.0,1550.6 L2242.5,1549.7 L2243.0,1548.3 L2243.5,1545.4 L2244.0,1546.2 L2244.5,1547.7 L2245.0,1548.9 L2245.5,1547.6 L2246.0,1549.1 L2246.5,1550.6 L2247.0,1547.7 L2247.5,1547.9 L2248.0,1547.1 L2248.5,1552.4 L2249.0,1546.0 L2249.5,1550.3 L2250.0,1550.5 L2250.5,1544.5 L2251.0,1547.3 L2251.5,1550.0 L2252.0,1545.8 L2252.5,1545.6 L2253.0,1546.4 L2253.5,1549.4 L2254.0,1548.7 L2254.5,1545.7 L2255.0,1544.6 L2255.5,1544.1 L2256.0,1547.9 L2256.5,1543.0 L2257.0,1545.8 L2257.5,1547.8 L2258.0,1544.4 L2258.5,1546.3 L2259.0,1547.1 L2259.5,1549.4 L2260.0,1545.3 L2260.5,1548.5 L2261.0,1548.9 L2261.5,1549.5 L2262.0,1546.2 L2262.5,1550.1 L2263.0,1547.3 L2263.5,1548.6 L2264.0,1546.3 L2264.5,1551.8 L2265.0,1547.8 L2265.5,1552.6 L2266.0,1546.3 L2266.5,1547.4 L2267.0,1551.0 L2267.5,1546.8 L2268.0,1548.4 L2268.5,1550.1 L2269.0,1547.4 L2269.5,1546.0 L2270.0,1545.9 L2270.5,1549.1 L2271.0,1547.3 L2271.5,1549.3 L2272.0,1545.9 L2272.5,1545.4 L2273.0,1543.5 L2273.5,1545.1 L2274.0,1545.3 L2274.5,1546.5 L2275.0,1545.3 L2275.5,1546.2 L2276.0,1547.1 L2276.5,1549.6 L2277.0,1547.2 L2277.5,1546.9 L2278.0,1549.4 L2278.5,1548.2 L2279.0,1544.8 L2279.5,1544.9 L2280.0,1541.7 L2280.5,1542.2 L2281.0,1545.2 L2281.5,1548.1 L2282.0,1549.0 L2282.5,1547.0 L2283.0,1545.7 L2283.5,1547.2 L2284.0,1542.6 L2284.5,1545.5 L2285.0,1543.4 L2285.5,1546.3 L2286.0,1548.7 L2286.5,1550.5 L2287.0,1546.5 L2287.5,1546.8 L2288.0,1543.0" stroke="#000" stroke-width="15.6"/>
</g>
<path fill="#000" fill-rule="evenodd" d="M144,28 H2293 V1601 H144 Z M156,39 V1590 H2282 V39 Z"/>
<g fill="#000"><rect x="270.0" y="1579" width="11" height="12"/><rect x="521.4" y="1579" width="11" height="12"/><rect x="772.9" y="1579" width="11" height="12"/><rect x="1024.3" y="1579" width="11" height="12"/><rect x="1275.7" y="1579" width="11" height="12"/><rect x="1527.2" y="1579" width="11" height="12"/><rect x="1778.6" y="1579" width="11" height="12"/><rect x="2030.0" y="1579" width="11" height="12"/><rect x="395.7" y="1587" width="11" height="4"/><rect x="647.1" y="1587" width="11" height="4"/><rect x="898.6" y="1587" width="11" height="4"/><rect x="1150.0" y="1587" width="11" height="4"/><rect x="1401.4" y="1587" width="11" height="4"/><rect x="1652.9" y="1587" width="11" height="4"/><rect x="1904.3" y="1587" width="11" height="4"/><rect x="2155.7" y="1587" width="11" height="4"/></g>
<g fill="#000" font-family="'DejaVu Sans',sans-serif"><text transform="translate(313.97,1481.80) scale(1.01,1)" font-size="60.7">♦</text><text transform="translate(645.47,1451.60) scale(1.01,1)" font-size="60.7">♦</text><text transform="translate(821.27,1129.50) scale(1.01,1)" font-size="60.7">♦</text><text transform="translate(1040.17,1495.90) scale(1.01,1)" font-size="60.7">♦</text><text transform="translate(1178.57,1409.00) scale(1.01,1)" font-size="60.7">♦</text><text transform="translate(1352.67,1463.20) scale(1.01,1)" font-size="60.7">♦</text><text transform="translate(1484.07,1489.70) scale(1.01,1)" font-size="60.7">♦</text><text transform="translate(1959.57,1505.00) scale(1.01,1)" font-size="60.7">♦</text><text transform="translate(917.12,1508.20) scale(0.918,1)" font-size="57.8">♥</text><text transform="translate(1723.02,1509.90) scale(0.918,1)" font-size="57.8">♥</text><text transform="translate(430.93,186.95) scale(1.035,1)" font-size="49.8">♦</text><text transform="translate(435.04,271.38) scale(0.929,1)" font-size="46.8">♥</text></g>
<g font-family="'Liberation Serif',serif" font-weight="bold" fill="#000">
<text transform="translate(833.5,220.6) rotate(-90)" text-anchor="middle" font-size="53" letter-spacing="0.9">(100)</text>
<text transform="translate(905.0,278.6) rotate(-90)" text-anchor="middle" font-size="53" letter-spacing="0.9">(002)</text>
<text transform="translate(949.5,103.5) rotate(-90)" text-anchor="middle" font-size="53" letter-spacing="0.9">(101)</text>
<text transform="translate(1233.7,398.8) rotate(-90)" text-anchor="middle" font-size="53" letter-spacing="0.9">(102)</text>
<text transform="translate(1457.5,371.6) rotate(-90)" text-anchor="middle" font-size="53" letter-spacing="0.9">(110)</text>
<text transform="translate(1622.8,398.6) rotate(-90)" text-anchor="middle" font-size="53" letter-spacing="0.9">(103)</text>
<text transform="translate(1704.3,451.8) rotate(-90)" text-anchor="middle" font-size="53" letter-spacing="0.9">(200)</text>
<text transform="translate(1749.8,410.2) rotate(-90)" text-anchor="middle" font-size="53" letter-spacing="0.9">(112)</text>
<text transform="translate(1791.6,453.9) rotate(-90)" text-anchor="middle" font-size="53" letter-spacing="0.9">(201)</text>
<text transform="translate(1867.5,468.2) rotate(-90)" text-anchor="middle" font-size="53" letter-spacing="0.9">(004)</text>
<text transform="translate(1976.4,465.2) rotate(-90)" text-anchor="middle" font-size="53" letter-spacing="0.9">(202)</text>
<text transform="translate(330.4,619.2) rotate(-90)" text-anchor="middle" font-size="53" letter-spacing="0.9">(001)</text>
<text transform="translate(638.2,862.5) rotate(-90)" text-anchor="middle" font-size="53" letter-spacing="0.9">(002)</text>
<text transform="translate(689.2,800.2) rotate(-90)" text-anchor="middle" font-size="53" letter-spacing="0.9">(101)</text>
<text transform="translate(834.5,880.9) rotate(-90)" text-anchor="middle" font-size="53" letter-spacing="0.9">(110)</text>
<text transform="translate(874.9,705.3) rotate(-90)" text-anchor="middle" font-size="53" letter-spacing="0.9">(102)</text>
<text transform="translate(959.4,915.3) rotate(-90)" text-anchor="middle" font-size="53" letter-spacing="0.9">(003)</text>
<text transform="translate(1072.5,947.5) rotate(-90)" text-anchor="middle" font-size="53" letter-spacing="0.9">(112)</text>
<text transform="translate(1213.1,952.9) rotate(-90)" text-anchor="middle" font-size="53" letter-spacing="0.9">(200)</text>
<text transform="translate(1292.1,938.8) rotate(-90)" text-anchor="middle" font-size="53" letter-spacing="0.9">(113)</text>
<text transform="translate(1377.0,951.5) rotate(-90)" text-anchor="middle" font-size="53" letter-spacing="0.9">(211)</text>
<text transform="translate(1430.8,903.4) rotate(-90)" text-anchor="middle" font-size="53" letter-spacing="0.9">(104)</text>
<text transform="translate(1501.1,941.2) rotate(-90)" text-anchor="middle" font-size="53" letter-spacing="0.9">(212)</text>
<text transform="translate(1570.4,972.9) rotate(-90)" text-anchor="middle" font-size="53" letter-spacing="0.9">(203)</text>
<text transform="translate(1741.5,972.1) rotate(-90)" text-anchor="middle" font-size="53" letter-spacing="0.9">(220)</text>
<text transform="translate(1928.4,969.5) rotate(-90)" text-anchor="middle" font-size="53" letter-spacing="0.9">(214)</text>
<text transform="translate(1997.1,986.1) rotate(-90)" text-anchor="middle" font-size="53" letter-spacing="0.9">(310)</text>
<text transform="translate(275.5,1666.6) scale(0.98,1)" text-anchor="middle" font-size="69">10</text>
<text transform="translate(526.9,1666.6) scale(0.98,1)" text-anchor="middle" font-size="69">20</text>
<text transform="translate(778.4,1666.6) scale(0.98,1)" text-anchor="middle" font-size="69">30</text>
<text transform="translate(1029.8,1666.6) scale(0.98,1)" text-anchor="middle" font-size="69">40</text>
<text transform="translate(1281.2,1666.6) scale(0.98,1)" text-anchor="middle" font-size="69">50</text>
<text transform="translate(1532.7,1666.6) scale(0.98,1)" text-anchor="middle" font-size="69">60</text>
<text transform="translate(1784.1,1666.6) scale(0.98,1)" text-anchor="middle" font-size="69">70</text>
<text transform="translate(2035.5,1666.6) scale(0.98,1)" text-anchor="middle" font-size="69">80</text>
<text transform="translate(2286.9,1666.6) scale(0.98,1)" text-anchor="middle" font-size="69">90</text>
<text transform="translate(1270.0,1763.3) scale(1,1)" text-anchor="middle" font-size="76">2θ(degree)</text>
<text transform="translate(74.5,866) rotate(-90) scale(0.977,1)" text-anchor="middle" font-size="78">Intensity (a.u.)</text>
<text transform="translate(2161.5,482.7) scale(0.993,1)" text-anchor="middle" font-size="69">ZnO</text>
<text transform="translate(2160.5,1012.0) scale(0.964,1)" text-anchor="middle" font-size="69">BiOCl</text>
<text transform="translate(2068.6,1382.8) scale(0.974,1)" text-anchor="middle" font-size="69">ZnO/BiOCl</text>
<text transform="translate(333.0,184.8) scale(0.985,1)" text-anchor="middle" font-size="62">BiOCl</text>
<text transform="translate(339.6,269.0) scale(1,1)" text-anchor="middle" font-size="62">ZnO</text>
</g>
</svg>
</body></html>
